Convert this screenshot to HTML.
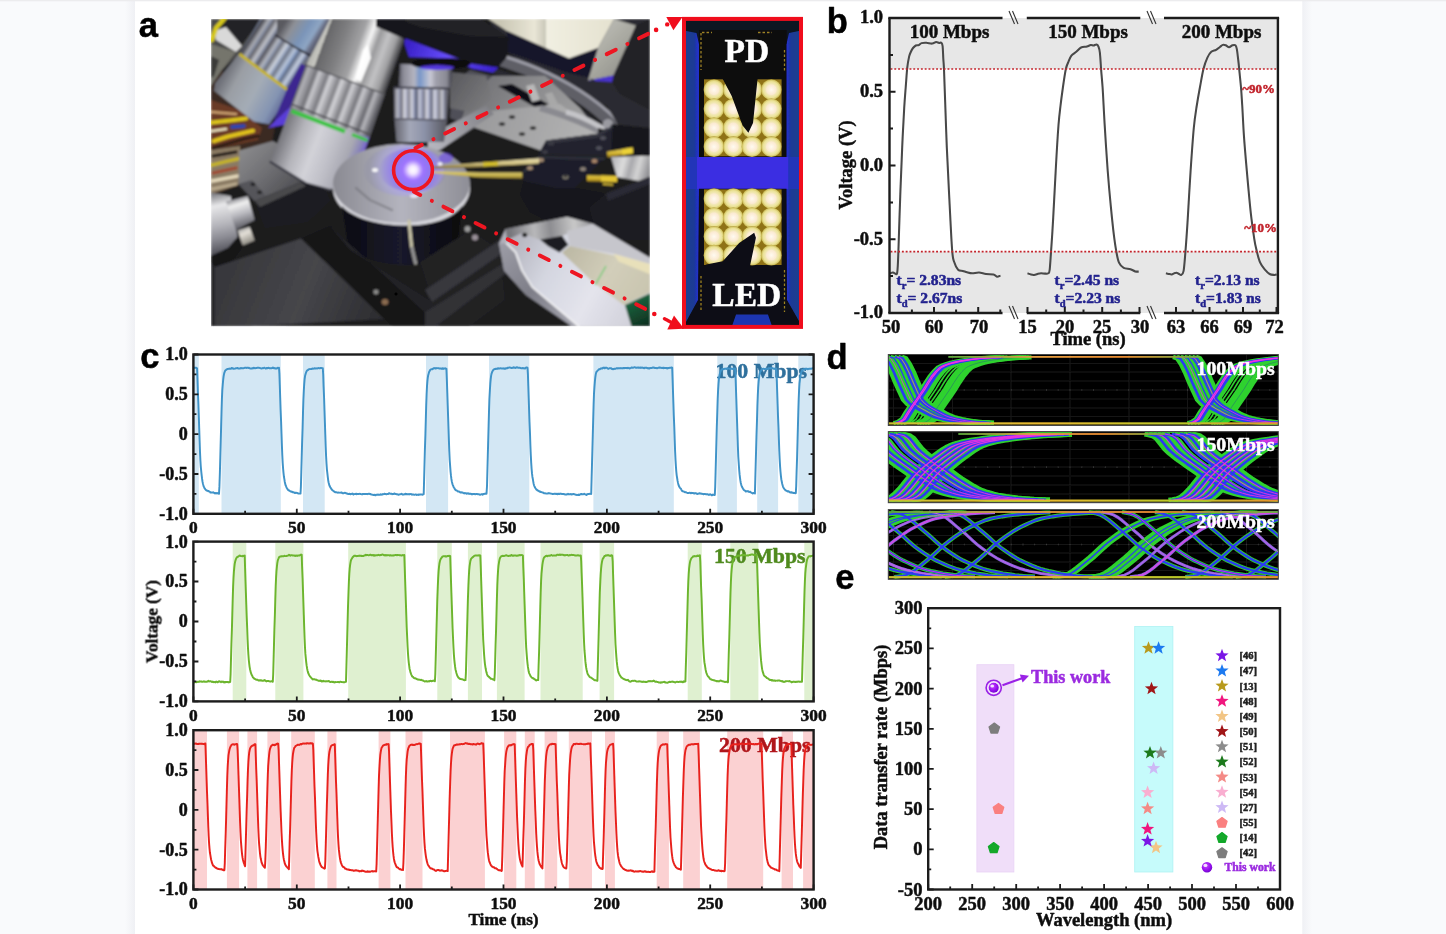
<!DOCTYPE html>
<html><head><meta charset="utf-8"><title>Figure</title>
<style>html,body{margin:0;padding:0;background:#f9fafc;overflow:hidden}svg{display:block}text{stroke-width:0.5px;paint-order:stroke fill;stroke-linejoin:round}</style>
</head><body>
<svg width="1446" height="934" viewBox="0 0 1446 934">
<defs><linearGradient id="shl" x1="0" x2="1"><stop offset="0" stop-color="#f9fafc"/><stop offset="1" stop-color="#eff0f4"/></linearGradient><linearGradient id="shr" x1="0" x2="1"><stop offset="0" stop-color="#eff0f4"/><stop offset="1" stop-color="#f9fafc"/></linearGradient></defs>
<rect x="0" y="0" width="1446" height="934" fill="#f9fafc"/>
<rect x="125" y="0" width="10" height="934" fill="url(#shl)"/>
<rect x="1302" y="0" width="10" height="934" fill="url(#shr)"/>
<rect x="135" y="0" width="1167.3" height="934" fill="#ffffff"/>
<rect x="0" y="0" width="1446" height="1.3" fill="#ececee"/>

<defs><filter id="soft" x="0" y="0" width="1446" height="934" filterUnits="userSpaceOnUse"><feGaussianBlur stdDeviation="0.4"/></filter></defs><g filter="url(#soft)">
<g id="pa">
<defs><linearGradient id="ag1" gradientUnits="userSpaceOnUse" x1="240" y1="150" x2="290" y2="200"><stop offset="0" stop-color="#8a8a8c"/><stop offset="0.5" stop-color="#6e6e72"/><stop offset="1" stop-color="#4c4c50"/></linearGradient><linearGradient id="ag2" gradientUnits="userSpaceOnUse" x1="500" y1="30" x2="615" y2="30"><stop offset="0" stop-color="#c9c6b4"/><stop offset="0.3" stop-color="#e9e6d6"/><stop offset="0.4" stop-color="#c8c6b8"/><stop offset="0.4" stop-color="#f1efe2"/><stop offset="1" stop-color="#e4e1cf"/></linearGradient><linearGradient id="ag3" gradientUnits="userSpaceOnUse" x1="600" y1="30" x2="640" y2="70"><stop offset="0" stop-color="#b9b9b2"/><stop offset="0.5" stop-color="#a4a49c"/><stop offset="1" stop-color="#8a8a86"/></linearGradient><linearGradient id="ag4" gradientUnits="userSpaceOnUse" x1="470" y1="80" x2="580" y2="150"><stop offset="0" stop-color="#6e6e72"/><stop offset="0.5" stop-color="#8e8e90"/><stop offset="1" stop-color="#a4a4a4"/></linearGradient><linearGradient id="ag5" gradientUnits="userSpaceOnUse" x1="480" y1="110" x2="590" y2="150"><stop offset="0" stop-color="#9a9a9c"/><stop offset="1" stop-color="#b4b4b4"/></linearGradient><linearGradient id="ag6" gradientUnits="userSpaceOnUse" x1="430" y1="140" x2="500" y2="100"><stop offset="0" stop-color="#b4b4bc"/><stop offset="1" stop-color="#77777c"/></linearGradient><linearGradient id="ag7" gradientUnits="userSpaceOnUse" x1="452" y1="80" x2="490" y2="105"><stop offset="0" stop-color="#5c5c60"/><stop offset="1" stop-color="#7c7c7e"/></linearGradient><linearGradient id="ag8" gradientUnits="userSpaceOnUse" x1="410" y1="40" x2="490" y2="72"><stop offset="0" stop-color="#3a22c8"/><stop offset="0.5" stop-color="#6a50ff"/><stop offset="1" stop-color="#3c24d0"/></linearGradient><linearGradient id="ag9" gradientUnits="userSpaceOnUse" x1="398" y1="0" x2="452" y2="0"><stop offset="0" stop-color="#4a4a54"/><stop offset="0.1" stop-color="#8c8c98"/><stop offset="0.3" stop-color="#b4b4c0"/><stop offset="0.4" stop-color="#7896c8"/><stop offset="0.6" stop-color="#c8c8d4"/><stop offset="0.7" stop-color="#a0a0ac"/><stop offset="0.9" stop-color="#8a8a94"/><stop offset="1" stop-color="#3e3e48"/></linearGradient><linearGradient id="ag10" gradientUnits="userSpaceOnUse" x1="394" y1="0" x2="448" y2="0"><stop offset="0" stop-color="#5c5c68"/><stop offset="0.1" stop-color="#a6a6b4"/><stop offset="0.3" stop-color="#d4d4de"/><stop offset="0.4" stop-color="#8088a8"/><stop offset="0.6" stop-color="#c8c8d8"/><stop offset="0.7" stop-color="#9aa0bc"/><stop offset="0.8" stop-color="#d0d0d8"/><stop offset="1" stop-color="#6a6a72"/></linearGradient><linearGradient id="ag11" gradientUnits="userSpaceOnUse" x1="394" y1="0" x2="401.5" y2="0" spreadMethod="repeat"><stop offset="0" stop-color="#3a3a46"/><stop offset="0.4" stop-color="#eeeef4"/><stop offset="0.7" stop-color="#8890b0"/><stop offset="1" stop-color="#3a3a46"/></linearGradient><linearGradient id="ag12" gradientUnits="userSpaceOnUse" x1="395" y1="0" x2="444" y2="0"><stop offset="0" stop-color="#666670"/><stop offset="0.3" stop-color="#a4a8b8"/><stop offset="0.6" stop-color="#8c92a8"/><stop offset="1" stop-color="#5e5e68"/></linearGradient><linearGradient id="ag13" gradientUnits="userSpaceOnUse" x1="285" y1="22" x2="322" y2="45"><stop offset="0" stop-color="#5a5a60"/><stop offset="0.2" stop-color="#8e9096"/><stop offset="0.5" stop-color="#7a94b8"/><stop offset="0.7" stop-color="#8fa6c4"/><stop offset="0.8" stop-color="#6a7086"/><stop offset="1" stop-color="#3a3a48"/></linearGradient><linearGradient id="ag14" gradientUnits="userSpaceOnUse" x1="243" y1="50" x2="300" y2="86"><stop offset="0" stop-color="#4c4c52"/><stop offset="0.2" stop-color="#a2a2a8"/><stop offset="0.3" stop-color="#6c6c74"/><stop offset="0.5" stop-color="#b4bcc8"/><stop offset="0.7" stop-color="#7f9ac4"/><stop offset="0.8" stop-color="#a8b4cc"/><stop offset="0.9" stop-color="#6a7088"/><stop offset="1" stop-color="#3c3c50"/></linearGradient><linearGradient id="ag15" gradientUnits="userSpaceOnUse" x1="250" y1="40" x2="258" y2="45.2" spreadMethod="repeat"><stop offset="0" stop-color="#3c3c44"/><stop offset="0.5" stop-color="#e4e8f0"/><stop offset="0.8" stop-color="#7c8cb0"/><stop offset="1" stop-color="#3c3c44"/></linearGradient><linearGradient id="ag16" gradientUnits="userSpaceOnUse" x1="222" y1="78" x2="284" y2="112"><stop offset="0" stop-color="#6e7078"/><stop offset="0.2" stop-color="#9a9ea4"/><stop offset="0.5" stop-color="#a4acb6"/><stop offset="0.8" stop-color="#8494b2"/><stop offset="0.9" stop-color="#6c78a0"/><stop offset="1" stop-color="#5a48b0"/></linearGradient><linearGradient id="ag17" gradientUnits="userSpaceOnUse" x1="306" y1="65" x2="385" y2="94"><stop offset="0" stop-color="#b4b4ae"/><stop offset="0.1" stop-color="#c8c8c2"/><stop offset="0.1" stop-color="#666668"/><stop offset="0.3" stop-color="#7e7e80"/><stop offset="0.5" stop-color="#a2a2a4"/><stop offset="0.6" stop-color="#f2f2f2"/><stop offset="0.6" stop-color="#fafafa"/><stop offset="0.7" stop-color="#9a9a9c"/><stop offset="0.8" stop-color="#c2c2c4"/><stop offset="0.9" stop-color="#a0a0a2"/><stop offset="1" stop-color="#38383c"/></linearGradient><linearGradient id="ag18" gradientUnits="userSpaceOnUse" x1="298" y1="85" x2="377" y2="115"><stop offset="0" stop-color="#56565c"/><stop offset="0.1" stop-color="#9a9aa0"/><stop offset="0.4" stop-color="#c4c4c8"/><stop offset="0.6" stop-color="#b8b8bc"/><stop offset="0.8" stop-color="#a0a0a6"/><stop offset="1" stop-color="#58585e"/></linearGradient><linearGradient id="ag19" gradientUnits="userSpaceOnUse" x1="300" y1="80" x2="311.2" y2="84.2" spreadMethod="repeat"><stop offset="0" stop-color="#4c4c52"/><stop offset="0.3" stop-color="#e4e4e8"/><stop offset="0.7" stop-color="#8c8c92"/><stop offset="1" stop-color="#4c4c52"/></linearGradient><linearGradient id="ag20" gradientUnits="userSpaceOnUse" x1="282" y1="135" x2="362" y2="166"><stop offset="0" stop-color="#7a7a80"/><stop offset="0.2" stop-color="#b4b4ba"/><stop offset="0.4" stop-color="#d2d2d8"/><stop offset="0.6" stop-color="#c0c0c8"/><stop offset="0.8" stop-color="#a8a8b2"/><stop offset="0.9" stop-color="#8a86b8"/><stop offset="1" stop-color="#6a4ae0"/></linearGradient><linearGradient id="ag21" gradientUnits="userSpaceOnUse" x1="333" y1="0" x2="470" y2="0"><stop offset="0" stop-color="#8a8a92"/><stop offset="0.5" stop-color="#b4b4be"/><stop offset="1" stop-color="#8e8e96"/></linearGradient><radialGradient id="ag22" gradientUnits="userSpaceOnUse" cx="411" cy="170" r="42"><stop offset="0" stop-color="#e6dcff" stop-opacity="1"/><stop offset="0.35" stop-color="#b8aef0" stop-opacity="1"/><stop offset="0.75" stop-color="#a8a6c8" stop-opacity="1"/><stop offset="1" stop-color="#9a9aa8" stop-opacity="1"/></radialGradient><radialGradient id="ag23" gradientUnits="userSpaceOnUse" cx="413" cy="170" r="34"><stop offset="0" stop-color="#ffffff" stop-opacity="1"/><stop offset="0.12" stop-color="#f4e8ff" stop-opacity="1"/><stop offset="0.3" stop-color="#9a6cff" stop-opacity="0.9"/><stop offset="0.6" stop-color="#6a4af0" stop-opacity="0.45"/><stop offset="1" stop-color="#5a3ae0" stop-opacity="0"/></radialGradient><linearGradient id="ag24" gradientUnits="userSpaceOnUse" x1="345" y1="0" x2="455" y2="0"><stop offset="0" stop-color="#0c0c12"/><stop offset="0.5" stop-color="#1a1a2c"/><stop offset="1" stop-color="#0a0a10"/></linearGradient><linearGradient id="ag25" gradientUnits="userSpaceOnUse" x1="218" y1="192" x2="232" y2="256"><stop offset="0" stop-color="#77777c"/><stop offset="0.2" stop-color="#e8e8ea"/><stop offset="0.5" stop-color="#b4b4ba"/><stop offset="0.7" stop-color="#8a8a92"/><stop offset="1" stop-color="#3c3c44"/></linearGradient><linearGradient id="ag26" gradientUnits="userSpaceOnUse" x1="236" y1="198" x2="246" y2="230"><stop offset="0" stop-color="#8c8c92"/><stop offset="0.2" stop-color="#f0f0f0"/><stop offset="0.5" stop-color="#b8b8be"/><stop offset="1" stop-color="#4a4a52"/></linearGradient><linearGradient id="ag27" gradientUnits="userSpaceOnUse" x1="242" y1="228" x2="250" y2="246"><stop offset="0" stop-color="#a8a8a8"/><stop offset="0.3" stop-color="#e4e0d8"/><stop offset="1" stop-color="#77746c"/></linearGradient><linearGradient id="ag28" gradientUnits="userSpaceOnUse" x1="230" y1="260" x2="380" y2="320"><stop offset="0" stop-color="#38383c"/><stop offset="0.5" stop-color="#46464a"/><stop offset="1" stop-color="#2c2c30"/></linearGradient><linearGradient id="ag29" gradientUnits="userSpaceOnUse" x1="612" y1="160" x2="650" y2="170"><stop offset="0" stop-color="#b4b4b8"/><stop offset="0.3" stop-color="#dcdcdc"/><stop offset="0.5" stop-color="#a8a8ac"/><stop offset="0.7" stop-color="#d4d4d4"/><stop offset="1" stop-color="#8c8c90"/></linearGradient><linearGradient id="ag30" gradientUnits="userSpaceOnUse" x1="0" y1="160" x2="0" y2="167"><stop offset="0" stop-color="#e2d6a4"/><stop offset="0.6" stop-color="#cdbd7c"/><stop offset="1" stop-color="#8c7a3c"/></linearGradient><linearGradient id="ag31" gradientUnits="userSpaceOnUse" x1="0" y1="171" x2="0" y2="179"><stop offset="0" stop-color="#e0d080"/><stop offset="0.5" stop-color="#c9b650"/><stop offset="1" stop-color="#8a7428"/></linearGradient><linearGradient id="ag32" gradientUnits="userSpaceOnUse" x1="0" y1="149" x2="0" y2="157"><stop offset="0" stop-color="#e8d060"/><stop offset="0.5" stop-color="#d8b832"/><stop offset="1" stop-color="#94781c"/></linearGradient><linearGradient id="ag33" gradientUnits="userSpaceOnUse" x1="0" y1="175" x2="0" y2="182"><stop offset="0" stop-color="#e2c848"/><stop offset="0.5" stop-color="#cfae2c"/><stop offset="1" stop-color="#8e7218"/></linearGradient><linearGradient id="ag34" gradientUnits="userSpaceOnUse" x1="505" y1="245" x2="650" y2="326"><stop offset="0" stop-color="#b0b0ba"/><stop offset="0.3" stop-color="#d4d6e0"/><stop offset="0.6" stop-color="#e4e4ec"/><stop offset="1" stop-color="#cacad4"/></linearGradient><linearGradient id="ag35" gradientUnits="userSpaceOnUse" x1="500" y1="250" x2="570" y2="326"><stop offset="0" stop-color="#9a9aa4"/><stop offset="0.5" stop-color="#7e7e88"/><stop offset="1" stop-color="#a4a4ae"/></linearGradient><linearGradient id="ag36" gradientUnits="userSpaceOnUse" x1="510" y1="230" x2="590" y2="222"><stop offset="0" stop-color="#77777c"/><stop offset="0.3" stop-color="#b8b8ba"/><stop offset="0.5" stop-color="#8c8c90"/><stop offset="0.8" stop-color="#c8c8c8"/><stop offset="1" stop-color="#9a9a9e"/></linearGradient><linearGradient id="ag37" gradientUnits="userSpaceOnUse" x1="565" y1="250" x2="650" y2="300"><stop offset="0" stop-color="#bcb8a4"/><stop offset="0.5" stop-color="#d2ceba"/><stop offset="1" stop-color="#c8c4ae"/></linearGradient><linearGradient id="ag38" gradientUnits="userSpaceOnUse" x1="630" y1="296" x2="645" y2="326"><stop offset="0" stop-color="#1e6e44"/><stop offset="1" stop-color="#0e3020"/></linearGradient><clipPath id="phclip"><rect x="211" y="19" width="439" height="307.3"/></clipPath><filter id="phblur" x="-5%" y="-5%" width="110%" height="110%"><feGaussianBlur stdDeviation="0.9"/></filter></defs>
<g clip-path="url(#phclip)"><g filter="url(#phblur)">
<polygon points="211,19 650,19 650,326.3 211,326.3" fill="#1b1b1f" />
<polygon points="211,19 265,19 240,54 222,70 211,90" fill="#4a4a48" />
<polygon points="224,19 262,19 242,45 218,30" fill="#232325" />
<polygon points="214,31 226,27 242,46 236,52 216,40" fill="#d9d9d9" />
<polygon points="211,44 236,52 222,70 213,86 211,86" fill="#74746c" />
<polygon points="211,56 219,60 214,76 211,78" fill="#3a3a38" />
<polyline points="212,40 216,28 224,19" fill="none" stroke="#d6c81e" stroke-width="4.5" stroke-linecap="round" stroke-linejoin="round"/>
<polygon points="211,86 222,70 262,124 276,122 272,142 239,151 238,186 211,196" fill="#3a2a22" />
<polygon points="211,100 240,110 262,128 258,140 211,150" fill="#6a3a26" />
<polygon points="211,150 240,146 240,184 211,194" fill="#8a7a64" />
<polyline points="212,122.5 230,120.5 246,118.5" fill="none" stroke="#dcc41e" stroke-width="4.2" stroke-linecap="round" stroke-linejoin="round"/>
<polyline points="214,141 228,136.5 253,130.8" fill="none" stroke="#e0c21c" stroke-width="4.2" stroke-linecap="round" stroke-linejoin="round"/>
<polyline points="232,127 244,126" fill="none" stroke="#2846b8" stroke-width="3.4" stroke-linecap="round" stroke-linejoin="round"/>
<polyline points="212,112 236,114" fill="none" stroke="#caa070" stroke-width="2.6" stroke-linecap="round" stroke-linejoin="round"/>
<polyline points="212,131 226,129" fill="none" stroke="#e8e0c0" stroke-width="2.6" stroke-linecap="round" stroke-linejoin="round"/>
<polyline points="213,148 244,139 258,136" fill="none" stroke="#2a1a16" stroke-width="3.2" stroke-linecap="round" stroke-linejoin="round"/>
<polyline points="212,165 226,161.5 239.5,158.5" fill="none" stroke="#c4b228" stroke-width="3.6" stroke-linecap="round" stroke-linejoin="round"/>
<polyline points="213,156 236,152" fill="none" stroke="#1c1412" stroke-width="3" stroke-linecap="round" stroke-linejoin="round"/>
<polyline points="213,173 236,168" fill="none" stroke="#a04830" stroke-width="3.2" stroke-linecap="round" stroke-linejoin="round"/>
<polyline points="212,181 238,176" fill="none" stroke="#e2d6b8" stroke-width="3.4" stroke-linecap="round" stroke-linejoin="round"/>
<polyline points="212,189 236,184" fill="none" stroke="#b8a88c" stroke-width="3" stroke-linecap="round" stroke-linejoin="round"/>
<polygon points="239.3,150.5 272.7,141.1 290,150 301,182.2 254.7,201.1 238.4,184" fill="url(#ag1)" />
<polygon points="238.4,184 252,180 266,196 254.7,201.1" fill="#55555a" />
<polygon points="488,19 650,19 650,120 560,90 507,52" fill="#2a2a30" />
<polygon points="488.4,19 614,19 598,48 569,58.5 507,31" fill="url(#ag2)" />
<polygon points="507,31 569,58.5 598,48 590,78 565,72 507,52" fill="#16142a" />
<polygon points="614,19 636,25.5 613.5,75.5 588,80.5 598,48" fill="url(#ag3)" />
<polygon points="588,80.5 613.5,75.5 617,68 612,82" fill="#4a30d0" />
<polygon points="636,25.5 650,19 650,140 612,82 613.5,75.5" fill="#222226" />
<path d="M480,55 C540,70 600,100 632,148" fill="none" stroke="#5e5e66" stroke-width="11"/>
<path d="M480,50 C542,64 604,96 637,144" fill="none" stroke="#9c9ca6" stroke-width="3"/>
<path d="M470,64 C530,80 590,108 622,152" fill="none" stroke="#2a2a30" stroke-width="6"/>
<polygon points="590,78 650,110 650,150 632,148" fill="#2c2c30" />
<polygon points="492,76 545,76 580,108 598,132 540,150 460,122 470,96" fill="url(#ag4)" />
<polygon points="492,76 470,96 460,122 450,118 452,84 470,70" fill="#505058" />
<polygon points="498,86 512,84 548,104 540,110" fill="#111114" />
<polygon points="526,86 534,84 540,100 532,102" fill="#b8b8b8" />
<polygon points="545,94 552,92 560,108 552,110" fill="#a8a8a8" />
<polygon points="482,112 560,104 600,134 546,152 470,126" fill="url(#ag5)" />
<ellipse cx="502" cy="124" rx="3.2" ry="1.8" fill="#2a2a2c" />
<ellipse cx="512" cy="117" rx="3.2" ry="1.8" fill="#2a2a2c" />
<ellipse cx="522" cy="134" rx="3.2" ry="1.8" fill="#2a2a2c" />
<ellipse cx="533" cy="128" rx="3.2" ry="1.8" fill="#2a2a2c" />
<path d="M540,108 C575,118 605,132 630,150" fill="none" stroke="#8a8a90" stroke-width="6"/>
<path d="M566,112 C590,118 612,134 628,146" fill="none" stroke="#c4c4c8" stroke-width="5"/>
<polygon points="598,128 650,140 650,200 600,190" fill="#1a1a1c" />
<ellipse cx="608" cy="124" rx="5" ry="5" fill="#9a9aa0" />
<polygon points="428,136 486,106 494,114 470,130 440,150 428,150" fill="url(#ag6)" />
<polygon points="450,72 486,76 492,100 470,112 450,108" fill="url(#ag7)" />
<polygon points="380,19 481,19 508.6,38 507,57 498.5,67 472.5,64 403,38 380,30" fill="#19191b" />
<polygon points="398,19 481,19 506,37 470,36 420,27" fill="#232325" />
<polygon points="404.5,38 472.5,64 498.5,67.5 493,72.5 472,68.5 452,58.5 409,57 404.5,44" fill="url(#ag8)" />
<polygon points="400,64 452.5,66 451,88 398.5,87" fill="url(#ag9)" />
<polygon points="393.7,87 448.5,88 447,120 394.5,119" fill="url(#ag10)" />
<polygon points="393.7,89 448.5,90 447,119 394.5,118" fill="url(#ag11)" opacity="0.5" />
<polygon points="394.5,119 447,120 444,142 396.5,142" fill="url(#ag12)" />
<polyline points="393.7,87.5 448.5,88.5" fill="none" stroke="#3c3c48" stroke-width="1.8" stroke-linecap="butt" stroke-linejoin="round"/>
<polyline points="394.5,119 447,120" fill="none" stroke="#4a4a56" stroke-width="1.4" stroke-linecap="butt" stroke-linejoin="round"/>
<ellipse cx="441" cy="63.5" rx="30" ry="5.6" fill="#0c0c10" />
<ellipse cx="437" cy="67.5" rx="17" ry="2.6" fill="#5a3cf0" opacity="0.9" />
<polygon points="277,19 331,19 311.6,55 274.5,35.5 270,26" fill="url(#ag13)" />
<polygon points="260.2,19 277,19 276.9,35.5 311.6,56 301,70 287.2,88.5 239.7,53.5" fill="url(#ag14)" />
<polygon points="260.2,19 277,19 276.9,35.5 311.6,56 301,70 287.2,88.5 239.7,53.5" fill="url(#ag15)" opacity="0.5" />
<polyline points="275,35 293,46 311,56.5" fill="none" stroke="#2a2a34" stroke-width="1.6" stroke-linecap="butt" stroke-linejoin="round"/>
<polygon points="239,53.5 287.2,89.5 288.5,97.2 269.2,124.2 253.8,121.6 214,90.8 215.3,83" fill="url(#ag16)" />
<polyline points="239.5,54 254,65 270,77 287,89.5" fill="none" stroke="#c6b428" stroke-width="3" stroke-linecap="butt" stroke-linejoin="round"/>
<polygon points="287.5,88 301,63.5 306,66 291,106 276,120 273.5,121.6" fill="#3c2890" />
<polygon points="276,120 291,106 288,124 268,128" fill="#5a3cd8" />
<polygon points="330,19 397,19 404,41 385,94.2 306,65.1" fill="url(#ag17)" />
<polygon points="363,50 368,44 371,58 361,82 355,79" fill="#ffffff" opacity="0.95" />
<polygon points="306,65.1 384.8,94.2 369.4,137.5 290.6,107" fill="url(#ag18)" />
<polygon points="306,65.1 384.8,94.2 369.4,137.5 290.6,107" fill="url(#ag19)" opacity="0.55" />
<polyline points="306,65.1 384.8,94.2" fill="none" stroke="#55555a" stroke-width="1.4" stroke-linecap="butt" stroke-linejoin="round"/>
<polyline points="292,104.5 370,134.5" fill="none" stroke="#4a4a50" stroke-width="1.6" stroke-linecap="butt" stroke-linejoin="round"/>
<polygon points="290.6,107 369.4,137.5 352.5,186.5 330,190 306,183.5 270.5,162" fill="url(#ag20)" />
<polyline points="291.5,111 345,131.5" fill="none" stroke="#3cc244" stroke-width="4.2" stroke-linecap="butt" stroke-linejoin="round"/>
<polyline points="352,134.5 367.5,140.5" fill="none" stroke="#3cc244" stroke-width="3.4" stroke-linecap="butt" stroke-linejoin="round"/>
<polyline points="270.5,162 306,183.5 330,190 352.5,186.5" fill="none" stroke="#3a3a44" stroke-width="2.2" stroke-linecap="round" stroke-linejoin="round"/>
<polygon points="376,19 406,19 406,39.5 376,26.5" fill="#19191b" />
<ellipse cx="401.5" cy="188" rx="68.5" ry="40.5" fill="#d6d6dc" />
<ellipse cx="401.5" cy="183.5" rx="68.5" ry="39.5" fill="url(#ag21)" />
<ellipse cx="404" cy="170.5" rx="40" ry="25.5" fill="url(#ag22)" />
<ellipse cx="413" cy="170" rx="34" ry="22" fill="url(#ag23)" />
<ellipse cx="446" cy="158" rx="7" ry="5" fill="#6a48f0" opacity="0.6" />
<ellipse cx="375" cy="170" rx="3" ry="2" fill="#ffffff" opacity="0.9" />
<ellipse cx="440" cy="164" rx="2.5" ry="1.8" fill="#ffffff" opacity="0.9" />
<ellipse cx="414" cy="196" rx="4" ry="1.8" fill="#f4f0ff" opacity="0.9" />
<polyline points="356,188 370,200 392,210" fill="none" stroke="#77777f" stroke-width="2.4" stroke-linecap="round" stroke-linejoin="round" opacity="0.7"/>
<path d="M342,206 C360,228 440,236 462,206 L458,246 C440,272 370,270 348,246 Z" fill="url(#ag24)"/>
<polyline points="409,221 411.5,246 415.5,263" fill="none" stroke="#c8c4a8" stroke-width="3.2" stroke-linecap="round" stroke-linejoin="round"/>
<polyline points="412,248 415.5,263" fill="none" stroke="#8c8c90" stroke-width="2.6" stroke-linecap="round" stroke-linejoin="round"/>
<polygon points="254.7,201.1 301,182.2 325,189 330,200 307.8,222 265,228" fill="#1e1e22" />
<polygon points="254.7,201.1 301,182.2 306,186 260,207" fill="#48484c" />
<ellipse cx="253" cy="184.3" rx="2.4" ry="1.8" fill="#1a1a1c" />
<ellipse cx="259.6" cy="192.3" rx="2.4" ry="1.8" fill="#1a1a1c" />
<polygon points="211,192.5 230.7,196 237.6,237 228,248 211,256" fill="url(#ag25)" />
<polygon points="226,201.5 247.8,196 254.7,220 236,230" fill="url(#ag26)" />
<polygon points="237.6,230.2 249.6,226.8 254.7,240.5 242.7,245.6" fill="url(#ag27)" />
<polygon points="211,256 228,248 237.6,237 243,246 232,262 211,268" fill="#141416" />
<polygon points="215,267 301,238.5 385,319 250,326.3 215,326.3" fill="url(#ag28)" />
<polygon points="211,262 215,267 215,326.3 211,326.3" fill="#26262a" />
<polygon points="301,238.5 330,226 440,326.3 392,326.3" fill="#141418" />
<polygon points="330,226 350,250 470,326.3 440,326.3" fill="#222228" />
<ellipse cx="376" cy="292" rx="2.6" ry="2.4" fill="#8a8a88" />
<ellipse cx="385" cy="302" rx="3.4" ry="3" fill="#8a6a50" />
<ellipse cx="396" cy="294" rx="1.6" ry="1.6" fill="#050505" />
<polygon points="420,262 470,230 500,250 505,300 470,326.3 440,326.3" fill="#202024" />
<polygon points="425,290 500,240 504,252 432,302" fill="#38383e" />
<polygon points="425,312 505,262 508,272 436,326.3 425,326.3" fill="#303036" />
<ellipse cx="467.5" cy="229" rx="3" ry="3" fill="#9a9a9a" />
<ellipse cx="475" cy="237.5" rx="3" ry="3" fill="#9a9098" />
<polygon points="611,157 650,155.5 650,183 617,177" fill="url(#ag29)" />
<polygon points="612,124 650,128 650,156 611.3,152" fill="#17171b" />
<polygon points="605.7,193.5 650,176.8 650,240 597.4,240 589,207.4" fill="#1b1b21" />
<polygon points="605.7,193.5 650,176.8 650,184 608,201" fill="#2c2c34" />
<polygon points="523.7,181 555.7,187.9 575.1,187.9 605.7,193.5 589,207.4 597.4,240 560,228 530,212 520,195" fill="#15151a" />
<polygon points="545.9,140.6 597.4,133.7 612.7,123.9 611.3,151.7 605.7,155.9 539,154.5 540.4,150.4" fill="#21232d" />
<polygon points="545.9,140.6 597.4,133.7 612.7,123.9 612.5,128 598,137.5 546.5,144" fill="#34363f" />
<polygon points="522.3,171.2 539,155.9 605.7,157.3 575.1,187.9 555.7,187.9 523.7,181" fill="#1d1f29" />
<polygon points="522.3,171.2 539,155.9 605.7,157.3 604,160 540,158.5 525,172.5" fill="#2e303a" />
<ellipse cx="551" cy="143.5" rx="3" ry="2.1" fill="#3a3a44" />
<ellipse cx="545" cy="152" rx="3" ry="2.1" fill="#3a3a44" />
<ellipse cx="603" cy="138" rx="3" ry="2.1" fill="#50505a" />
<ellipse cx="599" cy="148" rx="3" ry="2.1" fill="#50505a" />
<ellipse cx="541" cy="160" rx="3" ry="2.1" fill="#a08870" />
<ellipse cx="530" cy="168" rx="3" ry="2.1" fill="#a08870" />
<ellipse cx="594.5" cy="161" rx="3" ry="2.1" fill="#a88468" />
<ellipse cx="583" cy="169" rx="3" ry="2.1" fill="#8a8078" />
<ellipse cx="565.5" cy="177" rx="3" ry="2.1" fill="#8a8678" />
<ellipse cx="565.5" cy="176.5" rx="1.6" ry="1.2" fill="#1a1a1e" />
<ellipse cx="607" cy="124" rx="4.2" ry="4.2" fill="#9a9aa0" />
<polygon points="432,166.6 470,163.6 539,158.2 539,163.6 470,167.6 432,168.6" fill="url(#ag30)" />
<polygon points="432,171.2 480,172.6 522.3,172.4 522.3,178.6 480,177.4 432,173" fill="url(#ag31)" />
<polyline points="483,164.6 498,163.4" fill="none" stroke="#d2bc2a" stroke-width="4" stroke-linecap="butt" stroke-linejoin="round"/>
<polygon points="607,151.8 632.5,147.6 633,153.2 607.5,157.4" fill="url(#ag32)" />
<polygon points="622,149.2 632.5,147.4 633,153.3 622.5,155" fill="#ecd238" />
<polygon points="587,175.2 617,176 617,182 587,181.2" fill="url(#ag33)" />
<polygon points="601,175.6 617,176 617,182 601,181.6" fill="#e4c634" />
<polyline points="603,184 613,184.6" fill="none" stroke="#c8ae30" stroke-width="2.2" stroke-linecap="butt" stroke-linejoin="round"/>
<polygon points="499,243.4 505.4,229.3 567.1,217.1 592.8,224.1 650,258 650,326.3 572.2,326.3 526,294.8 504.1,270.4" fill="url(#ag34)" />
<polygon points="499,243.4 506.7,243.4 515.7,252.4 522.1,270.4 532.4,287.1 578.7,326.3 572.2,326.3 526,294.8 504.1,270.4" fill="url(#ag35)" />
<polyline points="506.7,243.4 515.7,252.4 522.1,270.4 532.4,287.1 578.7,326.3" fill="none" stroke="#f2f2f4" stroke-width="1.8" stroke-linecap="round" stroke-linejoin="round"/>
<polygon points="505.4,229.3 567.1,217.1 592.8,224.1 562,235.7 538.8,239.6 522.1,233.1 507,240" fill="url(#ag36)" />
<ellipse cx="524.7" cy="235" rx="2.6" ry="2.2" fill="#151515" />
<polygon points="567,231 592.8,224.1 650,258 650,264 613.4,253.7 569.7,246" fill="#c6c6cc" />
<polygon points="540.1,239.6 562,235.7 568.4,244.7 559.4,252.4 547.8,246" fill="#1c1c20" />
<polygon points="562,252.4 569.7,246 613.4,255 650,269.1 650,292.2 623.6,305.1 592.8,282" fill="url(#ag37)" />
<polygon points="613.4,253.7 650,264 650,274.3 618.5,261.4" fill="#e8e0ba" />
<polyline points="605.7,266.5 595.4,284.5" fill="none" stroke="#5ccc66" stroke-width="1.4" stroke-linecap="round" stroke-linejoin="round" opacity="0.85"/>
<polygon points="624.9,305.1 650,293.2 650,326.3 631.4,326.3" fill="url(#ag38)" />
</g></g>
<circle cx="413" cy="170.2" r="19.4" fill="none" stroke="#ee1520" stroke-width="3.6"/>
<path d="M415.5,148L650,32.9" stroke="#ee1520" stroke-width="4" stroke-linecap="round" stroke-dasharray="10,13,0.01,13" stroke-dashoffset="3" fill="none"/>
<path d="M414,191.8L649,310.8" stroke="#ee1520" stroke-width="4" stroke-linecap="round" stroke-dasharray="10,13,0.01,13" stroke-dashoffset="3" fill="none"/>
</g>
<g id="inset">
<defs><radialGradient id="ledc" cx="0.5" cy="0.5" r="0.5"><stop offset="0" stop-color="#fffaf0"/><stop offset="0.46" stop-color="#fbead2"/><stop offset="0.56" stop-color="#f2e8b8"/><stop offset="0.78" stop-color="#ebe296"/><stop offset="0.93" stop-color="#d2c464"/><stop offset="1" stop-color="#ad9836"/></radialGradient><linearGradient id="insbg" x1="0" x2="1"><stop offset="0" stop-color="#1b3f8c"/><stop offset="0.1" stop-color="#1c3a96"/><stop offset="0.13" stop-color="#2230c8"/><stop offset="0.87" stop-color="#2230c8"/><stop offset="0.9" stop-color="#1c3a96"/><stop offset="1" stop-color="#1b3f8c"/></linearGradient><filter id="insblur" x="-5%" y="-5%" width="110%" height="110%"><feGaussianBlur stdDeviation="0.7"/></filter><clipPath id="insclip"><rect x="684" y="19" width="117" height="308"/></clipPath></defs>
<g clip-path="url(#insclip)"><g filter="url(#insblur)">
<rect x="682" y="17" width="121" height="312" fill="url(#insbg)"/>
<polygon points="684,19 801,19 801,30.5 789,33 786.5,44 699,44 696.5,33 684,30.5" fill="#0b1422"/>
<rect x="699" y="30" width="87.5" height="127.5" fill="#0a0a10"/>
<rect x="697" y="157" width="91.5" height="32" fill="#3b2fe2"/>
<rect x="686" y="157" width="11" height="32" fill="#2236b8"/>
<rect x="788.5" y="157" width="12" height="32" fill="#2236b8"/>
<polygon points="699,188.7 786.5,188.7 787,300 799.5,322 799.5,326 686,326 686,322 698,300" fill="#0a0a12"/>
<polygon points="732,326 736,314.5 768,314.5 772,326" fill="#1c36b0"/>
<path d="M701,33V70M784.5,50V72M701,276V312M784.5,270V312" stroke="#b89a28" stroke-width="1.3" stroke-dasharray="2.5,2" fill="none" opacity="0.85"/>
<path d="M702,32.5H712M758,32.5H772" stroke="#b89a28" stroke-width="1.3" stroke-dasharray="2.5,2" fill="none" opacity="0.85"/>
<rect x="704" y="79.3" width="77.6" height="77" fill="#8f7216"/>
<rect x="704" y="189.4" width="77.6" height="75.6" fill="#8f7216"/>
<circle cx="714" cy="89.7" r="10.4" fill="url(#ledc)"/>
<circle cx="733.3" cy="89.7" r="10.4" fill="url(#ledc)"/>
<circle cx="752" cy="89.7" r="10.4" fill="url(#ledc)"/>
<circle cx="771.3" cy="89.7" r="10.4" fill="url(#ledc)"/>
<circle cx="714" cy="108.8" r="10.4" fill="url(#ledc)"/>
<circle cx="733.3" cy="108.8" r="10.4" fill="url(#ledc)"/>
<circle cx="752" cy="108.8" r="10.4" fill="url(#ledc)"/>
<circle cx="771.3" cy="108.8" r="10.4" fill="url(#ledc)"/>
<circle cx="714" cy="127.9" r="10.4" fill="url(#ledc)"/>
<circle cx="733.3" cy="127.9" r="10.4" fill="url(#ledc)"/>
<circle cx="752" cy="127.9" r="10.4" fill="url(#ledc)"/>
<circle cx="771.3" cy="127.9" r="10.4" fill="url(#ledc)"/>
<circle cx="714" cy="146.7" r="10.4" fill="url(#ledc)"/>
<circle cx="733.3" cy="146.7" r="10.4" fill="url(#ledc)"/>
<circle cx="752" cy="146.7" r="10.4" fill="url(#ledc)"/>
<circle cx="771.3" cy="146.7" r="10.4" fill="url(#ledc)"/>
<circle cx="714" cy="198.7" r="10.4" fill="url(#ledc)"/>
<circle cx="733.3" cy="198.7" r="10.4" fill="url(#ledc)"/>
<circle cx="752" cy="198.7" r="10.4" fill="url(#ledc)"/>
<circle cx="771.3" cy="198.7" r="10.4" fill="url(#ledc)"/>
<circle cx="714" cy="217.8" r="10.4" fill="url(#ledc)"/>
<circle cx="733.3" cy="217.8" r="10.4" fill="url(#ledc)"/>
<circle cx="752" cy="217.8" r="10.4" fill="url(#ledc)"/>
<circle cx="771.3" cy="217.8" r="10.4" fill="url(#ledc)"/>
<circle cx="714" cy="236.5" r="10.4" fill="url(#ledc)"/>
<circle cx="733.3" cy="236.5" r="10.4" fill="url(#ledc)"/>
<circle cx="752" cy="236.5" r="10.4" fill="url(#ledc)"/>
<circle cx="771.3" cy="236.5" r="10.4" fill="url(#ledc)"/>
<circle cx="714" cy="255.2" r="10.4" fill="url(#ledc)"/>
<circle cx="733.3" cy="255.2" r="10.4" fill="url(#ledc)"/>
<circle cx="752" cy="255.2" r="10.4" fill="url(#ledc)"/>
<circle cx="771.3" cy="255.2" r="10.4" fill="url(#ledc)"/>
<polygon points="722.5,78.5 757.6,78.5 755.8,96 753,123 748.4,132.8 742.6,125.5 731.7,96" fill="#0a0a10"/>
<polygon points="703.5,266 706.4,264.5 722.8,261.2 739.2,243 754.2,232.8 755.9,237.8 750.2,265 750.2,268 703.5,268" fill="#0a0a12"/>
</g></g>
<rect x="684" y="18.9" width="117" height="308" fill="none" stroke="#f0101c" stroke-width="4"/>
<text x="746.9" y="61.8" font-family="'Liberation Serif',serif" font-size="33.5" font-weight="bold" text-anchor="middle" fill="#ffffff" stroke="#ffffff" >PD</text>
<text x="746.8" y="306.2" font-family="'Liberation Serif',serif" font-size="33.5" font-weight="bold" text-anchor="middle" fill="#ffffff" stroke="#ffffff" >LED</text>
<circle cx="656.1" cy="29.9" r="2.3" fill="#f0101c"/>
<circle cx="667.2" cy="24.4" r="2.2" fill="#f0101c"/>
<polygon points="666.3,16.9 682.5,16.9 673.4,30.2" fill="#f0101c"/>
<circle cx="654.3" cy="314" r="2.3" fill="#f0101c"/>
<path d="M664.5,318.7L671,322.2" stroke="#f0101c" stroke-width="3.4" stroke-linecap="round"/>
<polygon points="674,315.5 684,328.8 667.3,329.6" fill="#f0101c"/>
</g>
<g id="pb">
<rect x="889.5" y="18" width="388.4" height="51" fill="#e7e7e7"/>
<rect x="889.5" y="251.6" width="388.4" height="61.4" fill="#e7e7e7"/>
<path d="M889.9,273.3C890.4,273.2 892.1,272.5 893,272.6C893.9,272.7 894.9,273.6 895.5,273.8C896.1,274 896.5,274.6 896.8,274C897.1,273.4 897.2,273.7 897.5,270C897.8,266.3 898,263.1 898.4,251C898.8,238.9 899.7,210.9 900.3,194.3C900.9,177.7 901.6,160.9 902.2,147.1C902.8,133.3 903.6,117.5 904.2,108C904.8,98.5 905.2,93.9 905.7,87.5C906.2,81.1 906.7,73.1 907.2,68.2C907.7,63.3 908.5,59.3 909.1,56.6C909.7,53.9 910.4,52.9 911,51.5C911.6,50.1 912.2,49 913,48C913.8,47 914.9,46 915.8,45.5C916.7,45 917.8,45.5 918.7,45.1C919.6,44.7 920.4,43.5 921.6,43.1C922.8,42.7 924.7,42.6 926.4,42.7C928.1,42.8 930.6,43.7 932.2,43.6C933.8,43.5 935,42.1 936.1,42C937.2,41.9 938.2,42.8 939,42.9C939.8,43 940.8,42.2 941.4,42.7C942,43.2 942.3,43.5 942.6,46C942.9,48.5 943.1,54.9 943.3,58.6C943.5,62.3 943.7,62.6 944,69.2C944.3,75.8 944.7,87.5 945.1,100C945.5,112.5 946.2,132 946.8,147.1C947.4,162.2 948.2,177.7 949.1,194.3C950,210.9 951.3,240 952.2,250.9C953.1,261.8 953.6,259.7 954.5,262.7C955.4,265.7 956.8,268.4 958.1,269.7C959.4,271 961.4,270.5 962.8,270.9C964.2,271.3 965.5,271.9 967,272.3C968.5,272.7 970.3,273.3 972.2,273.3C974.1,273.3 976.8,272.4 979,272.5C981.2,272.6 983.7,273.7 986,274C988.3,274.3 991.6,274 993.4,274.4C995.2,274.8 995.9,276.6 997,276.8C998.1,277 999.9,275.8 1000.5,275.6" fill="none" stroke="#484848" stroke-width="2.05" stroke-linejoin="round"/>
<path d="M1027.5,273.3C1028.1,273.5 1029.9,274.2 1031,274.5C1032.1,274.8 1033,275 1034.1,274.9C1035.2,274.8 1036.9,274.1 1038,273.8C1039.1,273.5 1040.1,273.3 1041.2,273.3C1042.3,273.3 1043.9,273.6 1045,273.6C1046.1,273.6 1047.5,273.9 1048.3,273.3C1049.1,272.7 1049.3,273.3 1049.7,269.7C1050.1,266.1 1050.5,259.2 1051.1,250.9C1051.7,242.6 1052.5,230.7 1053.2,217.9C1053.9,205.1 1054.9,185.6 1055.7,170.7C1056.5,155.8 1057.7,135.5 1058.5,125C1059.3,114.5 1059.9,111 1060.6,105C1061.3,99 1062.1,93.2 1062.9,87.5C1063.7,81.8 1064.9,73.4 1065.8,69.2C1066.7,65 1067.7,63.6 1068.6,61.4C1069.5,59.2 1070.2,57.2 1071.4,55.7C1072.6,54.2 1074.7,53.1 1076.3,51.8C1077.9,50.5 1079.4,48.3 1081.1,47.5C1082.8,46.7 1085.4,46.9 1086.9,46.5C1088.4,46.1 1089.6,45.3 1090.7,45.1C1091.8,44.9 1092.7,45.6 1093.6,45.5C1094.5,45.4 1095.7,44.4 1096.5,44.6C1097.3,44.8 1097.9,45.2 1098.4,46.5C1098.9,47.8 1099.5,49.2 1099.9,52.8C1100.3,56.4 1100.7,63.6 1101.1,69.2C1101.5,74.8 1102,78.8 1102.6,87.5C1103.2,96.2 1103.8,110.3 1104.6,123.6C1105.4,136.9 1106.7,157.5 1107.7,170.7C1108.7,183.9 1109.8,195.9 1110.8,206.1C1111.8,216.3 1112.9,227.2 1113.8,234.4C1114.7,241.6 1115.4,246.4 1116.2,250.9C1117,255.4 1117.8,260 1119,262.7C1120.2,265.4 1121.9,266.9 1123.7,267.9C1125.5,268.9 1128.6,268.6 1130.5,269.2C1132.4,269.8 1134,271 1135.3,271.4C1136.6,271.8 1138.2,271.6 1138.7,271.6" fill="none" stroke="#484848" stroke-width="2.05" stroke-linejoin="round"/>
<path d="M1165.9,273.3C1166.4,273.4 1168.1,273.8 1169,274C1169.9,274.2 1171,274.5 1171.8,274.4C1172.6,274.3 1173.2,273.7 1174,273.4C1174.8,273.1 1175.7,272.7 1176.5,272.8C1177.3,272.9 1178.2,273.7 1179,274C1179.8,274.3 1180.5,275.4 1181.2,274.9C1181.9,274.4 1182.9,274.7 1183.6,270.9C1184.3,267.1 1184.8,259.4 1185.5,250.9C1186.2,242.4 1187,230.7 1187.8,217.9C1188.6,205.1 1189.6,185.1 1190.6,170.7C1191.6,156.3 1192.8,138.4 1193.8,128C1194.8,117.6 1195.7,112.5 1196.7,106C1197.7,99.5 1198.8,93.4 1199.9,87.5C1201,81.6 1202.2,74 1203.4,69.2C1204.6,64.4 1206.1,60.4 1207.4,57.6C1208.7,54.8 1209.9,53 1211.3,51.8C1212.7,50.6 1214.7,50.7 1216.1,49.9C1217.5,49.1 1218.8,47.8 1219.9,47C1221,46.2 1221.9,45.2 1222.8,44.9C1223.7,44.6 1224.7,44.9 1225.7,45.3C1226.7,45.7 1228,47.2 1229.1,47.2C1230.2,47.2 1231.5,45.6 1232.5,45.3C1233.5,45 1234.7,44.7 1235.4,45.3C1236.1,45.9 1236.3,46.5 1236.8,48.9C1237.3,51.3 1237.9,57.3 1238.3,60.5C1238.7,63.7 1238.8,64.9 1239.2,69.2C1239.6,73.5 1240.5,81.8 1241,87.5C1241.5,93.2 1241.7,97.3 1242.2,105C1242.7,112.7 1243.2,124.9 1243.9,135.4C1244.6,145.9 1245.7,158.3 1246.8,170.7C1247.9,183.1 1249.6,202.3 1250.8,213.2C1252,224.1 1253.4,233.1 1254.3,239.1C1255.2,245.1 1255.8,247.1 1256.7,250.9C1257.6,254.7 1258.9,259.7 1260.2,262.7C1261.5,265.7 1263.4,267.9 1264.9,269.7C1266.4,271.5 1268.1,273.2 1269.6,274C1271.1,274.8 1273.2,274.8 1274.3,274.9C1275.4,275 1276.3,274.5 1276.7,274.4" fill="none" stroke="#484848" stroke-width="2.05" stroke-linejoin="round"/>
<line x1="890.5" y1="69" x2="1276.9" y2="69" stroke="#c4232b" stroke-width="1.7" stroke-dasharray="1.9,1.9"/>
<line x1="890.5" y1="251.6" x2="1276.9" y2="251.6" stroke="#c4232b" stroke-width="1.7" stroke-dasharray="1.9,1.9"/>
<line x1="888.3" y1="18" x2="1002.5" y2="18" stroke="#1c1c1c" stroke-width="2.4"/>
<line x1="888.3" y1="313" x2="1002.5" y2="313" stroke="#1c1c1c" stroke-width="2.4"/>
<line x1="1026.8" y1="18" x2="1140.3" y2="18" stroke="#1c1c1c" stroke-width="2.4"/>
<line x1="1026.8" y1="313" x2="1140.3" y2="313" stroke="#1c1c1c" stroke-width="2.4"/>
<line x1="1164" y1="18" x2="1279.1" y2="18" stroke="#1c1c1c" stroke-width="2.4"/>
<line x1="1164" y1="313" x2="1279.1" y2="313" stroke="#1c1c1c" stroke-width="2.4"/>
<line x1="889.5" y1="18" x2="889.5" y2="313" stroke="#1c1c1c" stroke-width="2.4"/>
<line x1="1277.9" y1="18" x2="1277.9" y2="313" stroke="#1c1c1c" stroke-width="2.4"/>
<path d="M889.5,18h6M889.5,54.9h3.5M889.5,91.8h6M889.5,128.6h3.5M889.5,165.5h6M889.5,202.4h3.5M889.5,239.2h6M889.5,276.1h3.5M889.5,313h6M911.9,313v-3.5M934,313v-6M956.1,313v-3.5M978.2,313v-6M1000.3,313v-3.5M1027.5,313v-6M1046.2,313v-3.5M1064.8,313v-6M1083.5,313v-3.5M1102.2,313v-6M1120.9,313v-3.5M1139.5,313v-6M1176,313v-6M1192.8,313v-3.5M1209.5,313v-6M1226.3,313v-3.5M1243,313v-6M1259.8,313v-3.5M1276.5,313v-6" stroke="#1c1c1c" stroke-width="2" fill="none"/>
<path d="M1009,11l5.5,13M1012.5,11l5.5,13" stroke="#333" stroke-width="1.1" fill="none"/>
<path d="M1009,306l5.5,13M1012.5,306l5.5,13" stroke="#333" stroke-width="1.1" fill="none"/>
<path d="M1147,11l5.5,13M1150.5,11l5.5,13" stroke="#333" stroke-width="1.1" fill="none"/>
<path d="M1147,306l5.5,13M1150.5,306l5.5,13" stroke="#333" stroke-width="1.1" fill="none"/>
<text x="883" y="23.3" font-family="'Liberation Serif',serif" font-size="18.5" font-weight="bold" text-anchor="end" fill="#111" stroke="#111" >1.0</text>
<text x="883" y="97" font-family="'Liberation Serif',serif" font-size="18.5" font-weight="bold" text-anchor="end" fill="#111" stroke="#111" >0.5</text>
<text x="883" y="170.8" font-family="'Liberation Serif',serif" font-size="18.5" font-weight="bold" text-anchor="end" fill="#111" stroke="#111" >0.0</text>
<text x="883" y="244.6" font-family="'Liberation Serif',serif" font-size="18.5" font-weight="bold" text-anchor="end" fill="#111" stroke="#111" >-0.5</text>
<text x="883" y="318.3" font-family="'Liberation Serif',serif" font-size="18.5" font-weight="bold" text-anchor="end" fill="#111" stroke="#111" >-1.0</text>
<text x="891" y="333" font-family="'Liberation Serif',serif" font-size="18.5" font-weight="bold" text-anchor="middle" fill="#111" stroke="#111" >50</text>
<text x="934" y="333" font-family="'Liberation Serif',serif" font-size="18.5" font-weight="bold" text-anchor="middle" fill="#111" stroke="#111" >60</text>
<text x="979" y="333" font-family="'Liberation Serif',serif" font-size="18.5" font-weight="bold" text-anchor="middle" fill="#111" stroke="#111" >70</text>
<text x="1027.5" y="333" font-family="'Liberation Serif',serif" font-size="18.5" font-weight="bold" text-anchor="middle" fill="#111" stroke="#111" >15</text>
<text x="1065" y="333" font-family="'Liberation Serif',serif" font-size="18.5" font-weight="bold" text-anchor="middle" fill="#111" stroke="#111" >20</text>
<text x="1102" y="333" font-family="'Liberation Serif',serif" font-size="18.5" font-weight="bold" text-anchor="middle" fill="#111" stroke="#111" >25</text>
<text x="1140" y="333" font-family="'Liberation Serif',serif" font-size="18.5" font-weight="bold" text-anchor="middle" fill="#111" stroke="#111" >30</text>
<text x="1176" y="333" font-family="'Liberation Serif',serif" font-size="18.5" font-weight="bold" text-anchor="middle" fill="#111" stroke="#111" >63</text>
<text x="1209.5" y="333" font-family="'Liberation Serif',serif" font-size="18.5" font-weight="bold" text-anchor="middle" fill="#111" stroke="#111" >66</text>
<text x="1243" y="333" font-family="'Liberation Serif',serif" font-size="18.5" font-weight="bold" text-anchor="middle" fill="#111" stroke="#111" >69</text>
<text x="1274.5" y="333" font-family="'Liberation Serif',serif" font-size="18.5" font-weight="bold" text-anchor="middle" fill="#111" stroke="#111" >72</text>
<text x="1088" y="345" font-family="'Liberation Serif',serif" font-size="18.5" font-weight="bold" text-anchor="middle" fill="#111" stroke="#111" >Time (ns)</text>
<text transform="translate(851.5,165) rotate(-90)" font-family="'Liberation Serif',serif" font-size="18.5" font-weight="bold" text-anchor="middle" fill="#111" stroke="#111">Voltage (V)</text>
<text x="949.5" y="37.5" font-family="'Liberation Serif',serif" font-size="19" font-weight="bold" text-anchor="middle" fill="#111" stroke="#111" >100 Mbps</text>
<text x="1088" y="37.5" font-family="'Liberation Serif',serif" font-size="19" font-weight="bold" text-anchor="middle" fill="#111" stroke="#111" >150 Mbps</text>
<text x="1221.5" y="37.5" font-family="'Liberation Serif',serif" font-size="19" font-weight="bold" text-anchor="middle" fill="#111" stroke="#111" >200 Mbps</text>
<text x="896.5" y="284.5" font-family="'Liberation Serif',serif" font-size="15.6" font-weight="bold" fill="#23238e" stroke="#23238e">t<tspan font-size="10.5" dy="4">r</tspan><tspan dy="-4">= 2.83ns</tspan></text>
<text x="896.5" y="303" font-family="'Liberation Serif',serif" font-size="15.6" font-weight="bold" fill="#23238e" stroke="#23238e">t<tspan font-size="10.5" dy="4">d</tspan><tspan dy="-4">= 2.67ns</tspan></text>
<text x="1054.5" y="284.5" font-family="'Liberation Serif',serif" font-size="15.6" font-weight="bold" fill="#23238e" stroke="#23238e">t<tspan font-size="10.5" dy="4">r</tspan><tspan dy="-4">=2.45 ns</tspan></text>
<text x="1054.5" y="303" font-family="'Liberation Serif',serif" font-size="15.6" font-weight="bold" fill="#23238e" stroke="#23238e">t<tspan font-size="10.5" dy="4">d</tspan><tspan dy="-4">=2.23 ns</tspan></text>
<text x="1195" y="284.5" font-family="'Liberation Serif',serif" font-size="15.6" font-weight="bold" fill="#23238e" stroke="#23238e">t<tspan font-size="10.5" dy="4">r</tspan><tspan dy="-4">=2.13 ns</tspan></text>
<text x="1195" y="303" font-family="'Liberation Serif',serif" font-size="15.6" font-weight="bold" fill="#23238e" stroke="#23238e">t<tspan font-size="10.5" dy="4">d</tspan><tspan dy="-4">=1.83 ns</tspan></text>
<text x="1275" y="92.5" font-family="'Liberation Serif',serif" font-size="13" font-weight="bold" text-anchor="end" fill="#c2252d" stroke="#c2252d" >~90%</text>
<text x="1277" y="232.2" font-family="'Liberation Serif',serif" font-size="13" font-weight="bold" text-anchor="end" fill="#c2252d" stroke="#c2252d" >~10%</text>
</g>
<g id="pc">
<rect x="193.4" y="354.5" width="5.4" height="159.3" fill="#d3e7f4"/>
<rect x="221.5" y="354.5" width="59.3" height="159.3" fill="#d3e7f4"/>
<rect x="303" y="354.5" width="21.7" height="159.3" fill="#d3e7f4"/>
<rect x="426" y="354.5" width="22.1" height="159.3" fill="#d3e7f4"/>
<rect x="489" y="354.5" width="40.3" height="159.3" fill="#d3e7f4"/>
<rect x="593.4" y="354.5" width="80.4" height="159.3" fill="#d3e7f4"/>
<rect x="717.3" y="354.5" width="19.6" height="159.3" fill="#d3e7f4"/>
<rect x="757.2" y="354.5" width="20.9" height="159.3" fill="#d3e7f4"/>
<rect x="798.3" y="354.5" width="15.3" height="159.3" fill="#d3e7f4"/>
<text x="807" y="377.7" font-family="'Liberation Serif',serif" font-size="21.8" font-weight="bold" text-anchor="end" fill="#2e6f9c" stroke="#2e6f9c" >100 Mbps</text>
<polyline points="193.4,368 193.8,368 194.2,367.9 194.6,367.7 195.1,367.8 195.5,367.6 195.9,367.6 196.3,367.8 196.7,368.1 197.1,368.5 197.5,380.4 197.9,392.3 198.4,404.3 198.8,416.1 199.2,428.3 199.6,440.6 200,452.1 200.4,460.6 200.8,466.9 201.3,472 201.7,475.7 202.1,478.9 202.5,481.5 202.9,483.5 203.3,485.1 203.7,486.5 204.2,487.4 204.6,488.4 205,488.8 205.4,489.4 205.8,489.9 206.2,490.1 206.6,490.6 207,490.5 207.5,490.8 207.9,490.9 208.3,491.2 208.7,491.1 209.1,491.4 209.5,491.6 209.9,491.6 210.4,492.5 210.8,492.5 211.2,492.5 211.6,492.5 212,492.5 212.4,492.4 212.8,492.5 213.2,492.2 213.7,492.6 214.1,492.8 214.5,493.2 214.9,493.1 215.3,493.4 215.7,493.3 216.1,493 216.6,493.1 217,493.4 217.4,493.1 217.8,493.2 218.2,493.4 218.6,493.6 219,493.8 219.4,486.9 219.9,472.3 220.3,457.5 220.7,442.4 221.1,427.5 221.5,412.5 221.9,399.3 222.3,390.1 222.8,384 223.2,379.7 223.6,376.4 224,374.2 224.4,372.6 224.8,371.6 225.2,370.6 225.7,370.2 226.1,370 226.5,369.4 226.9,369.3 227.3,369.1 227.7,368.9 228.1,369 228.5,368.8 229,368.9 229.4,368.8 229.8,368.6 230.2,368.8 230.6,368.8 231,368.6 231.4,368.2 231.9,367.9 232.3,368.6 232.7,368.3 233.1,368.4 233.5,368.7 233.9,368.8 234.3,368.6 234.7,368.6 235.2,368.6 235.6,368.4 236,368.2 236.4,368.2 236.8,368.1 237.2,368 237.6,368 238.1,368.5 238.5,368.4 238.9,368.4 239.3,368.4 239.7,368.4 240.1,368.5 240.5,368.4 240.9,367.9 241.4,368.1 241.8,368.3 242.2,368.3 242.6,368.3 243,368.2 243.4,368.2 243.8,368.1 244.3,368 244.7,367.7 245.1,367.7 245.5,367.8 245.9,367.8 246.3,367.9 246.7,367.9 247.2,367.7 247.6,367.7 248,367.8 248.4,368 248.8,367.8 249.2,367.9 249.6,368.3 250,368.4 250.5,368.5 250.9,368.5 251.3,368.6 251.7,368.4 252.1,368.5 252.5,368.2 252.9,368 253.4,368.2 253.8,367.8 254.2,367.9 254.6,368.1 255,368.3 255.4,368.2 255.8,368 256.2,368 256.7,368 257.1,367.9 257.5,367.7 257.9,367.6 258.3,367.6 258.7,367.7 259.1,367.8 259.6,367.9 260,368.1 260.4,368.1 260.8,368.3 261.2,368.5 261.6,368.5 262,368.3 262.4,368.1 262.9,368.3 263.3,368.2 263.7,368 264.1,367.7 264.5,367.8 264.9,368 265.3,368.3 265.8,368.6 266.2,368.4 266.6,368.2 267,367.9 267.4,368.2 267.8,368.1 268.2,367.9 268.7,367.8 269.1,367.9 269.5,368.3 269.9,368.3 270.3,368.2 270.7,368.2 271.1,368.3 271.5,368.2 272,368.1 272.4,367.7 272.8,367.6 273.2,367.9 273.6,367.8 274,368.2 274.4,368.1 274.9,368.2 275.3,368.6 275.7,368.5 276.1,368.3 276.5,368.5 276.9,368.5 277.3,368.2 277.7,367.8 278.2,368.1 278.6,367.9 279,367.8 279.4,373.6 279.8,385.5 280.2,397.6 280.6,409.6 281.1,421.8 281.5,433.8 281.9,445.4 282.3,455.4 282.7,463 283.1,468.5 283.5,472.9 283.9,476.5 284.4,479.4 284.8,482 285.2,483.7 285.6,485.3 286,486 286.4,487.1 286.8,488 287.3,488.7 287.7,489.4 288.1,490 288.5,490.3 288.9,490.3 289.3,490.6 289.7,490.9 290.2,491.1 290.6,491.5 291,491.7 291.4,491.5 291.8,491.6 292.2,491.9 292.6,492.2 293,492.1 293.5,492.3 293.9,492.4 294.3,492.7 294.7,492.8 295.1,493.1 295.5,492.8 295.9,492.7 296.4,492.7 296.8,493 297.2,493.2 297.6,493 298,493.3 298.4,493.5 298.8,493.6 299.2,493.6 299.7,493.5 300.1,493.4 300.5,493.6 300.9,486.8 301.3,472.3 301.7,457.6 302.1,442.5 302.6,427.8 303,412.5 303.4,399.5 303.8,390.7 304.2,384.2 304.6,379.4 305,376.3 305.4,374.6 305.9,373 306.3,371.9 306.7,371.1 307.1,370.4 307.5,370.3 307.9,370.1 308.3,369.6 308.8,369.3 309.2,369.1 309.6,369.1 310,369 310.4,369.1 310.8,369.1 311.2,369.1 311.7,368.8 312.1,368.6 312.5,368.5 312.9,368.8 313.3,368.7 313.7,368.5 314.1,368.5 314.5,368.2 315,368.5 315.4,368.4 315.8,368.4 316.2,368.3 316.6,368.5 317,368.4 317.4,368.4 317.9,368.2 318.3,368.1 318.7,368 319.1,368.2 319.5,368.2 319.9,368.3 320.3,367.9 320.7,367.9 321.2,367.9 321.6,368.1 322,368.1 322.4,368.1 322.8,368.2 323.2,374.5 323.6,386.6 324.1,398.3 324.5,410.5 324.9,422.6 325.3,434.9 325.7,446.7 326.1,456.3 326.5,463.6 326.9,469.3 327.4,473.7 327.8,477.2 328.2,480.3 328.6,482.5 329,484 329.4,485.5 329.8,486.3 330.3,487.3 330.7,487.8 331.1,488.5 331.5,489.2 331.9,489.7 332.3,490.2 332.7,490.4 333.2,490.8 333.6,491 334,491.4 334.4,491.8 334.8,491.9 335.2,492.2 335.6,492.2 336,492.3 336.5,492.3 336.9,492.5 337.3,492.5 337.7,492.7 338.1,492.5 338.5,492.5 338.9,492.7 339.4,492.6 339.8,492.6 340.2,492.6 340.6,492.6 341,492.7 341.4,492.4 341.8,492.7 342.2,492.9 342.7,493.3 343.1,493.3 343.5,493.3 343.9,493 344.3,493 344.7,492.7 345.1,492.8 345.6,492.9 346,493.2 346.4,493.6 346.8,493.6 347.2,493.5 347.6,493.7 348,494 348.5,494 348.9,494.1 349.3,493.8 349.7,493.8 350.1,494.1 350.5,494.2 350.9,493.9 351.3,494 351.8,493.9 352.2,493.7 352.6,493.5 353,494.2 353.4,494.5 353.8,494.1 354.2,494.1 354.7,494.1 355.1,493.9 355.5,494 355.9,493.7 356.3,493.8 356.7,494.2 357.1,494 357.5,494 358,494 358.4,493.9 358.8,493.9 359.2,494 359.6,493.8 360,493.8 360.4,494 360.9,494.1 361.3,494.1 361.7,494.2 362.1,494.4 362.5,494.2 362.9,493.9 363.3,494.1 363.7,494 364.2,494 364.6,494 365,494 365.4,494 365.8,493.9 366.2,494 366.6,494 367.1,494.2 367.5,494 367.9,493.9 368.3,493.9 368.7,493.8 369.1,493.7 369.5,493.9 370,493.9 370.4,494.1 370.8,494 371.2,494.6 371.6,494.6 372,494.6 372.4,494.7 372.8,494.7 373.3,494.9 373.7,494.9 374.1,495.1 374.5,494.8 374.9,494.8 375.3,495.2 375.7,495.2 376.2,494.8 376.6,494.8 377,494.8 377.4,494.8 377.8,494.4 378.2,494.7 378.6,494.8 379,494.9 379.5,494.8 379.9,494.8 380.3,494.7 380.7,494.2 381.1,494.5 381.5,494.4 381.9,494.7 382.4,494.5 382.8,494 383.2,494.2 383.6,494.1 384,494.1 384.4,493.7 384.8,493.7 385.2,494 385.7,494 386.1,494.2 386.5,494.3 386.9,493.9 387.3,494 387.7,494.1 388.1,494.1 388.6,493.6 389,493.3 389.4,493.2 389.8,493.6 390.2,493.7 390.6,493.8 391,493.6 391.5,493.6 391.9,493.8 392.3,494.2 392.7,494 393.1,493.9 393.5,494.1 393.9,493.8 394.3,493.4 394.8,493.7 395.2,494 395.6,494 396,494.1 396.4,494.2 396.8,494 397.2,494.4 397.7,494.5 398.1,494.4 398.5,494.7 398.9,494.7 399.3,494.5 399.7,494.4 400.1,494.3 400.5,494.1 401,494.1 401.4,493.9 401.8,493.8 402.2,494.4 402.6,494.5 403,494.7 403.4,494.5 403.9,494.4 404.3,494.3 404.7,494.4 405.1,493.9 405.5,493.8 405.9,494.2 406.3,493.9 406.7,494.1 407.2,494.3 407.6,494.2 408,494 408.4,494.3 408.8,494.2 409.2,494.4 409.6,494.2 410.1,494 410.5,494 410.9,494.2 411.3,494.1 411.7,494.3 412.1,494.7 412.5,494.5 413,494.6 413.4,494.5 413.8,494.6 414.2,494.8 414.6,494.7 415,494.6 415.4,494.5 415.8,494.4 416.3,494.6 416.7,494.9 417.1,494.7 417.5,494.7 417.9,494.7 418.3,494.6 418.7,494.9 419.2,494.8 419.6,494.5 420,494.6 420.4,494.5 420.8,494.4 421.2,494.5 421.6,494.5 422,494.6 422.5,494.7 422.9,494.4 423.3,494.3 423.7,494.2 424.1,479.7 424.5,464.8 424.9,449.6 425.4,434.9 425.8,420 426.2,405.4 426.6,394.2 427,386.2 427.4,381.2 427.8,377.5 428.2,375.2 428.7,373.4 429.1,371.9 429.5,371.2 429.9,370.6 430.3,369.8 430.7,369.5 431.1,369.3 431.6,369.3 432,369.3 432.4,369.2 432.8,368.9 433.2,368.6 433.6,368.3 434,368.2 434.5,368.3 434.9,368.1 435.3,368.4 435.7,368.2 436.1,368.4 436.5,368.3 436.9,368.2 437.3,368.1 437.8,368.1 438.2,368.1 438.6,368.2 439,368.4 439.4,368.4 439.8,368.4 440.2,368.4 440.7,368.5 441.1,368.4 441.5,368.8 441.9,368.7 442.3,368.4 442.7,368.3 443.1,368.9 443.5,368.5 444,368.5 444.4,368.5 444.8,368.5 445.2,368.2 445.6,368.6 446,368.8 446.4,368.8 446.9,381.2 447.3,392.9 447.7,405 448.1,416.5 448.5,428.3 448.9,440.4 449.3,451.4 449.7,460 450.2,466.9 450.6,472 451,475.9 451.4,478.9 451.8,481.4 452.2,483.1 452.6,484.5 453.1,485.7 453.5,486.7 453.9,487.5 454.3,488 454.7,488.9 455.1,489.4 455.5,490 456,490.3 456.4,490.4 456.8,490.5 457.2,491 457.6,491.1 458,491.5 458.4,491.6 458.8,491.5 459.3,491.7 459.7,492 460.1,492 460.5,492.6 460.9,492.6 461.3,492.4 461.7,492.3 462.2,492.5 462.6,492.4 463,492.8 463.4,493 463.8,493.3 464.2,493.4 464.6,493.2 465,493 465.5,493.3 465.9,493.2 466.3,493.4 466.7,493.7 467.1,493.6 467.5,493.5 467.9,493.2 468.4,493.4 468.8,493.8 469.2,493.9 469.6,493.8 470,493.6 470.4,493.6 470.8,493.6 471.2,494.2 471.7,494.1 472.1,494.2 472.5,494.2 472.9,493.9 473.3,494 473.7,494 474.1,493.9 474.6,494 475,494.2 475.4,494.3 475.8,494 476.2,494.1 476.6,493.9 477,494 477.5,494.2 477.9,494.2 478.3,494.2 478.7,494.2 479.1,494.2 479.5,494.5 479.9,494.8 480.3,494.7 480.8,494.5 481.2,494.3 481.6,494.3 482,494.4 482.4,494.3 482.8,494.6 483.2,494 483.7,494.1 484.1,494 484.5,493.9 484.9,493.7 485.3,493.6 485.7,493.7 486.1,493.8 486.5,493.8 487,486.2 487.4,471 487.8,455.7 488.2,440.9 488.6,426.1 489,411.5 489.4,398.8 489.9,389.9 490.3,383.7 490.7,379.2 491.1,375.9 491.5,373.9 491.9,372.7 492.3,371.6 492.7,370.9 493.2,370.1 493.6,369.6 494,369.4 494.4,369.2 494.8,369.1 495.2,368.8 495.6,368.9 496.1,368.9 496.5,368.7 496.9,368.7 497.3,368.5 497.7,368.7 498.1,368.3 498.5,368.3 499,368.5 499.4,368.6 499.8,368.4 500.2,368.4 500.6,368.3 501,368.3 501.4,368.5 501.8,368.4 502.3,368.4 502.7,368.5 503.1,368.3 503.5,368.5 503.9,368.7 504.3,368.4 504.7,368.7 505.2,368.8 505.6,368.3 506,368.3 506.4,368.2 506.8,368.4 507.2,368.1 507.6,367.8 508,367.9 508.5,367.7 508.9,367.6 509.3,367.5 509.7,367.5 510.1,367.5 510.5,367.7 510.9,367.9 511.4,368.1 511.8,368.1 512.2,367.7 512.6,367.8 513,367.9 513.4,367.7 513.8,367.2 514.3,367.6 514.7,367.8 515.1,367.7 515.5,367.9 515.9,367.6 516.3,367.5 516.7,367.2 517.1,367.3 517.6,367.5 518,367.7 518.4,367.8 518.8,367.7 519.2,367.8 519.6,367.7 520,367.8 520.5,368 520.9,368.1 521.3,368.3 521.7,368.3 522.1,368.1 522.5,368 522.9,368.3 523.3,368.4 523.8,368.2 524.2,368.3 524.6,368.5 525,368.6 525.4,368.3 525.8,367.7 526.2,367.5 526.7,367.4 527.1,367.7 527.5,367.7 527.9,373.9 528.3,385.9 528.7,397.8 529.1,410 529.5,422 530,433.9 530.4,445.7 530.8,455.3 531.2,462.9 531.6,468.9 532,473.4 532.4,476.7 532.9,479.4 533.3,481.8 533.7,484 534.1,485.5 534.5,486.5 534.9,487.2 535.3,488 535.8,488.6 536.2,489.4 536.6,489.7 537,489.8 537.4,490.4 537.8,490.4 538.2,490.6 538.6,491 539.1,491.3 539.5,491.3 539.9,491.7 540.3,491.6 540.7,492 541.1,492 541.5,492.1 542,492.3 542.4,492.5 542.8,492.4 543.2,492.7 543.6,493 544,493.3 544.4,493.2 544.8,493.3 545.3,493.3 545.7,493.5 546.1,493.5 546.5,493.6 546.9,493.6 547.3,493.6 547.7,493.4 548.2,493.3 548.6,493.4 549,493.2 549.4,493.3 549.8,493.4 550.2,493.4 550.6,493.6 551,493.6 551.5,493.6 551.9,493.8 552.3,493.9 552.7,494.1 553.1,494 553.5,494 553.9,493.8 554.4,493.9 554.8,493.8 555.2,493.8 555.6,493.9 556,493.9 556.4,493.7 556.8,494 557.3,494.2 557.7,493.8 558.1,493.6 558.5,494 558.9,494.1 559.3,494.1 559.7,493.9 560.1,493.6 560.6,493.8 561,493.7 561.4,493.9 561.8,494 562.2,494.1 562.6,493.9 563,493.9 563.5,494.1 563.9,494 564.3,494.4 564.7,494.3 565.1,494.4 565.5,494.4 565.9,494.4 566.3,494.6 566.8,494.3 567.2,494.2 567.6,494.3 568,493.8 568.4,494.2 568.8,494.3 569.2,494.1 569.7,494.1 570.1,494.3 570.5,494 570.9,494.3 571.3,494.4 571.7,494.4 572.1,494.1 572.5,494.1 573,494.2 573.4,493.9 573.8,494.1 574.2,494.1 574.6,494.2 575,494.5 575.4,494.5 575.9,494.8 576.3,494.9 576.7,494.9 577.1,494.8 577.5,495 577.9,494.9 578.3,495 578.8,494.6 579.2,494.9 579.6,494.9 580,494.5 580.4,494.2 580.8,494.2 581.2,493.9 581.6,494 582.1,494.3 582.5,494.3 582.9,494.3 583.3,494.3 583.7,494 584.1,493.8 584.5,493.9 585,494.3 585.4,494.5 585.8,494.5 586.2,494.9 586.6,494.9 587,494.3 587.4,494.2 587.8,494.2 588.3,493.9 588.7,493.9 589.1,493.9 589.5,493.8 589.9,494 590.3,493.9 590.7,493.7 591.2,493.9 591.6,479 592,464.3 592.4,449.5 592.8,434.5 593.2,419.5 593.6,404.8 594,393.5 594.5,386.2 594.9,381.2 595.3,377.4 595.7,374.6 596.1,372.9 596.5,371.8 596.9,371.4 597.4,370.8 597.8,370.5 598.2,370 598.6,369.7 599,369.3 599.4,369.2 599.8,369.3 600.3,368.8 600.7,368.6 601.1,368.2 601.5,368.6 601.9,368.4 602.3,368.6 602.7,368.2 603.1,367.7 603.6,367.7 604,367.5 604.4,368.2 604.8,368.3 605.2,367.8 605.6,367.8 606,367.8 606.5,367.8 606.9,367.8 607.3,368 607.7,368.6 608.1,368.6 608.5,368.8 608.9,368.5 609.3,368.3 609.8,368.2 610.2,368.2 610.6,368.2 611,368.2 611.4,368.4 611.8,369 612.2,368.9 612.7,369.2 613.1,369 613.5,369.1 613.9,369.2 614.3,368.7 614.7,368.7 615.1,368.7 615.5,368.8 616,368.5 616.4,368.3 616.8,368.2 617.2,368.4 617.6,368.1 618,368.1 618.4,368.3 618.9,368.4 619.3,368.3 619.7,368.2 620.1,368.3 620.5,368.2 620.9,368 621.3,368.2 621.8,368.3 622.2,368.2 622.6,368.3 623,368.5 623.4,368 623.8,367.9 624.2,368.1 624.6,368.2 625.1,368 625.5,368.1 625.9,367.9 626.3,367.9 626.7,367.9 627.1,368.2 627.5,368.1 628,367.7 628.4,368 628.8,368.2 629.2,368.1 629.6,368.5 630,368.3 630.4,368.1 630.8,368.1 631.3,367.5 631.7,367.5 632.1,367.6 632.5,367.7 632.9,367.5 633.3,367.7 633.7,367.5 634.2,367.4 634.6,367.3 635,367.2 635.4,367.5 635.8,367.8 636.2,367.8 636.6,367.6 637,367.7 637.5,367.6 637.9,367.4 638.3,367.7 638.7,367.6 639.1,367.8 639.5,367.8 639.9,367.4 640.4,367.5 640.8,367.9 641.2,367.8 641.6,367.5 642,367.7 642.4,367.5 642.8,367.7 643.3,368 643.7,367.9 644.1,368.2 644.5,367.8 644.9,367.8 645.3,367.7 645.7,367.7 646.1,367.9 646.6,367.8 647,368 647.4,368.3 647.8,367.9 648.2,368.1 648.6,368.3 649,368.6 649.5,368.5 649.9,368.2 650.3,367.9 650.7,367.9 651.1,368 651.5,368.1 651.9,367.9 652.3,367.8 652.8,367.5 653.2,367.4 653.6,367.6 654,367.8 654.4,367.9 654.8,367.8 655.2,368.1 655.7,368.1 656.1,368 656.5,368 656.9,368.3 657.3,368.2 657.7,368 658.1,367.9 658.6,367.7 659,367.6 659.4,367.4 659.8,367.7 660.2,367.6 660.6,367.7 661,367.8 661.4,367.9 661.9,367.9 662.3,368 662.7,367.9 663.1,367.7 663.5,368.2 663.9,367.8 664.3,367.9 664.8,367.9 665.2,368 665.6,367.9 666,367.9 666.4,368.2 666.8,368.1 667.2,368 667.6,368.4 668.1,368 668.5,368 668.9,368.1 669.3,367.9 669.7,367.8 670.1,367.8 670.5,367.8 671,367.8 671.4,367.7 671.8,367.4 672.2,367.8 672.6,379.7 673,391.8 673.4,403.5 673.8,415.7 674.3,427.6 674.7,439.9 675.1,451.3 675.5,459.6 675.9,466.3 676.3,471.5 676.7,475.3 677.2,478.5 677.6,480.9 678,482.9 678.4,484.6 678.8,485.6 679.2,486.7 679.6,487.2 680.1,488 680.5,488.5 680.9,488.7 681.3,489.6 681.7,490.4 682.1,490.9 682.5,491.2 682.9,491.3 683.4,491.4 683.8,491.4 684.2,491.8 684.6,492.1 685,492.2 685.4,492.1 685.8,492.3 686.3,492.4 686.7,492.6 687.1,492.6 687.5,493 687.9,493 688.3,493.1 688.7,492.9 689.1,492.9 689.6,492.7 690,492.8 690.4,493 690.8,493.3 691.2,492.8 691.6,493 692,493 692.5,493 692.9,493.1 693.3,493 693.7,493.2 694.1,493.6 694.5,493.2 694.9,493.2 695.3,493.1 695.8,493.2 696.2,493.4 696.6,493.7 697,493.8 697.4,494 697.8,493.9 698.2,493.6 698.7,493.5 699.1,493.6 699.5,493.3 699.9,493.2 700.3,493.5 700.7,493.6 701.1,493.7 701.6,493.6 702,493.8 702.4,493.9 702.8,494 703.2,494.2 703.6,494.2 704,493.9 704.4,493.9 704.9,494.1 705.3,494 705.7,494.2 706.1,494.3 706.5,494.4 706.9,494.3 707.3,494.3 707.8,494.3 708.2,494.6 708.6,494.8 709,495 709.4,494.4 709.8,494.4 710.2,494.3 710.6,494.6 711.1,494.7 711.5,495.2 711.9,495.3 712.3,494.8 712.7,494.9 713.1,494.7 713.5,494.8 714,494.8 714.4,495.1 714.8,494.9 715.2,487 715.6,472.1 716,457 716.4,442 716.8,426.8 717.3,411.8 717.7,398.8 718.1,390.1 718.5,383.9 718.9,379.2 719.3,376.4 719.7,374.3 720.2,372.7 720.6,371.5 721,370.6 721.4,369.9 721.8,369.6 722.2,368.9 722.6,369 723.1,369.3 723.5,369.1 723.9,369.3 724.3,368.7 724.7,368.7 725.1,368.7 725.5,368.6 725.9,368.7 726.4,369 726.8,368.6 727.2,368.8 727.6,368.5 728,368.4 728.4,368.4 728.8,368.6 729.3,368.7 729.7,368.8 730.1,369 730.5,369 730.9,368.9 731.3,368.8 731.7,368.6 732.1,368.8 732.6,368.8 733,369.1 733.4,368.8 733.8,368.5 734.2,368.4 734.6,368.4 735,368.4 735.5,374.7 735.9,386.8 736.3,398.7 736.7,410.9 737.1,422.6 737.5,434.8 737.9,447 738.3,457 738.8,464.2 739.2,470 739.6,474.4 740,477.8 740.4,480.7 740.8,483 741.2,484.6 741.7,486.1 742.1,487.1 742.5,487.8 742.9,488.5 743.3,489.1 743.7,489.8 744.1,490.1 744.6,490.4 745,490.6 745.4,491.1 745.8,491.5 746.2,491.4 746.6,491.2 747,491.4 747.4,491.3 747.9,491.2 748.3,491.3 748.7,491.7 749.1,491.8 749.5,492 749.9,491.8 750.3,491.8 750.8,492.3 751.2,492.6 751.6,492.8 752,493 752.4,493.1 752.8,493.4 753.2,493.1 753.6,492.9 754.1,493 754.5,493.3 754.9,493.5 755.3,479.1 755.7,464.3 756.1,449.7 756.5,435 757,420.1 757.4,405.6 757.8,395.1 758.2,387.4 758.6,382 759,378.1 759.4,375.1 759.8,373.4 760.3,371.8 760.7,371.2 761.1,370.4 761.5,369.6 761.9,369.3 762.3,369 762.7,368.9 763.2,368.8 763.6,368.8 764,368.9 764.4,369 764.8,369.1 765.2,369 765.6,368.8 766.1,368.9 766.5,368.8 766.9,368.9 767.3,368.9 767.7,368.9 768.1,368.6 768.5,368.4 768.9,368.2 769.4,368.3 769.8,368.5 770.2,368.1 770.6,368.3 771,368.3 771.4,368.3 771.8,368.2 772.3,368.2 772.7,368.1 773.1,368.5 773.5,368.7 773.9,368.7 774.3,368.9 774.7,368.8 775.1,368.6 775.6,368.7 776,368.7 776.4,368.6 776.8,380.9 777.2,392.4 777.6,404 778,416.1 778.5,427.9 778.9,439.9 779.3,451.3 779.7,459.8 780.1,466.6 780.5,471.8 780.9,475.9 781.3,479.2 781.8,481.8 782.2,483.7 782.6,485.2 783,486.6 783.4,487.5 783.8,488.1 784.2,488.9 784.7,489.4 785.1,489.8 785.5,490.4 785.9,490.5 786.3,490.7 786.7,490.8 787.1,491 787.6,491.5 788,491.3 788.4,491.3 788.8,491.3 789.2,491.9 789.6,492.2 790,492.4 790.4,492.3 790.9,492.5 791.3,492.2 791.7,492.3 792.1,492.7 792.5,492.7 792.9,492.7 793.3,492.9 793.8,492.9 794.2,493 794.6,493 795,493.2 795.4,493.2 795.8,493.1 796.2,486.1 796.6,471.9 797.1,457.1 797.5,442.3 797.9,427.1 798.3,412.1 798.7,399 799.1,389.8 799.5,383.3 800,379.1 800.4,376 800.8,374.2 801.2,372.5 801.6,371.5 802,370.9 802.4,370.7 802.8,369.9 803.3,369.5 803.7,369.3 804.1,369.4 804.5,369.4 804.9,369.1 805.3,368.9 805.7,368.7 806.2,368.8 806.6,368.9 807,368.8 807.4,369.1 807.8,369.3 808.2,368.9 808.6,368.9 809.1,368.7 809.5,368.8 809.9,368.9 810.3,368.8 810.7,368.8 811.1,368.6 811.5,368.7 811.9,368.5 812.4,368.4 812.8,368.3 813.2,368.3 813.6,368.3" fill="none" stroke="#3f93c8" stroke-width="1.95" stroke-linejoin="round"/>
<rect x="193.4" y="354.5" width="620.2" height="159.3" fill="none" stroke="#1c1c1c" stroke-width="2.4"/>
<path d="M193.4,354.5h5M813.6,354.5h-5M193.4,374.4h3M813.6,374.4h-3M193.4,394.3h5M813.6,394.3h-5M193.4,414.2h3M813.6,414.2h-3M193.4,434.1h5M813.6,434.1h-5M193.4,454.1h3M813.6,454.1h-3M193.4,474h5M813.6,474h-5M193.4,493.9h3M813.6,493.9h-3M193.4,513.8h5M813.6,513.8h-5M193.4,513.8v-5M245.1,513.8v-3M296.8,513.8v-5M348.5,513.8v-3M400.1,513.8v-5M451.8,513.8v-3M503.5,513.8v-5M555.2,513.8v-3M606.9,513.8v-5M658.6,513.8v-3M710.2,513.8v-5M761.9,513.8v-3M813.6,513.8v-5" stroke="#1c1c1c" stroke-width="1.8" fill="none"/>
<text x="187.8" y="360.4" font-family="'Liberation Serif',serif" font-size="18" font-weight="bold" text-anchor="end" fill="#111" stroke="#111" >1.0</text>
<text x="187.8" y="400.2" font-family="'Liberation Serif',serif" font-size="18" font-weight="bold" text-anchor="end" fill="#111" stroke="#111" >0.5</text>
<text x="187.8" y="440" font-family="'Liberation Serif',serif" font-size="18" font-weight="bold" text-anchor="end" fill="#111" stroke="#111" >0</text>
<text x="187.8" y="479.9" font-family="'Liberation Serif',serif" font-size="18" font-weight="bold" text-anchor="end" fill="#111" stroke="#111" >-0.5</text>
<text x="187.8" y="519.7" font-family="'Liberation Serif',serif" font-size="18" font-weight="bold" text-anchor="end" fill="#111" stroke="#111" >-1.0</text>
<text x="193.4" y="533.4" font-family="'Liberation Serif',serif" font-size="17.4" font-weight="bold" text-anchor="middle" fill="#111" stroke="#111" >0</text>
<text x="296.8" y="533.4" font-family="'Liberation Serif',serif" font-size="17.4" font-weight="bold" text-anchor="middle" fill="#111" stroke="#111" >50</text>
<text x="400.1" y="533.4" font-family="'Liberation Serif',serif" font-size="17.4" font-weight="bold" text-anchor="middle" fill="#111" stroke="#111" >100</text>
<text x="503.5" y="533.4" font-family="'Liberation Serif',serif" font-size="17.4" font-weight="bold" text-anchor="middle" fill="#111" stroke="#111" >150</text>
<text x="606.9" y="533.4" font-family="'Liberation Serif',serif" font-size="17.4" font-weight="bold" text-anchor="middle" fill="#111" stroke="#111" >200</text>
<text x="710.2" y="533.4" font-family="'Liberation Serif',serif" font-size="17.4" font-weight="bold" text-anchor="middle" fill="#111" stroke="#111" >250</text>
<text x="813.6" y="533.4" font-family="'Liberation Serif',serif" font-size="17.4" font-weight="bold" text-anchor="middle" fill="#111" stroke="#111" >300</text>
<rect x="232.7" y="541.6" width="13.6" height="159.8" fill="#dff0d0"/>
<rect x="275.3" y="541.6" width="28.1" height="159.8" fill="#dff0d0"/>
<rect x="348.2" y="541.6" width="57.7" height="159.8" fill="#dff0d0"/>
<rect x="437.3" y="541.6" width="14.5" height="159.8" fill="#dff0d0"/>
<rect x="467.9" y="541.6" width="14.1" height="159.8" fill="#dff0d0"/>
<rect x="496.9" y="541.6" width="27.7" height="159.8" fill="#dff0d0"/>
<rect x="540.5" y="541.6" width="42.2" height="159.8" fill="#dff0d0"/>
<rect x="599.6" y="541.6" width="14.5" height="159.8" fill="#dff0d0"/>
<rect x="687.7" y="541.6" width="14.1" height="159.8" fill="#dff0d0"/>
<rect x="730.3" y="541.6" width="28.1" height="159.8" fill="#dff0d0"/>
<rect x="804.3" y="541.6" width="9.3" height="159.8" fill="#dff0d0"/>
<text x="805.5" y="562.9" font-family="'Liberation Serif',serif" font-size="21.8" font-weight="bold" text-anchor="end" fill="#4f8a1f" stroke="#4f8a1f" >150 Mbps</text>
<polyline points="193.4,682 193.8,682 194.2,682.3 194.6,682.3 195.1,682 195.5,682 195.9,682.1 196.3,682.2 196.7,682.1 197.1,682.1 197.5,681.7 197.9,681.8 198.4,681.9 198.8,681.7 199.2,681.7 199.6,681.3 200,681.5 200.4,681.5 200.8,681.5 201.3,681.4 201.7,681.7 202.1,681.8 202.5,681.8 202.9,681.8 203.3,681.4 203.7,681.6 204.2,681.4 204.6,681.7 205,681.6 205.4,681.7 205.8,681.7 206.2,681.7 206.6,681.8 207,681.7 207.5,681.5 207.9,681.2 208.3,680.8 208.7,681.2 209.1,681.5 209.5,681.4 209.9,681.3 210.4,681.3 210.8,681.2 211.2,681.5 211.6,681.9 212,681.8 212.4,681.9 212.8,681.7 213.2,681.9 213.7,682.2 214.1,682 214.5,682 214.9,682.2 215.3,682.4 215.7,681.9 216.1,681.7 216.6,681.6 217,681.8 217.4,682.3 217.8,682.2 218.2,681.9 218.6,681.7 219,681.3 219.4,681.3 219.9,681.6 220.3,681.8 220.7,681.8 221.1,682.1 221.5,681.6 221.9,681.8 222.3,681.7 222.8,681.6 223.2,682.1 223.6,681.8 224,682.1 224.4,682.4 224.8,682.2 225.2,681.9 225.7,682.2 226.1,681.9 226.5,681.9 226.9,681.9 227.3,681.9 227.7,682 228.1,682.3 228.5,682.1 229,682.4 229.4,682 229.8,681.7 230.2,682 230.6,674.3 231,659 231.4,644.2 231.9,629.5 232.3,614.5 232.7,599.7 233.1,586.9 233.5,578 233.9,571.6 234.3,567.3 234.7,563.9 235.2,561.5 235.6,560.1 236,558.9 236.4,558.1 236.8,557.4 237.2,557.1 237.6,556.9 238.1,556.8 238.5,556.1 238.9,556.1 239.3,555.7 239.7,555.5 240.1,555.6 240.5,555.8 240.9,556.1 241.4,556.1 241.8,556.1 242.2,556.2 242.6,556.2 243,555.8 243.4,556 243.8,555.9 244.3,555.7 244.7,555.6 245.1,568.5 245.5,581.3 245.9,593.1 246.3,604.7 246.7,616.4 247.2,628.7 247.6,639.7 248,648.4 248.4,654.8 248.8,660 249.2,663.7 249.6,666.8 250,669.2 250.5,671.3 250.9,672.9 251.3,673.8 251.7,674.9 252.1,675.5 252.5,676.4 252.9,677.2 253.4,677.7 253.8,678.1 254.2,678.6 254.6,678.9 255,679 255.4,679.2 255.8,679.4 256.2,679.8 256.7,679.6 257.1,679.6 257.5,679.8 257.9,679.9 258.3,680.5 258.7,680.5 259.1,680.4 259.6,680.6 260,680.1 260.4,680.2 260.8,680.5 261.2,680.2 261.6,680.6 262,680.7 262.4,680.7 262.9,680.6 263.3,680.7 263.7,680.4 264.1,680.5 264.5,680.1 264.9,680.4 265.3,680.5 265.8,681 266.2,681.3 266.6,681.4 267,681 267.4,681 267.8,681.1 268.2,681 268.7,681 269.1,681.3 269.5,681.3 269.9,681.5 270.3,681.6 270.7,681.5 271.1,681.4 271.5,681.2 272,681.5 272.4,681.7 272.8,681.7 273.2,674.3 273.6,659.2 274,644.2 274.4,629.2 274.9,614.3 275.3,599.3 275.7,586.1 276.1,577.1 276.5,570.8 276.9,566.6 277.3,563.1 277.7,560.8 278.2,559.2 278.6,558.3 279,557.3 279.4,556.9 279.8,556.7 280.2,556.6 280.6,556.4 281.1,556.4 281.5,556.1 281.9,556.1 282.3,556.1 282.7,556.3 283.1,556.3 283.5,556.2 283.9,556.1 284.4,555.8 284.8,555.9 285.2,556.1 285.6,556.1 286,556.1 286.4,556 286.8,555.9 287.3,555.7 287.7,555.7 288.1,555.5 288.5,555.4 288.9,554.9 289.3,555.2 289.7,555.1 290.2,555.7 290.6,555.4 291,555.3 291.4,555.2 291.8,555.3 292.2,555.2 292.6,555.5 293,555.4 293.5,555.4 293.9,555.4 294.3,555.5 294.7,555.6 295.1,555.9 295.5,555.9 295.9,555.5 296.4,555.4 296.8,555.8 297.2,555.9 297.6,555.8 298,555.5 298.4,555.5 298.8,555.5 299.2,555.4 299.7,555.4 300.1,555.2 300.5,554.8 300.9,554.8 301.3,554.9 301.7,554.7 302.1,566.8 302.6,578.6 303,590.7 303.4,602.8 303.8,615.1 304.2,627.4 304.6,638.5 305,647.5 305.4,653.9 305.9,659.1 306.3,662.8 306.7,665.9 307.1,668.5 307.5,670.4 307.9,672.1 308.3,673.3 308.8,674.3 309.2,675.2 309.6,675.8 310,676.4 310.4,676.9 310.8,677.3 311.2,677.7 311.7,678.4 312.1,678.7 312.5,679.2 312.9,679.5 313.3,679.3 313.7,679.3 314.1,679.4 314.5,679.3 315,679.4 315.4,679.6 315.8,679.7 316.2,679.5 316.6,680 317,680.2 317.4,680.2 317.9,680.5 318.3,680.7 318.7,680.8 319.1,680.9 319.5,680.7 319.9,680.8 320.3,680.6 320.7,680.9 321.2,680.8 321.6,681.5 322,681.5 322.4,681.4 322.8,681.1 323.2,680.8 323.6,681.2 324.1,681.2 324.5,681.2 324.9,681.3 325.3,681.3 325.7,681.5 326.1,681.1 326.5,681.1 326.9,681.3 327.4,681.2 327.8,681.3 328.2,681.1 328.6,681 329,681.1 329.4,681.4 329.8,681.9 330.3,682 330.7,682.1 331.1,681.9 331.5,681.8 331.9,681.8 332.3,681.8 332.7,682.1 333.2,681.7 333.6,682 334,682.4 334.4,682.4 334.8,682.2 335.2,682.3 335.6,682 336,682.1 336.5,682.1 336.9,682.1 337.3,682.1 337.7,682 338.1,681.9 338.5,682 338.9,682.2 339.4,682.3 339.8,681.9 340.2,681.8 340.6,681.8 341,681.9 341.4,682 341.8,682 342.2,682.1 342.7,682.1 343.1,682.2 343.5,682.1 343.9,682.2 344.3,682.2 344.7,682.2 345.1,682 345.6,681.9 346,681.6 346.4,667 346.8,652.3 347.2,637.1 347.6,622.1 348,606.8 348.5,592.2 348.9,581.5 349.3,573.9 349.7,568.7 350.1,565.2 350.5,562.6 350.9,560.5 351.3,559.6 351.8,558.6 352.2,558.1 352.6,557.2 353,556.9 353.4,556.6 353.8,556.2 354.2,555.8 354.7,555.7 355.1,555.8 355.5,555.7 355.9,556.1 356.3,556.2 356.7,556 357.1,556 357.5,555.9 358,555.9 358.4,555.9 358.8,555.8 359.2,555.7 359.6,555.9 360,555.8 360.4,555.7 360.9,555.9 361.3,555.9 361.7,555.8 362.1,556.1 362.5,556.1 362.9,556 363.3,556.1 363.7,555.7 364.2,555.6 364.6,555.5 365,555.2 365.4,555.1 365.8,554.8 366.2,555.2 366.6,554.9 367.1,554.9 367.5,555 367.9,555.1 368.3,555.2 368.7,555.3 369.1,555.2 369.5,555 370,554.9 370.4,554.7 370.8,554.9 371.2,555.2 371.6,555.2 372,555 372.4,555.2 372.8,555 373.3,555.3 373.7,555 374.1,555.7 374.5,555.2 374.9,555.4 375.3,555.5 375.7,555.2 376.2,555.3 376.6,555.3 377,555.3 377.4,555.3 377.8,555 378.2,554.8 378.6,555 379,554.9 379.5,555.3 379.9,555.3 380.3,554.9 380.7,554.9 381.1,554.9 381.5,554.9 381.9,554.7 382.4,554.5 382.8,554.6 383.2,554.7 383.6,555 384,555.3 384.4,555.4 384.8,555.2 385.2,555.1 385.7,555.4 386.1,555.1 386.5,555.2 386.9,555.4 387.3,555.3 387.7,555.1 388.1,555.1 388.6,555.1 389,555.2 389.4,555.6 389.8,555.5 390.2,555.3 390.6,555.4 391,555.3 391.5,555.5 391.9,555.5 392.3,555.4 392.7,555.6 393.1,555.5 393.5,555.6 393.9,555.4 394.3,555.2 394.8,555.2 395.2,555 395.6,555.1 396,554.9 396.4,555 396.8,555.3 397.2,555.2 397.7,555 398.1,555 398.5,555.1 398.9,555.1 399.3,555.2 399.7,555.1 400.1,555.3 400.5,555.3 401,555.4 401.4,555.6 401.8,555.5 402.2,555.3 402.6,555.1 403,555.3 403.4,555.1 403.9,555 404.3,554.9 404.7,567 405.1,579.1 405.5,591.1 405.9,603.1 406.3,615.2 406.7,627.3 407.2,638.1 407.6,646.8 408,653.6 408.4,658.8 408.8,662.8 409.2,665.9 409.6,668.9 410.1,670.8 410.5,672.4 410.9,673.5 411.3,674.6 411.7,675.4 412.1,676.3 412.5,676.7 413,676.9 413.4,677.5 413.8,677.9 414.2,678.1 414.6,678.3 415,678.3 415.4,678.3 415.8,678.6 416.3,678.7 416.7,679.1 417.1,679.2 417.5,679.3 417.9,679.6 418.3,679.7 418.7,679.5 419.2,679.6 419.6,679.7 420,679.8 420.4,680 420.8,680 421.2,679.7 421.6,680.1 422,680.2 422.5,680.5 422.9,680.4 423.3,680.6 423.7,681 424.1,681.2 424.5,681.4 424.9,681.6 425.4,681.2 425.8,681.2 426.2,681.3 426.6,681.1 427,681.5 427.4,681.5 427.8,681.6 428.2,681.3 428.7,681.2 429.1,681.3 429.5,681.4 429.9,681.2 430.3,680.9 430.7,680.8 431.1,681.1 431.6,681.2 432,680.9 432.4,681 432.8,680.7 433.2,680.6 433.6,680.8 434,680.9 434.5,680.9 434.9,681.3 435.3,673.9 435.7,659.2 436.1,644.1 436.5,629.3 436.9,614.5 437.3,599.4 437.8,586.2 438.2,577.6 438.6,571.1 439,566.8 439.4,563.8 439.8,561.7 440.2,560.2 440.7,559 441.1,558.4 441.5,557.9 441.9,557.4 442.3,556.7 442.7,556.5 443.1,556.2 443.5,556.2 444,556.2 444.4,556.2 444.8,556.3 445.2,556.4 445.6,556.2 446,556.4 446.4,556.6 446.9,556.3 447.3,556 447.7,556 448.1,555.9 448.5,556 448.9,555.8 449.3,556 449.7,555.8 450.2,556.1 450.6,569 451,581.3 451.4,593 451.8,604.7 452.2,616.6 452.6,628.5 453.1,639.4 453.5,647.8 453.9,654.6 454.3,659.6 454.7,663.3 455.1,666.7 455.5,669.4 456,671.3 456.4,673 456.8,674.2 457.2,675.5 457.6,676.2 458,676.9 458.4,677.6 458.8,677.9 459.3,678.4 459.7,678.7 460.1,678.8 460.5,679.1 460.9,679 461.3,679.1 461.7,679.2 462.2,679.3 462.6,679.4 463,679.4 463.4,679.9 463.8,680 464.2,680.1 464.6,680.2 465,680.1 465.5,680.1 465.9,673.2 466.3,659 466.7,644.2 467.1,629.4 467.5,614.3 467.9,599.4 468.4,585.9 468.8,576.8 469.2,570.4 469.6,566.1 470,563.3 470.4,560.9 470.8,559.6 471.2,558.6 471.7,558.1 472.1,557.7 472.5,557.4 472.9,557.1 473.3,556.8 473.7,556.3 474.1,556 474.6,555.7 475,555.6 475.4,555.5 475.8,555.4 476.2,555.5 476.6,555.5 477,555.4 477.5,555.4 477.9,555.5 478.3,555.4 478.7,555.4 479.1,555.2 479.5,555.5 479.9,555.3 480.3,555.6 480.8,568.3 481.2,580.8 481.6,592.9 482,604.8 482.4,616.7 482.8,628.8 483.2,639.7 483.7,648.1 484.1,654.5 484.5,659.5 484.9,663.6 485.3,666.4 485.7,668.8 486.1,670.8 486.5,672.4 487,674.1 487.4,675.2 487.8,675.9 488.2,676.1 488.6,676.7 489,676.7 489.4,677.5 489.9,677.7 490.3,678 490.7,678.7 491.1,678.8 491.5,678.7 491.9,679 492.3,679.2 492.7,679.4 493.2,679.3 493.6,679.5 494,679.9 494.4,680.3 494.8,673.2 495.2,659.3 495.6,644.1 496.1,628.7 496.5,613.7 496.9,598.6 497.3,585.4 497.7,576.4 498.1,570 498.5,565.6 499,562.3 499.4,560.2 499.8,558.6 500.2,557.5 500.6,557 501,556.7 501.4,556.2 501.8,556 502.3,556 502.7,555.7 503.1,555.9 503.5,555.9 503.9,556.1 504.3,555.9 504.7,555.8 505.2,555.6 505.6,555.5 506,555.3 506.4,555.2 506.8,555.6 507.2,555.7 507.6,555.8 508,555.9 508.5,555.9 508.9,555.9 509.3,555.7 509.7,555.7 510.1,555.6 510.5,555.8 510.9,555.4 511.4,555 511.8,555 512.2,555.6 512.6,555.7 513,555.7 513.4,555.7 513.8,555.4 514.3,555.4 514.7,555.5 515.1,555.6 515.5,555.5 515.9,555.6 516.3,555.7 516.7,555.6 517.1,555.8 517.6,555.6 518,555.5 518.4,555.6 518.8,555.4 519.2,555.3 519.6,555.1 520,555.3 520.5,555.1 520.9,555.2 521.3,555 521.7,555.1 522.1,555.1 522.5,555.2 522.9,555.6 523.3,567.6 523.8,579.8 524.2,592 524.6,604 525,615.9 525.4,627.9 525.8,638.9 526.2,647.6 526.7,654.4 527.1,659.3 527.5,663.3 527.9,666.7 528.3,669.1 528.7,671.6 529.1,673.1 529.5,673.9 530,674.9 530.4,675.8 530.8,676.3 531.2,676.9 531.6,677.4 532,677.8 532.4,677.9 532.9,678.2 533.3,678.7 533.7,678.5 534.1,678.9 534.5,679.1 534.9,679.4 535.3,679.8 535.8,680.3 536.2,680.4 536.6,680.1 537,680.1 537.4,679.9 537.8,679.9 538.2,680.1 538.6,665.8 539.1,651.5 539.5,636.8 539.9,621.7 540.3,606.5 540.7,591.9 541.1,580.9 541.5,573.7 542,568.4 542.4,564.6 542.8,562.1 543.2,560.2 543.6,558.6 544,557.7 544.4,557.2 544.8,556.9 545.3,556.4 545.7,556.2 546.1,555.9 546.5,555.8 546.9,555.9 547.3,556.2 547.7,555.9 548.2,555.7 548.6,555.7 549,555.8 549.4,555.8 549.8,555.6 550.2,555.7 550.6,555.5 551,555.2 551.5,555 551.9,555.3 552.3,555.5 552.7,555.7 553.1,555.5 553.5,555.5 553.9,555.5 554.4,555.6 554.8,555.5 555.2,555.4 555.6,555.5 556,555.3 556.4,555.5 556.8,554.9 557.3,554.7 557.7,554.8 558.1,554.7 558.5,555 558.9,554.8 559.3,554.8 559.7,554.5 560.1,555.1 560.6,554.9 561,554.6 561.4,554.7 561.8,554.8 562.2,554.7 562.6,554.7 563,554.8 563.5,555 563.9,555.3 564.3,555.4 564.7,555.2 565.1,555.3 565.5,555.3 565.9,555 566.3,555.1 566.8,555.1 567.2,555 567.6,555 568,555.4 568.4,555.5 568.8,555.5 569.2,555.4 569.7,555 570.1,555.2 570.5,555.1 570.9,555 571.3,554.8 571.7,554.9 572.1,554.9 572.5,554.9 573,554.9 573.4,555 573.8,555.1 574.2,555.1 574.6,555.1 575,555.5 575.4,555.5 575.9,555.6 576.3,555.4 576.7,555.4 577.1,555.5 577.5,555.2 577.9,555.2 578.3,555.3 578.8,555.5 579.2,555.5 579.6,555.6 580,555.7 580.4,555.5 580.8,555.4 581.2,561.2 581.6,573 582.1,585.1 582.5,596.8 582.9,609.1 583.3,621.3 583.7,633.3 584.1,643.2 584.5,650.7 585,656.3 585.4,661.4 585.8,665 586.2,667.7 586.6,669.8 587,671.5 587.4,673.1 587.8,674.3 588.3,675 588.7,675.6 589.1,676 589.5,676.7 589.9,677.1 590.3,677.3 590.7,677.5 591.2,677.7 591.6,678 592,678.3 592.4,678.6 592.8,679 593.2,679.2 593.6,679.4 594,679.8 594.5,680.1 594.9,680.3 595.3,680.3 595.7,680.3 596.1,680.5 596.5,680.4 596.9,680.5 597.4,680.8 597.8,666.5 598.2,651.9 598.6,637.2 599,622.1 599.4,607 599.8,592.4 600.3,581.6 600.7,574 601.1,568.7 601.5,564.9 601.9,562.3 602.3,560.4 602.7,559 603.1,558.2 603.6,557.7 604,556.9 604.4,556.1 604.8,556.2 605.2,555.7 605.6,555.7 606,555.3 606.5,555.4 606.9,555.4 607.3,555.3 607.7,555.4 608.1,555.1 608.5,555.2 608.9,555.5 609.3,555.5 609.8,555.8 610.2,555.9 610.6,555.6 611,555.4 611.4,555.3 611.8,555.3 612.2,555.5 612.7,561.7 613.1,574.7 613.5,586.8 613.9,598.6 614.3,610.1 614.7,622.2 615.1,634.1 615.5,644.2 616,651.7 616.4,657.3 616.8,661.9 617.2,665.4 617.6,668.1 618,670.4 618.4,672.2 618.9,673.4 619.3,674.1 619.7,675 620.1,675.6 620.5,676.2 620.9,676.8 621.3,677.5 621.8,677.7 622.2,678 622.6,678.4 623,678.6 623.4,678.7 623.8,679.1 624.2,679.2 624.6,679.3 625.1,679.6 625.5,679.8 625.9,679.8 626.3,680.1 626.7,680.1 627.1,680.2 627.5,680 628,679.8 628.4,680.3 628.8,681 629.2,681.2 629.6,681.6 630,681.6 630.4,681.6 630.8,681.7 631.3,681 631.7,681 632.1,680.9 632.5,680.8 632.9,681 633.3,681 633.7,680.8 634.2,680.7 634.6,680.8 635,680.8 635.4,680.9 635.8,681.2 636.2,681.4 636.6,681.6 637,681.6 637.5,681.6 637.9,681.5 638.3,681.3 638.7,681.5 639.1,681.5 639.5,681.3 639.9,681.4 640.4,681.4 640.8,681.5 641.2,681.6 641.6,681.7 642,681.9 642.4,681.8 642.8,682 643.3,681.9 643.7,681.6 644.1,681.8 644.5,681.8 644.9,682 645.3,682 645.7,681.7 646.1,682 646.6,682 647,682 647.4,681.5 647.8,681.4 648.2,681.4 648.6,681.3 649,681 649.5,681.1 649.9,681.3 650.3,681.1 650.7,681.3 651.1,681.3 651.5,681.2 651.9,681.3 652.3,681.3 652.8,681.1 653.2,680.8 653.6,680.9 654,680.7 654.4,681 654.8,681.5 655.2,681.8 655.7,681.6 656.1,681.5 656.5,681.8 656.9,681.8 657.3,682 657.7,681.9 658.1,682.2 658.6,682.4 659,682.4 659.4,682.6 659.8,682.4 660.2,682.4 660.6,682.7 661,682.3 661.4,682.3 661.9,682.5 662.3,682.2 662.7,682.2 663.1,682.1 663.5,682.1 663.9,681.9 664.3,681.8 664.8,682.1 665.2,682.5 665.6,682.3 666,682.6 666.4,682.6 666.8,682.6 667.2,682.8 667.6,682.6 668.1,682.5 668.5,682.2 668.9,682.1 669.3,681.7 669.7,682.1 670.1,681.8 670.5,682 671,681.9 671.4,681.8 671.8,681.7 672.2,681.7 672.6,681.5 673,681.8 673.4,681.9 673.8,681.9 674.3,682.1 674.7,682.3 675.1,682.4 675.5,682.5 675.9,682 676.3,682 676.7,681.8 677.2,681.8 677.6,681.9 678,681.9 678.4,682 678.8,682 679.2,681.7 679.6,681.7 680.1,681.7 680.5,681.8 680.9,681.9 681.3,681.7 681.7,681.6 682.1,682 682.5,681.8 682.9,682.3 683.4,681.9 683.8,681.3 684.2,681.7 684.6,681.7 685,681.5 685.4,681.6 685.8,667.1 686.3,652 686.7,636.8 687.1,621.9 687.5,607.3 687.9,592.8 688.3,581.9 688.7,574 689.1,568.5 689.6,564.6 690,562.2 690.4,560.6 690.8,559.7 691.2,558.5 691.6,558 692,557.6 692.5,557.1 692.9,556.6 693.3,556.3 693.7,556.5 694.1,556.2 694.5,556 694.9,556.1 695.3,556.2 695.8,556.3 696.2,556.3 696.6,556.2 697,555.9 697.4,555.6 697.8,555.9 698.2,555.8 698.7,556 699.1,555.5 699.5,555.4 699.9,555.3 700.3,561.8 700.7,574.5 701.1,586.9 701.6,598.6 702,610.7 702.4,622.9 702.8,634.9 703.2,644.8 703.6,652 704,657.7 704.4,662.2 704.9,665.2 705.3,667.7 705.7,670 706.1,671.9 706.5,673.1 706.9,674.1 707.3,675.1 707.8,676.1 708.2,676.5 708.6,677 709,677.3 709.4,677.9 709.8,678.6 710.2,679 710.6,679.3 711.1,679.2 711.5,679.6 711.9,679.8 712.3,679.9 712.7,680 713.1,680 713.5,680.3 714,680.2 714.4,680.4 714.8,680.6 715.2,680.7 715.6,680.8 716,680.9 716.4,681.1 716.8,681.3 717.3,681.1 717.7,681.3 718.1,681.1 718.5,681.2 718.9,681.4 719.3,681.1 719.7,680.9 720.2,680.6 720.6,680.5 721,680.7 721.4,680.8 721.8,681 722.2,681.3 722.6,681.2 723.1,681.5 723.5,681.5 723.9,681.6 724.3,681.7 724.7,681.9 725.1,682.1 725.5,681.9 725.9,681.8 726.4,681.9 726.8,681.8 727.2,681.9 727.6,682.3 728,682.2 728.4,667.3 728.8,652.5 729.3,637.4 729.7,622.4 730.1,607.3 730.5,592.6 730.9,581.8 731.3,574.2 731.7,569.1 732.1,565.4 732.6,562.4 733,560.4 733.4,559.5 733.8,558.3 734.2,557.9 734.6,557.4 735,557.1 735.5,556.8 735.9,556.6 736.3,556.8 736.7,556.4 737.1,556 737.5,555.9 737.9,555.6 738.3,555.8 738.8,555.6 739.2,555.7 739.6,555.6 740,555.6 740.4,555.6 740.8,555.5 741.2,555.3 741.7,555.2 742.1,555.2 742.5,554.8 742.9,554.9 743.3,555 743.7,555.3 744.1,555 744.6,555 745,555.3 745.4,555.3 745.8,555.6 746.2,555.5 746.6,555.5 747,555.5 747.4,555.3 747.9,555.5 748.3,555.5 748.7,555.1 749.1,555.1 749.5,555 749.9,555.1 750.3,554.8 750.8,554.7 751.2,554.5 751.6,554.4 752,554.5 752.4,554.4 752.8,554.5 753.2,554.8 753.6,554.8 754.1,555 754.5,555 754.9,554.7 755.3,554.8 755.7,554.7 756.1,554.7 756.5,554.9 757,561.1 757.4,573.2 757.8,585.3 758.2,597.1 758.6,609.1 759,620.9 759.4,632.8 759.8,642.8 760.3,650.2 760.7,656.1 761.1,660.9 761.5,664.4 761.9,667.6 762.3,669.9 762.7,671.7 763.2,673.1 763.6,674.4 764,675.5 764.4,675.8 764.8,676.2 765.2,676.5 765.6,676.9 766.1,677.2 766.5,677.6 766.9,678.1 767.3,678.1 767.7,678.3 768.1,678.5 768.5,678.9 768.9,679.1 769.4,679.8 769.8,680 770.2,679.8 770.6,680.1 771,680 771.4,679.9 771.8,680.6 772.3,680.1 772.7,680.2 773.1,680.7 773.5,680.6 773.9,680.6 774.3,680.4 774.7,680.7 775.1,680.9 775.6,680.7 776,680.6 776.4,680.6 776.8,680.6 777.2,680.7 777.6,680.6 778,680.4 778.5,680.4 778.9,680.4 779.3,680.4 779.7,680.6 780.1,680.8 780.5,680.9 780.9,680.9 781.3,681.2 781.8,681.3 782.2,681.1 782.6,681.4 783,681.7 783.4,681.7 783.8,681.9 784.2,681.8 784.7,681.9 785.1,681.7 785.5,681.5 785.9,681 786.3,681.2 786.7,681.1 787.1,681.1 787.6,681.1 788,681.1 788.4,681.3 788.8,681.2 789.2,681.1 789.6,681 790,681.4 790.4,681.6 790.9,681.7 791.3,682 791.7,682.4 792.1,681.8 792.5,682.1 792.9,681.9 793.3,681.8 793.8,681.6 794.2,681.7 794.6,681.9 795,682 795.4,681.8 795.8,682 796.2,681.6 796.6,681.6 797.1,681.9 797.5,681.7 797.9,681.5 798.3,681.5 798.7,681.6 799.1,681.7 799.5,681.6 800,681.8 800.4,681.8 800.8,681.8 801.2,681.4 801.6,681.7 802,681.7 802.4,666.9 802.8,652.2 803.3,637.1 803.7,622 804.1,606.6 804.5,591.9 804.9,581 805.3,573.4 805.7,568.6 806.2,564.9 806.6,562.2 807,560 807.4,558.8 807.8,557.9 808.2,557.4 808.6,556.5 809.1,556.3 809.5,556.3 809.9,556.2 810.3,556.4 810.7,556.1 811.1,555.9 811.5,556 811.9,555.9 812.4,555.8 812.8,555.8 813.2,555.7 813.6,555.5" fill="none" stroke="#6cb52d" stroke-width="1.95" stroke-linejoin="round"/>
<rect x="193.4" y="541.6" width="620.2" height="159.8" fill="none" stroke="#1c1c1c" stroke-width="2.4"/>
<path d="M193.4,541.6h5M193.4,561.6h3M193.4,581.5h5M193.4,601.5h3M193.4,621.5h5M193.4,641.5h3M193.4,661.5h5M193.4,681.4h3M193.4,701.4h5M193.4,701.4v-5M245.1,701.4v-3M296.8,701.4v-5M348.5,701.4v-3M400.1,701.4v-5M451.8,701.4v-3M503.5,701.4v-5M555.2,701.4v-3M606.9,701.4v-5M658.6,701.4v-3M710.2,701.4v-5M761.9,701.4v-3M813.6,701.4v-5" stroke="#1c1c1c" stroke-width="1.8" fill="none"/>
<text x="187.8" y="547.5" font-family="'Liberation Serif',serif" font-size="18" font-weight="bold" text-anchor="end" fill="#111" stroke="#111" >1.0</text>
<text x="187.8" y="587.4" font-family="'Liberation Serif',serif" font-size="18" font-weight="bold" text-anchor="end" fill="#111" stroke="#111" >0.5</text>
<text x="187.8" y="627.4" font-family="'Liberation Serif',serif" font-size="18" font-weight="bold" text-anchor="end" fill="#111" stroke="#111" >0</text>
<text x="187.8" y="667.4" font-family="'Liberation Serif',serif" font-size="18" font-weight="bold" text-anchor="end" fill="#111" stroke="#111" >-0.5</text>
<text x="187.8" y="707.3" font-family="'Liberation Serif',serif" font-size="18" font-weight="bold" text-anchor="end" fill="#111" stroke="#111" >-1.0</text>
<text x="193.4" y="721" font-family="'Liberation Serif',serif" font-size="17.4" font-weight="bold" text-anchor="middle" fill="#111" stroke="#111" >0</text>
<text x="296.8" y="721" font-family="'Liberation Serif',serif" font-size="17.4" font-weight="bold" text-anchor="middle" fill="#111" stroke="#111" >50</text>
<text x="400.1" y="721" font-family="'Liberation Serif',serif" font-size="17.4" font-weight="bold" text-anchor="middle" fill="#111" stroke="#111" >100</text>
<text x="503.5" y="721" font-family="'Liberation Serif',serif" font-size="17.4" font-weight="bold" text-anchor="middle" fill="#111" stroke="#111" >150</text>
<text x="606.9" y="721" font-family="'Liberation Serif',serif" font-size="17.4" font-weight="bold" text-anchor="middle" fill="#111" stroke="#111" >200</text>
<text x="710.2" y="721" font-family="'Liberation Serif',serif" font-size="17.4" font-weight="bold" text-anchor="middle" fill="#111" stroke="#111" >250</text>
<text x="813.6" y="721" font-family="'Liberation Serif',serif" font-size="17.4" font-weight="bold" text-anchor="middle" fill="#111" stroke="#111" >300</text>
<rect x="193.4" y="730.2" width="13.6" height="159.3" fill="#fbd1d2"/>
<rect x="226.9" y="730.2" width="12.2" height="159.3" fill="#fbd1d2"/>
<rect x="247.4" y="730.2" width="9.7" height="159.3" fill="#fbd1d2"/>
<rect x="267.4" y="730.2" width="12.6" height="159.3" fill="#fbd1d2"/>
<rect x="291.2" y="730.2" width="23.6" height="159.3" fill="#fbd1d2"/>
<rect x="327.4" y="730.2" width="9.1" height="159.3" fill="#fbd1d2"/>
<rect x="378.6" y="730.2" width="11.8" height="159.3" fill="#fbd1d2"/>
<rect x="405.5" y="730.2" width="17" height="159.3" fill="#fbd1d2"/>
<rect x="450" y="730.2" width="34.9" height="159.3" fill="#fbd1d2"/>
<rect x="504.1" y="730.2" width="12.2" height="159.3" fill="#fbd1d2"/>
<rect x="524.8" y="730.2" width="9.9" height="159.3" fill="#fbd1d2"/>
<rect x="544.6" y="730.2" width="12.6" height="159.3" fill="#fbd1d2"/>
<rect x="568.8" y="730.2" width="23.2" height="159.3" fill="#fbd1d2"/>
<rect x="605" y="730.2" width="9.9" height="159.3" fill="#fbd1d2"/>
<rect x="656.7" y="730.2" width="12.2" height="159.3" fill="#fbd1d2"/>
<rect x="683.2" y="730.2" width="16.7" height="159.3" fill="#fbd1d2"/>
<rect x="727.2" y="730.2" width="36" height="159.3" fill="#fbd1d2"/>
<rect x="781.6" y="730.2" width="11.4" height="159.3" fill="#fbd1d2"/>
<rect x="803.1" y="730.2" width="10.5" height="159.3" fill="#fbd1d2"/>
<text x="810.5" y="751.6" font-family="'Liberation Serif',serif" font-size="21.8" font-weight="bold" text-anchor="end" fill="#b0151a" stroke="#b0151a" >200 Mbps</text>
<polyline points="193.4,743.8 193.8,743.7 194.2,743.9 194.6,743.7 195.1,743.5 195.5,743.5 195.9,743.8 196.3,743.6 196.7,743.8 197.1,744.1 197.5,744.1 197.9,743.9 198.4,743.9 198.8,743.9 199.2,743.6 199.6,743.6 200,743.7 200.4,743.7 200.8,743.7 201.3,743.9 201.7,743.8 202.1,743.7 202.5,743.9 202.9,744 203.3,744 203.7,744 204.2,744.2 204.6,743.9 205,743.5 205.4,743.5 205.8,755.5 206.2,767.6 206.6,779.9 207,791.7 207.5,804.2 207.9,815.9 208.3,827.5 208.7,836.5 209.1,843.5 209.5,848.4 209.9,852.5 210.4,855.4 210.8,857.8 211.2,860 211.6,861.3 212,862.9 212.4,863.9 212.8,865 213.2,865.7 213.7,865.9 214.1,866.4 214.5,866.7 214.9,867.1 215.3,867.3 215.7,867.8 216.1,867.7 216.6,868.2 217,868.5 217.4,868.5 217.8,868.7 218.2,869.1 218.6,869 219,869 219.4,869.1 219.9,869.2 220.3,869.3 220.7,869.3 221.1,869.1 221.5,869.4 221.9,869.6 222.3,869.7 222.8,869.5 223.2,870.2 223.6,870.2 224,870.3 224.4,870.2 224.8,863 225.2,848.7 225.7,833.9 226.1,819.4 226.5,804.3 226.9,789.5 227.3,775.7 227.7,766.4 228.1,760 228.5,755.1 229,752.2 229.4,750 229.8,748.6 230.2,747.3 230.6,746.4 231,745.8 231.4,745.1 231.9,744.5 232.3,744.5 232.7,744.4 233.1,744.2 233.5,744.4 233.9,744.4 234.3,744.7 234.7,744.6 235.2,744.2 235.6,744.3 236,744.3 236.4,744.2 236.8,743.9 237.2,744.2 237.6,750.3 238.1,762.9 238.5,775 238.9,787 239.3,798.6 239.7,810.8 240.1,822.8 240.5,832.6 240.9,840.8 241.4,847.1 241.8,851.6 242.2,855.3 242.6,857.9 243,860 243.4,861.4 243.8,862.8 244.3,864.1 244.7,865.5 245.1,866.2 245.5,852.3 245.9,838.3 246.3,823.9 246.7,809.2 247.2,794.2 247.6,780 248,769.3 248.4,761.7 248.8,756.4 249.2,752.7 249.6,750.5 250,748.7 250.5,747.6 250.9,747 251.3,746.4 251.7,746.2 252.1,745.8 252.5,745.5 252.9,745.6 253.4,745.4 253.8,745.1 254.2,744.7 254.6,744.3 255,744.1 255.4,744.3 255.8,756.7 256.2,769 256.7,781.3 257.1,793 257.5,804.7 257.9,816.7 258.3,828.2 258.7,837 259.1,843.7 259.6,849.2 260,853.3 260.4,856.6 260.8,858.8 261.2,860.6 261.6,862.5 262,863.4 262.4,864.5 262.9,865.5 263.3,866 263.7,866.5 264.1,867 264.5,867.4 264.9,867.8 265.3,860.8 265.8,846.9 266.2,832.8 266.6,817.7 267,802.9 267.4,788.4 267.8,775.2 268.2,765.9 268.7,759.4 269.1,754.8 269.5,751.7 269.9,749.4 270.3,748.1 270.7,747 271.1,746.2 271.5,745.7 272,745.4 272.4,744.9 272.8,744.7 273.2,745 273.6,744.9 274,744.8 274.4,745.2 274.9,744.8 275.3,745 275.7,744.7 276.1,744.3 276.5,744.2 276.9,743.8 277.3,743.6 277.7,743.9 278.2,743.8 278.6,749.9 279,762.5 279.4,774.1 279.8,786.2 280.2,798 280.6,809.9 281.1,822.3 281.5,832.3 281.9,839.9 282.3,845.9 282.7,850.6 283.1,854.4 283.5,857.4 283.9,859.7 284.4,861.8 284.8,863.5 285.2,864.4 285.6,865.3 286,865.9 286.4,866.2 286.8,866.9 287.3,867.4 287.7,867.9 288.1,868.1 288.5,868.8 288.9,869.1 289.3,855.2 289.7,840.9 290.2,826.1 290.6,811.2 291,796.4 291.4,781.8 291.8,770.5 292.2,763 292.6,757.6 293,753.7 293.5,751 293.9,749.1 294.3,747.8 294.7,747.4 295.1,746.8 295.5,746.1 295.9,745.9 296.4,745.5 296.8,745.1 297.2,745.1 297.6,744.8 298,744.7 298.4,744.8 298.8,744.9 299.2,744.9 299.7,744.6 300.1,744.3 300.5,744.1 300.9,743.9 301.3,744.4 301.7,744.2 302.1,743.8 302.6,743.6 303,743.4 303.4,743.5 303.8,743.6 304.2,743.7 304.6,743.5 305,743.4 305.4,743.6 305.9,743.6 306.3,743.7 306.7,743.2 307.1,743.3 307.5,743.3 307.9,743.4 308.3,743.6 308.8,743.4 309.2,743.6 309.6,743.5 310,743.3 310.4,743.4 310.8,743.2 311.2,743.3 311.7,743.6 312.1,743.2 312.5,743.7 312.9,743.8 313.3,750.1 313.7,762.1 314.1,774.1 314.5,786.2 315,798.1 315.4,810.2 315.8,822.3 316.2,832 316.6,839.9 317,846.1 317.4,850.8 317.9,854.2 318.3,856.9 318.7,858.8 319.1,861 319.5,862.4 319.9,863.5 320.3,864.4 320.7,865.4 321.2,866.1 321.6,866.9 322,867.2 322.4,867.4 322.8,867.5 323.2,868 323.6,868.2 324.1,868.5 324.5,868.7 324.9,868.5 325.3,861.7 325.7,847.5 326.1,833.2 326.5,818.5 326.9,803.9 327.4,788.6 327.8,775.3 328.2,766 328.6,759.7 329,754.9 329.4,752 329.8,750.1 330.3,748.2 330.7,747 331.1,746 331.5,745.5 331.9,745.3 332.3,745.1 332.7,745 333.2,745 333.6,744.8 334,744.7 334.4,744.3 334.8,744.2 335.2,756.8 335.6,769.1 336,781.6 336.5,793.7 336.9,805.8 337.3,817.8 337.7,829.4 338.1,838.1 338.5,844.7 338.9,849.9 339.4,854.2 339.8,857.2 340.2,859.6 340.6,861.6 341,862.9 341.4,863.9 341.8,864.9 342.2,865.8 342.7,866.6 343.1,866.9 343.5,867 343.9,867.3 344.3,867.4 344.7,868 345.1,868.6 345.6,868.8 346,868.7 346.4,869 346.8,869.4 347.2,869.4 347.6,869.5 348,869.5 348.5,869.5 348.9,869.9 349.3,869.7 349.7,869.8 350.1,870.1 350.5,869.9 350.9,869.9 351.3,870.3 351.8,870.2 352.2,870.3 352.6,870.3 353,870.4 353.4,870.8 353.8,870.6 354.2,870.7 354.7,870.6 355.1,870.3 355.5,870.3 355.9,870.5 356.3,870.6 356.7,870.2 357.1,870.5 357.5,870.7 358,870.7 358.4,870.7 358.8,870.9 359.2,871.3 359.6,871.4 360,871.2 360.4,871.2 360.9,871 361.3,870.8 361.7,871.1 362.1,870.5 362.5,870.9 362.9,870.8 363.3,870.9 363.7,871.1 364.2,871.2 364.6,871.3 365,871.6 365.4,871.6 365.8,871.8 366.2,871.8 366.6,871.8 367.1,871.4 367.5,871.3 367.9,871.8 368.3,871.6 368.7,871.5 369.1,871.6 369.5,871.8 370,871.6 370.4,871.7 370.8,871.5 371.2,871.3 371.6,871.2 372,871.2 372.4,871.4 372.8,871.1 373.3,871.4 373.7,871.5 374.1,871.3 374.5,871.3 374.9,871.2 375.3,871.2 375.7,871.3 376.2,871.5 376.6,863.9 377,849.1 377.4,834.3 377.8,819.3 378.2,804.3 378.6,789.3 379,775.9 379.5,766.3 379.9,759.7 380.3,754.8 380.7,752.1 381.1,749.9 381.5,748.1 381.9,747.3 382.4,746.6 382.8,746 383.2,745.4 383.6,745.3 384,745.1 384.4,745 384.8,744.7 385.2,744.8 385.7,744.6 386.1,744.3 386.5,744.6 386.9,744.1 387.3,744.3 387.7,744.2 388.1,744 388.6,744.1 389,750.5 389.4,763.3 389.8,775.6 390.2,787.7 390.6,799.6 391,811.5 391.5,823.5 391.9,833.5 392.3,841.2 392.7,847.2 393.1,852 393.5,855.7 393.9,858.7 394.3,860.9 394.8,862.6 395.2,863.6 395.6,864.8 396,865.6 396.4,866.6 396.8,867.1 397.2,867.4 397.7,867.5 398.1,867.8 398.5,868.2 398.9,868.5 399.3,869 399.7,869.3 400.1,869.3 400.5,869.1 401,869.6 401.4,869.8 401.8,869.9 402.2,869.8 402.6,869.9 403,870.1 403.4,863 403.9,848.9 404.3,834 404.7,819.5 405.1,804.4 405.5,789.5 405.9,775.8 406.3,766.2 406.7,759.6 407.2,755.2 407.6,751.7 408,749.5 408.4,748 408.8,747.3 409.2,746.3 409.6,745.6 410.1,745.3 410.5,745 410.9,744.9 411.3,744.7 411.7,744.6 412.1,744.5 412.5,744.8 413,745.1 413.4,745.1 413.8,744.8 414.2,744.8 414.6,745 415,744.8 415.4,744.6 415.8,744.4 416.3,744.2 416.7,744.1 417.1,744 417.5,744.2 417.9,744 418.3,743.8 418.7,743.6 419.2,743.4 419.6,743.7 420,743.5 420.4,743.7 420.8,743.9 421.2,756.4 421.6,768.5 422,780 422.5,792.1 422.9,803.9 423.3,815.8 423.7,827.2 424.1,836.1 424.5,843.1 424.9,848.4 425.4,852.7 425.8,855.6 426.2,858.1 426.6,860.1 427,861.7 427.4,863.2 427.8,864.4 428.2,865.2 428.7,865.9 429.1,866.4 429.5,867.1 429.9,867.7 430.3,868 430.7,868.4 431.1,868.3 431.6,868.5 432,868.7 432.4,868.8 432.8,869.2 433.2,869.4 433.6,869.5 434,869.4 434.5,869.9 434.9,870.5 435.3,870.5 435.7,870.9 436.1,870.8 436.5,870.7 436.9,870.2 437.3,870.1 437.8,869.9 438.2,869.9 438.6,869.9 439,870.1 439.4,870.5 439.8,870.6 440.2,870.7 440.7,870.4 441.1,870.5 441.5,870.2 441.9,870.4 442.3,870.4 442.7,870.4 443.1,870.9 443.5,871.1 444,871.2 444.4,871.1 444.8,871.3 445.2,871 445.6,871.1 446,871 446.4,870.8 446.9,870.8 447.3,870.9 447.7,871.1 448.1,856.6 448.5,841.6 448.9,826.7 449.3,811.7 449.7,796.8 450.2,781.9 450.6,770.9 451,763.3 451.4,757.7 451.8,753.8 452.2,751 452.6,748.8 453.1,747.5 453.5,746.6 453.9,745.7 454.3,745.3 454.7,745.3 455.1,745.3 455.5,745 456,744.8 456.4,744.7 456.8,744.4 457.2,744.7 457.6,744.4 458,744.4 458.4,744.4 458.8,744.6 459.3,744.3 459.7,744.2 460.1,744.3 460.5,744.1 460.9,744.2 461.3,744 461.7,744 462.2,744 462.6,744.2 463,744.1 463.4,744 463.8,744.1 464.2,743.8 464.6,743.5 465,743.3 465.5,743.1 465.9,743.3 466.3,743.5 466.7,743.3 467.1,743.4 467.5,743.7 467.9,743.6 468.4,743.9 468.8,743.9 469.2,744 469.6,743.7 470,744 470.4,744.2 470.8,744.1 471.2,744.3 471.7,744.3 472.1,744.4 472.5,744.5 472.9,744.1 473.3,743.9 473.7,744.2 474.1,744.3 474.6,744.3 475,744.4 475.4,744.5 475.8,744.2 476.2,744.6 476.6,744.2 477,744 477.5,743.6 477.9,743.5 478.3,743.7 478.7,744 479.1,743.9 479.5,744.3 479.9,744 480.3,743.9 480.8,743.5 481.2,743.3 481.6,743.4 482,743.2 482.4,743.5 482.8,743.5 483.2,743.4 483.7,755.1 484.1,767.2 484.5,779.1 484.9,791 485.3,802.9 485.7,815.5 486.1,826.8 486.5,835.5 487,842.2 487.4,848 487.8,852.2 488.2,855.5 488.6,858.1 489,860.2 489.4,861.8 489.9,862.8 490.3,863.9 490.7,864.7 491.1,865.5 491.5,866 491.9,866.4 492.3,866.7 492.7,866.8 493.2,867.2 493.6,867.3 494,867.3 494.4,867.7 494.8,868.1 495.2,868.3 495.6,868.3 496.1,868.3 496.5,868.6 496.9,868.8 497.3,869.3 497.7,869.6 498.1,869.8 498.5,870 499,870.3 499.4,870.3 499.8,870.4 500.2,870.3 500.6,870.4 501,870.6 501.4,870.9 501.8,870.6 502.3,856.7 502.7,841.9 503.1,827.2 503.5,812 503.9,797.2 504.3,782.2 504.7,771 505.2,763.6 505.6,757.8 506,753.9 506.4,751.2 506.8,749.6 507.2,748.1 507.6,747.2 508,746.5 508.5,746 508.9,745.4 509.3,745.2 509.7,745.2 510.1,745.4 510.5,745.3 510.9,745.4 511.4,745.1 511.8,744.9 512.2,744.7 512.6,744.4 513,744.4 513.4,744.2 513.8,744 514.3,744.3 514.7,744.2 515.1,757 515.5,769.7 515.9,781.9 516.3,793.9 516.7,805.8 517.1,817.7 517.6,828.9 518,838 518.4,844.6 518.8,850.1 519.2,854.1 519.6,857.1 520,859.6 520.5,861.5 520.9,862.9 521.3,864 521.7,865 522.1,865.7 522.5,866.6 522.9,852.6 523.3,838.6 523.8,824.6 524.2,809.9 524.6,794.7 525,779.8 525.4,768.6 525.8,761.1 526.2,756 526.7,752.5 527.1,749.9 527.5,748.2 527.9,747.3 528.3,746.6 528.7,746.4 529.1,745.8 529.5,745.1 530,744.7 530.4,744.5 530.8,744.5 531.2,744.1 531.6,743.9 532,744.1 532.4,744.1 532.9,743.9 533.3,750.2 533.7,762.7 534.1,775.4 534.5,786.9 534.9,799.1 535.3,810.8 535.8,822.8 536.2,833.2 536.6,840.5 537,846.7 537.4,851.7 537.8,855.3 538.2,858.2 538.6,860.5 539.1,862.2 539.5,863.7 539.9,864.5 540.3,865.3 540.7,865.9 541.1,866.8 541.5,867.1 542,867.8 542.4,868.4 542.8,854.5 543.2,840.4 543.6,825.7 544,811 544.4,796.2 544.8,781.4 545.3,770 545.7,762.2 546.1,756.7 546.5,753.4 546.9,750.7 547.3,749.2 547.7,747.7 548.2,746.6 548.6,745.9 549,745.5 549.4,745 549.8,744.6 550.2,744.4 550.6,744.2 551,744.3 551.5,744.4 551.9,743.9 552.3,743.7 552.7,744 553.1,744.1 553.5,744 553.9,743.9 554.4,744.2 554.8,744.1 555.2,744 555.6,744.2 556,757.2 556.4,769.3 556.8,781.3 557.3,793 557.7,804.7 558.1,816.8 558.5,828.5 558.9,837.4 559.3,843.7 559.7,849.1 560.1,853.1 560.6,856 561,858.7 561.4,860.7 561.8,862.7 562.2,864.1 562.6,865 563,866.1 563.5,866.9 563.9,867.3 564.3,867.6 564.7,867.9 565.1,868.1 565.5,868.3 565.9,868.5 566.3,868.5 566.8,861.5 567.2,847 567.6,833.1 568,817.9 568.4,802.8 568.8,788.3 569.2,774.9 569.7,765.9 570.1,759.4 570.5,754.9 570.9,751.8 571.3,749.4 571.7,747.7 572.1,746.5 572.5,745.9 573,745.4 573.4,744.5 573.8,743.9 574.2,743.9 574.6,744.1 575,744.1 575.4,744.3 575.9,743.6 576.3,743.6 576.7,743.6 577.1,743.8 577.5,743.9 577.9,743.9 578.3,744 578.8,743.9 579.2,744 579.6,743.8 580,744 580.4,743.9 580.8,743.7 581.2,743.8 581.6,744 582.1,744.1 582.5,744.1 582.9,744.1 583.3,744.2 583.7,744.2 584.1,744.2 584.5,744.2 585,744.1 585.4,744.3 585.8,744.1 586.2,744 586.6,744 587,743.8 587.4,743.9 587.8,743.6 588.3,743.8 588.7,743.6 589.1,743.4 589.5,743.8 589.9,743.8 590.3,743.4 590.7,755.4 591.2,767.7 591.6,779.7 592,791.7 592.4,803.7 592.8,815.8 593.2,826.9 593.6,835.9 594,842.7 594.5,848.2 594.9,852.5 595.3,855.6 595.7,858.2 596.1,860.4 596.5,862 596.9,863.2 597.4,864.4 597.8,865.2 598.2,865.7 598.6,866.2 599,867.1 599.4,867.2 599.8,867.9 600.3,867.9 600.7,868.3 601.1,868.7 601.5,868.6 601.9,868.9 602.3,869.1 602.7,868.8 603.1,854.9 603.6,840.8 604,826.3 604.4,811.6 604.8,796.4 605.2,781.4 605.6,770.1 606,762.3 606.5,757.1 606.9,753.4 607.3,750.9 607.7,749.4 608.1,748.2 608.5,747.4 608.9,746.5 609.3,746 609.8,745.3 610.2,744.7 610.6,744.7 611,744.5 611.4,744.4 611.8,744.3 612.2,744.2 612.7,743.9 613.1,743.8 613.5,750.5 613.9,763 614.3,775.6 614.7,787.6 615.1,799.7 615.5,811.5 616,823.5 616.4,833.2 616.8,840.9 617.2,847.1 617.6,851.9 618,855.2 618.4,857.8 618.9,859.9 619.3,861.7 619.7,863.3 620.1,864.2 620.5,864.9 620.9,865.7 621.3,866.4 621.8,867 622.2,867.5 622.6,868 623,868.5 623.4,868.8 623.8,869.1 624.2,869.2 624.6,869.3 625.1,869.9 625.5,870.1 625.9,870 626.3,870.4 626.7,870.6 627.1,870.5 627.5,870.7 628,870.6 628.4,870.4 628.8,870.8 629.2,870.7 629.6,870.5 630,870.4 630.4,870.4 630.8,870.3 631.3,870.5 631.7,870.9 632.1,870.7 632.5,870.9 632.9,870.7 633.3,871.4 633.7,871.6 634.2,871.5 634.6,871.7 635,871.6 635.4,871.4 635.8,871.3 636.2,871.4 636.6,871.5 637,871.4 637.5,871.6 637.9,871.3 638.3,871.6 638.7,871.5 639.1,871.1 639.5,871.2 639.9,871.1 640.4,871 640.8,871.3 641.2,871.4 641.6,871.4 642,871.4 642.4,871.4 642.8,871.8 643.3,871.5 643.7,871.7 644.1,871.6 644.5,871.2 644.9,871.2 645.3,871.4 645.7,871.7 646.1,871.6 646.6,871.9 647,872 647.4,871.9 647.8,871.8 648.2,871.7 648.6,871.9 649,872 649.5,872.1 649.9,871.9 650.3,872 650.7,872 651.1,871.5 651.5,871.5 651.9,871.7 652.3,871.3 652.8,871.6 653.2,871.9 653.6,871.8 654,871.4 654.4,871.7 654.8,856.5 655.2,842 655.7,827.5 656.1,812.4 656.5,797.3 656.9,782.6 657.3,771.2 657.7,763.3 658.1,757.7 658.6,753.7 659,751.1 659.4,749.4 659.8,748.1 660.2,746.9 660.6,746.1 661,745.6 661.4,745.2 661.9,745 662.3,744.8 662.7,744.4 663.1,744.3 663.5,744.6 663.9,744.4 664.3,744.6 664.8,744.6 665.2,744.2 665.6,744 666,744.1 666.4,744.1 666.8,744.1 667.2,744.3 667.6,756.8 668.1,769.4 668.5,781.8 668.9,793.7 669.3,805.5 669.7,817.5 670.1,828.9 670.5,837.5 671,844.1 671.4,849.1 671.8,853.3 672.2,856.4 672.6,859 673,860.7 673.4,862.2 673.8,863.2 674.3,864.3 674.7,865.3 675.1,865.7 675.5,866.4 675.9,867.2 676.3,867.5 676.7,867.9 677.2,868.4 677.6,868.4 678,868.5 678.4,868.9 678.8,869 679.2,869.1 679.6,869 680.1,869.3 680.5,869.4 680.9,869.7 681.3,856 681.7,841.5 682.1,826.4 682.5,811.7 682.9,796.6 683.4,781.8 683.8,770.3 684.2,762.3 684.6,756.7 685,753.1 685.4,750.6 685.8,749.1 686.3,747.5 686.7,746.5 687.1,746 687.5,745.9 687.9,745.4 688.3,745.2 688.7,744.9 689.1,744.7 689.6,744.7 690,744.9 690.4,744.4 690.8,744.5 691.2,744.3 691.6,744.3 692,744.3 692.5,744.2 692.9,744.4 693.3,744.4 693.7,744.2 694.1,744.3 694.5,743.9 694.9,743.9 695.3,744 695.8,743.9 696.2,743.9 696.6,744 697,744.1 697.4,744.1 697.8,743.9 698.2,743.8 698.7,756.2 699.1,768.4 699.5,780.3 699.9,792.2 700.3,804 700.7,815.9 701.1,827.1 701.6,836 702,842.9 702.4,848.3 702.8,852.3 703.2,856 703.6,858.8 704,860.8 704.4,862 704.9,863.2 705.3,864.3 705.7,864.8 706.1,865.6 706.5,865.9 706.9,866.7 707.3,867 707.8,867.6 708.2,868 708.6,868 709,868.4 709.4,868.6 709.8,868.7 710.2,869.2 710.6,869.2 711.1,869.3 711.5,869.5 711.9,870 712.3,869.9 712.7,870 713.1,870 713.5,869.9 714,870.2 714.4,870.4 714.8,870.4 715.2,870.5 715.6,870.5 716,870.7 716.4,870.8 716.8,870.7 717.3,870.8 717.7,870.8 718.1,870.4 718.5,870.2 718.9,870.4 719.3,870.6 719.7,870.8 720.2,871 720.6,870.7 721,870.9 721.4,871.2 721.8,870.8 722.2,871 722.6,870.9 723.1,871 723.5,871.1 723.9,871.2 724.3,871.2 724.7,871 725.1,863.8 725.5,848.7 725.9,833.9 726.4,819.3 726.8,804.3 727.2,789 727.6,775.6 728,766.3 728.4,760 728.8,755.6 729.3,752.4 729.7,750 730.1,748.2 730.5,747.1 730.9,746.1 731.3,745.6 731.7,745.4 732.1,745.1 732.6,744.6 733,744.5 733.4,744.4 733.8,744.3 734.2,744.3 734.6,744.2 735,744.2 735.5,744.1 735.9,744.1 736.3,744.2 736.7,744.1 737.1,744.5 737.5,744.5 737.9,744.7 738.3,744.4 738.8,744.2 739.2,744.2 739.6,743.9 740,744.1 740.4,743.9 740.8,743.7 741.2,743.6 741.7,743.6 742.1,743.5 742.5,743.8 742.9,744 743.3,744 743.7,744.2 744.1,744.2 744.6,744 745,743.9 745.4,744.1 745.8,743.9 746.2,743.9 746.6,743.9 747,743.8 747.4,743.6 747.9,743.6 748.3,743.7 748.7,743.8 749.1,743.5 749.5,743.6 749.9,744 750.3,743.8 750.8,743.9 751.2,744 751.6,743.8 752,744 752.4,744 752.8,744.2 753.2,744 753.6,744.3 754.1,744.4 754.5,744.1 754.9,744.1 755.3,744.2 755.7,743.9 756.1,744.1 756.5,744.3 757,744.1 757.4,744.2 757.8,743.9 758.2,743.9 758.6,743.8 759,743.4 759.4,743.6 759.8,743.7 760.3,743.8 760.7,743.8 761.1,743.7 761.5,743.7 761.9,755.6 762.3,767.5 762.7,779.9 763.2,792.2 763.6,804.2 764,815.9 764.4,827.1 764.8,836 765.2,842.8 765.6,848.1 766.1,852.4 766.5,855.8 766.9,858.5 767.3,860.6 767.7,862.4 768.1,863.5 768.5,864.7 768.9,865.3 769.4,865.6 769.8,866.2 770.2,866.8 770.6,867.1 771,867.6 771.4,867.8 771.8,867.8 772.3,868.1 772.7,868.3 773.1,868.6 773.5,868.6 773.9,868.8 774.3,869.1 774.7,869.4 775.1,869.4 775.6,869.4 776,869.5 776.4,869.9 776.8,870.2 777.2,870.4 777.6,870.4 778,870.6 778.5,870.7 778.9,870.7 779.3,871.2 779.7,857.2 780.1,842.4 780.5,827.5 780.9,812.3 781.3,797.3 781.8,782.3 782.2,771 782.6,762.9 783,757.5 783.4,753.5 783.8,750.9 784.2,749 784.7,747.9 785.1,746.9 785.5,746.2 785.9,745.8 786.3,745.5 786.7,745.5 787.1,744.8 787.6,744.3 788,744.5 788.4,744.1 788.8,744.3 789.2,744 789.6,744 790,744 790.4,743.9 790.9,743.8 791.3,744.2 791.7,756.3 792.1,768.6 792.5,780.6 792.9,792.8 793.3,805.1 793.8,817.3 794.2,828.5 794.6,837.3 795,844.5 795.4,849.7 795.8,853.7 796.2,856.6 796.6,858.9 797.1,861.2 797.5,862.4 797.9,863.2 798.3,864.1 798.7,864.8 799.1,865.6 799.5,866.5 800,866.8 800.4,867.5 800.8,867.9 801.2,853.7 801.6,839.9 802,825.7 802.4,810.3 802.8,795.5 803.3,780.5 803.7,769.3 804.1,761.5 804.5,756 804.9,752.3 805.3,750 805.7,748 806.2,746.9 806.6,745.6 807,745.3 807.4,744.9 807.8,744.4 808.2,744.5 808.6,744.3 809.1,744.3 809.5,744.6 809.9,744.7 810.3,744.8 810.7,744.9 811.1,745 811.5,744.8 811.9,744.6 812.4,744.5 812.8,744.6 813.2,744.7 813.6,744.5" fill="none" stroke="#e8231f" stroke-width="1.95" stroke-linejoin="round"/>
<rect x="193.4" y="730.2" width="620.2" height="159.3" fill="none" stroke="#1c1c1c" stroke-width="2.4"/>
<path d="M193.4,730.2h5M193.4,750.1h3M193.4,770h5M193.4,789.9h3M193.4,809.9h5M193.4,829.8h3M193.4,849.7h5M193.4,869.6h3M193.4,889.5h5M193.4,889.5v-5M245.1,889.5v-3M296.8,889.5v-5M348.5,889.5v-3M400.1,889.5v-5M451.8,889.5v-3M503.5,889.5v-5M555.2,889.5v-3M606.9,889.5v-5M658.6,889.5v-3M710.2,889.5v-5M761.9,889.5v-3M813.6,889.5v-5" stroke="#1c1c1c" stroke-width="1.8" fill="none"/>
<text x="187.8" y="736.1" font-family="'Liberation Serif',serif" font-size="18" font-weight="bold" text-anchor="end" fill="#111" stroke="#111" >1.0</text>
<text x="187.8" y="775.9" font-family="'Liberation Serif',serif" font-size="18" font-weight="bold" text-anchor="end" fill="#111" stroke="#111" >0.5</text>
<text x="187.8" y="815.8" font-family="'Liberation Serif',serif" font-size="18" font-weight="bold" text-anchor="end" fill="#111" stroke="#111" >0</text>
<text x="187.8" y="855.6" font-family="'Liberation Serif',serif" font-size="18" font-weight="bold" text-anchor="end" fill="#111" stroke="#111" >-0.5</text>
<text x="187.8" y="895.4" font-family="'Liberation Serif',serif" font-size="18" font-weight="bold" text-anchor="end" fill="#111" stroke="#111" >-1.0</text>
<text x="193.4" y="909.1" font-family="'Liberation Serif',serif" font-size="17.4" font-weight="bold" text-anchor="middle" fill="#111" stroke="#111" >0</text>
<text x="296.8" y="909.1" font-family="'Liberation Serif',serif" font-size="17.4" font-weight="bold" text-anchor="middle" fill="#111" stroke="#111" >50</text>
<text x="400.1" y="909.1" font-family="'Liberation Serif',serif" font-size="17.4" font-weight="bold" text-anchor="middle" fill="#111" stroke="#111" >100</text>
<text x="503.5" y="909.1" font-family="'Liberation Serif',serif" font-size="17.4" font-weight="bold" text-anchor="middle" fill="#111" stroke="#111" >150</text>
<text x="606.9" y="909.1" font-family="'Liberation Serif',serif" font-size="17.4" font-weight="bold" text-anchor="middle" fill="#111" stroke="#111" >200</text>
<text x="710.2" y="909.1" font-family="'Liberation Serif',serif" font-size="17.4" font-weight="bold" text-anchor="middle" fill="#111" stroke="#111" >250</text>
<text x="813.6" y="909.1" font-family="'Liberation Serif',serif" font-size="17.4" font-weight="bold" text-anchor="middle" fill="#111" stroke="#111" >300</text>
<text transform="translate(157.5,621.5) rotate(-90)" font-family="'Liberation Serif',serif" font-size="17.2" font-weight="bold" text-anchor="middle" fill="#111" stroke="#111">Voltage (V)</text>
<text x="503.5" y="925" font-family="'Liberation Serif',serif" font-size="17.3" font-weight="bold" text-anchor="middle" fill="#111" stroke="#111" >Time (ns)</text>
</g>
<g id="pd">
<defs><filter id="eyeblur" x="-2%" y="-10%" width="104%" height="120%"><feGaussianBlur stdDeviation="0.45"/></filter></defs>
<clipPath id="eyec1"><rect x="888.3" y="354.5" width="390" height="71"/></clipPath>
<rect x="888.3" y="354.5" width="390" height="71" fill="#020202"/>
<g clip-path="url(#eyec1)">
<path d="M893.6,354.5V425.5M952.4,354.5V425.5M1011.2,354.5V425.5M1070,354.5V425.5M1128.8,354.5V425.5M1187.6,354.5V425.5M1246.4,354.5V425.5M888.3,363.4H1278.3M888.3,372.2H1278.3M888.3,381.1H1278.3M888.3,390H1278.3M888.3,398.9H1278.3M888.3,407.8H1278.3M888.3,416.6H1278.3" stroke="#242424" stroke-width="0.6" fill="none"/>
<path d="M870.1,389.2v1.6M881.8,389.2v1.6M893.6,389.2v1.6M905.4,389.2v1.6M917.1,389.2v1.6M928.9,389.2v1.6M940.6,389.2v1.6M952.4,389.2v1.6M964.2,389.2v1.6M975.9,389.2v1.6M987.7,389.2v1.6M999.4,389.2v1.6M1011.2,389.2v1.6M1023,389.2v1.6M1034.7,389.2v1.6M1046.5,389.2v1.6M1058.2,389.2v1.6M1070,389.2v1.6M1081.8,389.2v1.6M1093.5,389.2v1.6M1105.3,389.2v1.6M1117,389.2v1.6M1128.8,389.2v1.6M1140.6,389.2v1.6M1152.3,389.2v1.6M1164.1,389.2v1.6M1175.8,389.2v1.6M1187.6,389.2v1.6M1199.4,389.2v1.6M1211.1,389.2v1.6M1222.9,389.2v1.6M1234.6,389.2v1.6M1246.4,389.2v1.6M1258.2,389.2v1.6M1269.9,389.2v1.6" stroke="#444" stroke-width="0.8" fill="none"/>
<g filter="url(#eyeblur)">
<polyline points="883,358.3 887,364.3 891,372.5 895,382 899,390.9 903,399.6 907,403.8 911,406.7 915,409 919,411.2 923,413.4 927,415.4 931,417 935,418.1 939,419.1 943,419.9 947,420.6 951,421.3 955,421.7 959,422.1 963,422.3 967,422.5 971,422.7" fill="none" stroke="#2fd22f" stroke-width="4.4"/>
<polyline points="882.8,356.9 886.8,358.3 890.8,364.3 894.8,372.5 898.8,382 902.8,390.9 906.8,399.6 910.8,403.8 914.8,406.7 918.8,409 922.8,411.2 926.8,413.4 930.8,415.4 934.8,417 938.8,418.1 942.8,419.1 946.8,419.9 950.8,420.6 954.8,421.3 958.8,421.7 962.8,422.1 966.8,422.3 970.8,422.5 974.8,422.7" fill="none" stroke="#2fd22f" stroke-width="4.4"/>
<polyline points="886.7,356.9 890.7,358.3 894.7,364.3 898.7,372.5 902.7,382 906.7,390.9 910.7,399.6 914.7,403.8 918.7,406.7 922.7,409 926.7,411.2 930.7,413.4 934.7,415.4 938.7,417 942.7,418.1 946.7,419.1 950.7,419.9 954.7,420.6 958.7,421.3 962.7,421.7 966.7,422.1 970.7,422.3 974.7,422.5 978.7,422.7" fill="none" stroke="#2fd22f" stroke-width="4.4"/>
<polyline points="890.5,356.9 894.5,358.3 898.5,364.3 902.5,372.5 906.5,382 910.5,390.9 914.5,399.6 918.5,403.8 922.5,406.7 926.5,409 930.5,411.2 934.5,413.4 938.5,415.4 942.5,417 946.5,418.1 950.5,419.1 954.5,419.9 958.5,420.6 962.5,421.3 966.5,421.7 970.5,422.1 974.5,422.3 978.5,422.5 982.5,422.7" fill="none" stroke="#2fd22f" stroke-width="4.4"/>
<polyline points="894.3,356.9 898.3,358.3 902.3,364.3 906.3,372.5 910.3,382 914.3,390.9 918.3,399.6 922.3,403.8 926.3,406.7 930.3,409 934.3,411.2 938.3,413.4 942.3,415.4 946.3,417 950.3,418.1 954.3,419.1 958.3,419.9 962.3,420.6 966.3,421.3 970.3,421.7 974.3,422.1 978.3,422.3 982.3,422.5 986.3,422.7" fill="none" stroke="#2fd22f" stroke-width="4.4"/>
<polyline points="898.2,356.9 902.2,358.3 906.2,364.3 910.2,372.5 914.2,382 918.2,390.9 922.2,399.6 926.2,403.8 930.2,406.7 934.2,409 938.2,411.2 942.2,413.4 946.2,415.4 950.2,417 954.2,418.1 958.2,419.1 962.2,419.9 966.2,420.6 970.2,421.3 974.2,421.7 978.2,422.1 982.2,422.3 986.2,422.5 990.2,422.7" fill="none" stroke="#2fd22f" stroke-width="4.4"/>
<polyline points="902,356.9 906,358.3 910,364.3 914,372.5 918,382 922,390.9 926,399.6 930,403.8 934,406.7 938,409 942,411.2 946,413.4 950,415.4 954,417 958,418.1 962,419.1 966,419.9 970,420.6 974,421.3 978,421.7 982,422.1 986,422.3 990,422.5 994,422.7" fill="none" stroke="#2fd22f" stroke-width="4.4"/>
<polyline points="893.5,423.1 897.5,421.9 901.5,419.2 905.5,412.6 909.5,406.5 913.5,400.8 917.5,395 921.5,389.1 925.5,382.5 929.5,376.5 933.5,371.6 937.5,367.7 941.5,365.7 945.5,364.2 949.5,363 953.5,362 957.5,361.2 961.5,360.5 965.5,359.9 969.5,359.4 973.5,358.9 977.5,358.4 981.5,358.1 985.5,357.8 989.5,357.6 993.5,357.5 997.5,357.3" fill="none" stroke="#2fd22f" stroke-width="4"/>
<polyline points="896.8,423.1 900.8,421.9 904.8,419.2 908.8,412.6 912.8,406.5 916.8,400.8 920.8,395 924.8,389.1 928.8,382.5 932.8,376.5 936.8,371.6 940.8,367.7 944.8,365.7 948.8,364.2 952.8,363 956.8,362 960.8,361.2 964.8,360.5 968.8,359.9 972.8,359.4 976.8,358.9 980.8,358.4 984.8,358.1 988.8,357.8 992.8,357.6 996.8,357.5 1000.8,357.3" fill="none" stroke="#2fd22f" stroke-width="4"/>
<polyline points="900.2,423.1 904.2,421.9 908.2,419.2 912.2,412.6 916.2,406.5 920.2,400.8 924.2,395 928.2,389.1 932.2,382.5 936.2,376.5 940.2,371.6 944.2,367.7 948.2,365.7 952.2,364.2 956.2,363 960.2,362 964.2,361.2 968.2,360.5 972.2,359.9 976.2,359.4 980.2,358.9 984.2,358.4 988.2,358.1 992.2,357.8 996.2,357.6 1000.2,357.5 1004.2,357.3" fill="none" stroke="#2fd22f" stroke-width="4"/>
<polyline points="903.5,423.1 907.5,421.9 911.5,419.2 915.5,412.6 919.5,406.5 923.5,400.8 927.5,395 931.5,389.1 935.5,382.5 939.5,376.5 943.5,371.6 947.5,367.7 951.5,365.7 955.5,364.2 959.5,363 963.5,362 967.5,361.2 971.5,360.5 975.5,359.9 979.5,359.4 983.5,358.9 987.5,358.4 991.5,358.1 995.5,357.8 999.5,357.6 1003.5,357.5 1007.5,357.3" fill="none" stroke="#2fd22f" stroke-width="4"/>
<polyline points="908,423.1 912,421.9 916,419.2 920,412.6 924,406.5 928,400.8 932,395 936,389.1 940,382.5 944,376.5 948,371.6 952,367.7 956,365.7 960,364.2 964,363 968,362 972,361.2 976,360.5 980,359.9 984,359.4 988,358.9 992,358.4 996,358.1 1000,357.8 1004,357.6 1008,357.5 1012,357.3" fill="none" stroke="#2fd22f" stroke-width="1.6"/>
<polyline points="912,423.1 916,421.9 920,419.2 924,412.6 928,406.5 932,400.8 936,395 940,389.1 944,382.5 948,376.5 952,371.6 956,367.7 960,365.7 964,364.2 968,363 972,362 976,361.2 980,360.5 984,359.9 988,359.4 992,358.9 996,358.4 1000,358.1 1004,357.8 1008,357.6 1012,357.5 1016,357.3" fill="none" stroke="#2fd22f" stroke-width="1.6"/>
<polyline points="917,423.1 921,421.9 925,419.2 929,412.6 933,406.5 937,400.8 941,395 945,389.1 949,382.5 953,376.5 957,371.6 961,367.7 965,365.7 969,364.2 973,363 977,362 981,361.2 985,360.5 989,359.9 993,359.4 997,358.9 1001,358.4 1005,358.1 1009,357.8 1013,357.6 1017,357.5 1021,357.3" fill="none" stroke="#2fd22f" stroke-width="4.2"/>
<polyline points="919.6,423.1 923.6,421.9 927.6,419.2 931.6,412.6 935.6,406.5 939.6,400.8 943.6,395 947.6,389.1 951.6,382.5 955.6,376.5 959.6,371.6 963.6,367.7 967.6,365.7 971.6,364.2 975.6,363 979.6,362 983.6,361.2 987.6,360.5 991.6,359.9 995.6,359.4 999.6,358.9 1003.6,358.4 1007.6,358.1 1011.6,357.8 1015.6,357.6 1019.6,357.5 1023.6,357.3" fill="none" stroke="#2fd22f" stroke-width="4.2"/>
<polyline points="922.2,423.1 926.2,421.9 930.2,419.2 934.2,412.6 938.2,406.5 942.2,400.8 946.2,395 950.2,389.1 954.2,382.5 958.2,376.5 962.2,371.6 966.2,367.7 970.2,365.7 974.2,364.2 978.2,363 982.2,362 986.2,361.2 990.2,360.5 994.2,359.9 998.2,359.4 1002.2,358.9 1006.2,358.4 1010.2,358.1 1014.2,357.8 1018.2,357.6 1022.2,357.5 1026.2,357.3" fill="none" stroke="#2fd22f" stroke-width="4.2"/>
<polyline points="924.9,423.1 928.9,421.9 932.9,419.2 936.9,412.6 940.9,406.5 944.9,400.8 948.9,395 952.9,389.1 956.9,382.5 960.9,376.5 964.9,371.6 968.9,367.7 972.9,365.7 976.9,364.2 980.9,363 984.9,362 988.9,361.2 992.9,360.5 996.9,359.9 1000.9,359.4 1004.9,358.9 1008.9,358.4 1012.9,358.1 1016.9,357.8 1020.9,357.6 1024.9,357.5 1028.9,357.3" fill="none" stroke="#2fd22f" stroke-width="4.2"/>
<polyline points="927.5,423.1 931.5,421.9 935.5,419.2 939.5,412.6 943.5,406.5 947.5,400.8 951.5,395 955.5,389.1 959.5,382.5 963.5,376.5 967.5,371.6 971.5,367.7 975.5,365.7 979.5,364.2 983.5,363 987.5,362 991.5,361.2 995.5,360.5 999.5,359.9 1003.5,359.4 1007.5,358.9 1011.5,358.4 1015.5,358.1 1019.5,357.8 1023.5,357.6 1027.5,357.5 1031.5,357.3" fill="none" stroke="#2fd22f" stroke-width="4.2"/>
<polyline points="1173,356.9 1177,358.3 1181,364.3 1185,372.5 1189,382 1193,390.9 1197,399.6 1201,403.8 1205,406.7 1209,409 1213,411.2 1217,413.4 1221,415.4 1225,417 1229,418.1 1233,419.1 1237,419.9 1241,420.6 1245,421.3 1249,421.7 1253,422.1 1257,422.3 1261,422.5 1265,422.7" fill="none" stroke="#2fd22f" stroke-width="4.4"/>
<polyline points="1176.8,356.9 1180.8,358.3 1184.8,364.3 1188.8,372.5 1192.8,382 1196.8,390.9 1200.8,399.6 1204.8,403.8 1208.8,406.7 1212.8,409 1216.8,411.2 1220.8,413.4 1224.8,415.4 1228.8,417 1232.8,418.1 1236.8,419.1 1240.8,419.9 1244.8,420.6 1248.8,421.3 1252.8,421.7 1256.8,422.1 1260.8,422.3 1264.8,422.5 1268.8,422.7" fill="none" stroke="#2fd22f" stroke-width="4.4"/>
<polyline points="1180.7,356.9 1184.7,358.3 1188.7,364.3 1192.7,372.5 1196.7,382 1200.7,390.9 1204.7,399.6 1208.7,403.8 1212.7,406.7 1216.7,409 1220.7,411.2 1224.7,413.4 1228.7,415.4 1232.7,417 1236.7,418.1 1240.7,419.1 1244.7,419.9 1248.7,420.6 1252.7,421.3 1256.7,421.7 1260.7,422.1 1264.7,422.3 1268.7,422.5 1272.7,422.7" fill="none" stroke="#2fd22f" stroke-width="4.4"/>
<polyline points="1184.5,356.9 1188.5,358.3 1192.5,364.3 1196.5,372.5 1200.5,382 1204.5,390.9 1208.5,399.6 1212.5,403.8 1216.5,406.7 1220.5,409 1224.5,411.2 1228.5,413.4 1232.5,415.4 1236.5,417 1240.5,418.1 1244.5,419.1 1248.5,419.9 1252.5,420.6 1256.5,421.3 1260.5,421.7 1264.5,422.1 1268.5,422.3 1272.5,422.5 1276.5,422.7" fill="none" stroke="#2fd22f" stroke-width="4.4"/>
<polyline points="1188.3,356.9 1192.3,358.3 1196.3,364.3 1200.3,372.5 1204.3,382 1208.3,390.9 1212.3,399.6 1216.3,403.8 1220.3,406.7 1224.3,409 1228.3,411.2 1232.3,413.4 1236.3,415.4 1240.3,417 1244.3,418.1 1248.3,419.1 1252.3,419.9 1256.3,420.6 1260.3,421.3 1264.3,421.7 1268.3,422.1 1272.3,422.3 1276.3,422.5 1280.3,422.7" fill="none" stroke="#2fd22f" stroke-width="4.4"/>
<polyline points="1192.2,356.9 1196.2,358.3 1200.2,364.3 1204.2,372.5 1208.2,382 1212.2,390.9 1216.2,399.6 1220.2,403.8 1224.2,406.7 1228.2,409 1232.2,411.2 1236.2,413.4 1240.2,415.4 1244.2,417 1248.2,418.1 1252.2,419.1 1256.2,419.9 1260.2,420.6 1264.2,421.3 1268.2,421.7 1272.2,422.1 1276.2,422.3 1280.2,422.5 1284.2,422.7" fill="none" stroke="#2fd22f" stroke-width="4.4"/>
<polyline points="1196,356.9 1200,358.3 1204,364.3 1208,372.5 1212,382 1216,390.9 1220,399.6 1224,403.8 1228,406.7 1232,409 1236,411.2 1240,413.4 1244,415.4 1248,417 1252,418.1 1256,419.1 1260,419.9 1264,420.6 1268,421.3 1272,421.7 1276,422.1 1280,422.3 1284,422.5" fill="none" stroke="#2fd22f" stroke-width="4.4"/>
<polyline points="1187.5,423.1 1191.5,421.9 1195.5,419.2 1199.5,412.6 1203.5,406.5 1207.5,400.8 1211.5,395 1215.5,389.1 1219.5,382.5 1223.5,376.5 1227.5,371.6 1231.5,367.7 1235.5,365.7 1239.5,364.2 1243.5,363 1247.5,362 1251.5,361.2 1255.5,360.5 1259.5,359.9 1263.5,359.4 1267.5,358.9 1271.5,358.4 1275.5,358.1 1279.5,357.8 1283.5,357.6" fill="none" stroke="#2fd22f" stroke-width="4"/>
<polyline points="1190.8,423.1 1194.8,421.9 1198.8,419.2 1202.8,412.6 1206.8,406.5 1210.8,400.8 1214.8,395 1218.8,389.1 1222.8,382.5 1226.8,376.5 1230.8,371.6 1234.8,367.7 1238.8,365.7 1242.8,364.2 1246.8,363 1250.8,362 1254.8,361.2 1258.8,360.5 1262.8,359.9 1266.8,359.4 1270.8,358.9 1274.8,358.4 1278.8,358.1 1282.8,357.8" fill="none" stroke="#2fd22f" stroke-width="4"/>
<polyline points="1194.2,423.1 1198.2,421.9 1202.2,419.2 1206.2,412.6 1210.2,406.5 1214.2,400.8 1218.2,395 1222.2,389.1 1226.2,382.5 1230.2,376.5 1234.2,371.6 1238.2,367.7 1242.2,365.7 1246.2,364.2 1250.2,363 1254.2,362 1258.2,361.2 1262.2,360.5 1266.2,359.9 1270.2,359.4 1274.2,358.9 1278.2,358.4 1282.2,358.1" fill="none" stroke="#2fd22f" stroke-width="4"/>
<polyline points="1197.5,423.1 1201.5,421.9 1205.5,419.2 1209.5,412.6 1213.5,406.5 1217.5,400.8 1221.5,395 1225.5,389.1 1229.5,382.5 1233.5,376.5 1237.5,371.6 1241.5,367.7 1245.5,365.7 1249.5,364.2 1253.5,363 1257.5,362 1261.5,361.2 1265.5,360.5 1269.5,359.9 1273.5,359.4 1277.5,358.9 1281.5,358.4" fill="none" stroke="#2fd22f" stroke-width="4"/>
<polyline points="1202,423.1 1206,421.9 1210,419.2 1214,412.6 1218,406.5 1222,400.8 1226,395 1230,389.1 1234,382.5 1238,376.5 1242,371.6 1246,367.7 1250,365.7 1254,364.2 1258,363 1262,362 1266,361.2 1270,360.5 1274,359.9 1278,359.4 1282,358.9" fill="none" stroke="#2fd22f" stroke-width="1.6"/>
<polyline points="1206,423.1 1210,421.9 1214,419.2 1218,412.6 1222,406.5 1226,400.8 1230,395 1234,389.1 1238,382.5 1242,376.5 1246,371.6 1250,367.7 1254,365.7 1258,364.2 1262,363 1266,362 1270,361.2 1274,360.5 1278,359.9 1282,359.4" fill="none" stroke="#2fd22f" stroke-width="1.6"/>
<polyline points="1211,423.1 1215,421.9 1219,419.2 1223,412.6 1227,406.5 1231,400.8 1235,395 1239,389.1 1243,382.5 1247,376.5 1251,371.6 1255,367.7 1259,365.7 1263,364.2 1267,363 1271,362 1275,361.2 1279,360.5 1283,359.9" fill="none" stroke="#2fd22f" stroke-width="4.2"/>
<polyline points="1213.6,423.1 1217.6,421.9 1221.6,419.2 1225.6,412.6 1229.6,406.5 1233.6,400.8 1237.6,395 1241.6,389.1 1245.6,382.5 1249.6,376.5 1253.6,371.6 1257.6,367.7 1261.6,365.7 1265.6,364.2 1269.6,363 1273.6,362 1277.6,361.2 1281.6,360.5" fill="none" stroke="#2fd22f" stroke-width="4.2"/>
<polyline points="1216.2,423.1 1220.2,421.9 1224.2,419.2 1228.2,412.6 1232.2,406.5 1236.2,400.8 1240.2,395 1244.2,389.1 1248.2,382.5 1252.2,376.5 1256.2,371.6 1260.2,367.7 1264.2,365.7 1268.2,364.2 1272.2,363 1276.2,362 1280.2,361.2 1284.2,360.5" fill="none" stroke="#2fd22f" stroke-width="4.2"/>
<polyline points="1218.9,423.1 1222.9,421.9 1226.9,419.2 1230.9,412.6 1234.9,406.5 1238.9,400.8 1242.9,395 1246.9,389.1 1250.9,382.5 1254.9,376.5 1258.9,371.6 1262.9,367.7 1266.9,365.7 1270.9,364.2 1274.9,363 1278.9,362 1282.9,361.2" fill="none" stroke="#2fd22f" stroke-width="4.2"/>
<polyline points="1221.5,423.1 1225.5,421.9 1229.5,419.2 1233.5,412.6 1237.5,406.5 1241.5,400.8 1245.5,395 1249.5,389.1 1253.5,382.5 1257.5,376.5 1261.5,371.6 1265.5,367.7 1269.5,365.7 1273.5,364.2 1277.5,363 1281.5,362" fill="none" stroke="#2fd22f" stroke-width="4.2"/>
<polyline points="886,358.3 890,364.3 894,372.5 898,382 902,390.9 906,399.6 910,403.8 914,406.7 918,409 922,411.2 926,413.4 930,415.4 934,417 938,418.1 942,419.1 946,419.9 950,420.6 954,421.3 958,421.7 962,422.1 966,422.3 970,422.5 974,422.7" fill="none" stroke="#2b3af2" stroke-width="2.6"/>
<polyline points="890,356.9 894,358.3 898,364.3 902,372.5 906,382 910,390.9 914,399.6 918,403.8 922,406.7 926,409 930,411.2 934,413.4 938,415.4 942,417 946,418.1 950,419.1 954,419.9 958,420.6 962,421.3 966,421.7 970,422.1 974,422.3 978,422.5 982,422.7" fill="none" stroke="#2b3af2" stroke-width="1.3"/>
<polyline points="895,356.9 899,358.3 903,364.3 907,372.5 911,382 915,390.9 919,399.6 923,403.8 927,406.7 931,409 935,411.2 939,413.4 943,415.4 947,417 951,418.1 955,419.1 959,419.9 963,420.6 967,421.3 971,421.7 975,422.1 979,422.3 983,422.5 987,422.7" fill="none" stroke="#2b3af2" stroke-width="2"/>
<polyline points="899,356.9 903,358.3 907,364.3 911,372.5 915,382 919,390.9 923,399.6 927,403.8 931,406.7 935,409 939,411.2 943,413.4 947,415.4 951,417 955,418.1 959,419.1 963,419.9 967,420.6 971,421.3 975,421.7 979,422.1 983,422.3 987,422.5 991,422.7" fill="none" stroke="#2b3af2" stroke-width="2"/>
<polyline points="895,423.1 899,421.9 903,419.2 907,412.6 911,406.5 915,400.8 919,395 923,389.1 927,382.5 931,376.5 935,371.6 939,367.7 943,365.7 947,364.2 951,363 955,362 959,361.2 963,360.5 967,359.9 971,359.4 975,358.9 979,358.4 983,358.1 987,357.8 991,357.6 995,357.5 999,357.3" fill="none" stroke="#2b3af2" stroke-width="2.4"/>
<polyline points="897.2,423.1 901.2,421.9 905.2,419.2 909.2,412.6 913.2,406.5 917.2,400.8 921.2,395 925.2,389.1 929.2,382.5 933.2,376.5 937.2,371.6 941.2,367.7 945.2,365.7 949.2,364.2 953.2,363 957.2,362 961.2,361.2 965.2,360.5 969.2,359.9 973.2,359.4 977.2,358.9 981.2,358.4 985.2,358.1 989.2,357.8 993.2,357.6 997.2,357.5 1001.2,357.3" fill="none" stroke="#2b3af2" stroke-width="2.4"/>
<polyline points="899.5,423.1 903.5,421.9 907.5,419.2 911.5,412.6 915.5,406.5 919.5,400.8 923.5,395 927.5,389.1 931.5,382.5 935.5,376.5 939.5,371.6 943.5,367.7 947.5,365.7 951.5,364.2 955.5,363 959.5,362 963.5,361.2 967.5,360.5 971.5,359.9 975.5,359.4 979.5,358.9 983.5,358.4 987.5,358.1 991.5,357.8 995.5,357.6 999.5,357.5 1003.5,357.3" fill="none" stroke="#2b3af2" stroke-width="2.4"/>
<polyline points="922,423.1 926,421.9 930,419.2 934,412.6 938,406.5 942,400.8 946,395 950,389.1 954,382.5 958,376.5 962,371.6 966,367.7 970,365.7 974,364.2 978,363 982,362 986,361.2 990,360.5 994,359.9 998,359.4 1002,358.9 1006,358.4 1010,358.1 1014,357.8 1018,357.6 1022,357.5 1026,357.3" fill="none" stroke="#2a8a60" stroke-width="0.8"/>
<polyline points="1176,356.9 1180,358.3 1184,364.3 1188,372.5 1192,382 1196,390.9 1200,399.6 1204,403.8 1208,406.7 1212,409 1216,411.2 1220,413.4 1224,415.4 1228,417 1232,418.1 1236,419.1 1240,419.9 1244,420.6 1248,421.3 1252,421.7 1256,422.1 1260,422.3 1264,422.5 1268,422.7" fill="none" stroke="#2b3af2" stroke-width="2.6"/>
<polyline points="1184,356.9 1188,358.3 1192,364.3 1196,372.5 1200,382 1204,390.9 1208,399.6 1212,403.8 1216,406.7 1220,409 1224,411.2 1228,413.4 1232,415.4 1236,417 1240,418.1 1244,419.1 1248,419.9 1252,420.6 1256,421.3 1260,421.7 1264,422.1 1268,422.3 1272,422.5 1276,422.7" fill="none" stroke="#2b3af2" stroke-width="1.3"/>
<polyline points="1189,356.9 1193,358.3 1197,364.3 1201,372.5 1205,382 1209,390.9 1213,399.6 1217,403.8 1221,406.7 1225,409 1229,411.2 1233,413.4 1237,415.4 1241,417 1245,418.1 1249,419.1 1253,419.9 1257,420.6 1261,421.3 1265,421.7 1269,422.1 1273,422.3 1277,422.5 1281,422.7" fill="none" stroke="#2b3af2" stroke-width="2"/>
<polyline points="1193,356.9 1197,358.3 1201,364.3 1205,372.5 1209,382 1213,390.9 1217,399.6 1221,403.8 1225,406.7 1229,409 1233,411.2 1237,413.4 1241,415.4 1245,417 1249,418.1 1253,419.1 1257,419.9 1261,420.6 1265,421.3 1269,421.7 1273,422.1 1277,422.3 1281,422.5" fill="none" stroke="#2b3af2" stroke-width="2"/>
<polyline points="1189,423.1 1193,421.9 1197,419.2 1201,412.6 1205,406.5 1209,400.8 1213,395 1217,389.1 1221,382.5 1225,376.5 1229,371.6 1233,367.7 1237,365.7 1241,364.2 1245,363 1249,362 1253,361.2 1257,360.5 1261,359.9 1265,359.4 1269,358.9 1273,358.4 1277,358.1 1281,357.8" fill="none" stroke="#2b3af2" stroke-width="2.4"/>
<polyline points="1191.2,423.1 1195.2,421.9 1199.2,419.2 1203.2,412.6 1207.2,406.5 1211.2,400.8 1215.2,395 1219.2,389.1 1223.2,382.5 1227.2,376.5 1231.2,371.6 1235.2,367.7 1239.2,365.7 1243.2,364.2 1247.2,363 1251.2,362 1255.2,361.2 1259.2,360.5 1263.2,359.9 1267.2,359.4 1271.2,358.9 1275.2,358.4 1279.2,358.1 1283.2,357.8" fill="none" stroke="#2b3af2" stroke-width="2.4"/>
<polyline points="1193.5,423.1 1197.5,421.9 1201.5,419.2 1205.5,412.6 1209.5,406.5 1213.5,400.8 1217.5,395 1221.5,389.1 1225.5,382.5 1229.5,376.5 1233.5,371.6 1237.5,367.7 1241.5,365.7 1245.5,364.2 1249.5,363 1253.5,362 1257.5,361.2 1261.5,360.5 1265.5,359.9 1269.5,359.4 1273.5,358.9 1277.5,358.4 1281.5,358.1" fill="none" stroke="#2b3af2" stroke-width="2.4"/>
<polyline points="1216,423.1 1220,421.9 1224,419.2 1228,412.6 1232,406.5 1236,400.8 1240,395 1244,389.1 1248,382.5 1252,376.5 1256,371.6 1260,367.7 1264,365.7 1268,364.2 1272,363 1276,362 1280,361.2 1284,360.5" fill="none" stroke="#2a8a60" stroke-width="0.8"/>
<polyline points="886.5,356.9 890.5,358.3 894.5,364.3 898.5,372.5 902.5,382 906.5,390.9 910.5,399.6 914.5,403.8 918.5,406.7 922.5,409 926.5,411.2 930.5,413.4 934.5,415.4 938.5,417 942.5,418.1 946.5,419.1 950.5,419.9 954.5,420.6 958.5,421.3 962.5,421.7 966.5,422.1 970.5,422.3 974.5,422.5 978.5,422.7" fill="none" stroke="#f032e0" stroke-width="0.9" stroke-opacity="0.8"/>
<polyline points="897,356.9 901,358.3 905,364.3 909,372.5 913,382 917,390.9 921,399.6 925,403.8 929,406.7 933,409 937,411.2 941,413.4 945,415.4 949,417 953,418.1 957,419.1 961,419.9 965,420.6 969,421.3 973,421.7 977,422.1 981,422.3 985,422.5 989,422.7" fill="none" stroke="#f032e0" stroke-width="0.9" stroke-opacity="0.8"/>
<polyline points="895.5,423.1 899.5,421.9 903.5,419.2 907.5,412.6 911.5,406.5 915.5,400.8 919.5,395 923.5,389.1 927.5,382.5 931.5,376.5 935.5,371.6 939.5,367.7 943.5,365.7 947.5,364.2 951.5,363 955.5,362 959.5,361.2 963.5,360.5 967.5,359.9 971.5,359.4 975.5,358.9 979.5,358.4 983.5,358.1 987.5,357.8 991.5,357.6 995.5,357.5 999.5,357.3" fill="none" stroke="#f032e0" stroke-width="1.3"/>
<polyline points="897,423.1 901,421.9 905,419.2 909,412.6 913,406.5 917,400.8 921,395 925,389.1 929,382.5 933,376.5 937,371.6 941,367.7 945,365.7 949,364.2 953,363 957,362 961,361.2 965,360.5 969,359.9 973,359.4 977,358.9 981,358.4 985,358.1 989,357.8 993,357.6 997,357.5 1001,357.3" fill="none" stroke="#f032e0" stroke-width="1.3"/>
<polyline points="1180.5,356.9 1184.5,358.3 1188.5,364.3 1192.5,372.5 1196.5,382 1200.5,390.9 1204.5,399.6 1208.5,403.8 1212.5,406.7 1216.5,409 1220.5,411.2 1224.5,413.4 1228.5,415.4 1232.5,417 1236.5,418.1 1240.5,419.1 1244.5,419.9 1248.5,420.6 1252.5,421.3 1256.5,421.7 1260.5,422.1 1264.5,422.3 1268.5,422.5 1272.5,422.7" fill="none" stroke="#f032e0" stroke-width="0.9" stroke-opacity="0.8"/>
<polyline points="1191,356.9 1195,358.3 1199,364.3 1203,372.5 1207,382 1211,390.9 1215,399.6 1219,403.8 1223,406.7 1227,409 1231,411.2 1235,413.4 1239,415.4 1243,417 1247,418.1 1251,419.1 1255,419.9 1259,420.6 1263,421.3 1267,421.7 1271,422.1 1275,422.3 1279,422.5 1283,422.7" fill="none" stroke="#f032e0" stroke-width="0.9" stroke-opacity="0.8"/>
<polyline points="1189.5,423.1 1193.5,421.9 1197.5,419.2 1201.5,412.6 1205.5,406.5 1209.5,400.8 1213.5,395 1217.5,389.1 1221.5,382.5 1225.5,376.5 1229.5,371.6 1233.5,367.7 1237.5,365.7 1241.5,364.2 1245.5,363 1249.5,362 1253.5,361.2 1257.5,360.5 1261.5,359.9 1265.5,359.4 1269.5,358.9 1273.5,358.4 1277.5,358.1 1281.5,357.8" fill="none" stroke="#f032e0" stroke-width="1.3"/>
<polyline points="1191,423.1 1195,421.9 1199,419.2 1203,412.6 1207,406.5 1211,400.8 1215,395 1219,389.1 1223,382.5 1227,376.5 1231,371.6 1235,367.7 1239,365.7 1243,364.2 1247,363 1251,362 1255,361.2 1259,360.5 1263,359.9 1267,359.4 1271,358.9 1275,358.4 1279,358.1 1283,357.8" fill="none" stroke="#f032e0" stroke-width="1.3"/>
</g>
<defs><linearGradient id="railt1" x1="0" x2="1"><stop offset="0" stop-color="#5aa83a"/><stop offset="0.35" stop-color="#e8a040"/><stop offset="0.7" stop-color="#e88a30"/><stop offset="1" stop-color="#6ab040"/></linearGradient><linearGradient id="railb1" x1="0" x2="1"><stop offset="0" stop-color="#c8c030"/><stop offset="0.4" stop-color="#e8b830"/><stop offset="0.75" stop-color="#b8c828"/><stop offset="1" stop-color="#e89030"/></linearGradient></defs>
<rect x="948.3" y="356" width="251.7" height="1.8" fill="url(#railt1)"/>
<rect x="888.3" y="422.3" width="390" height="2.2" fill="url(#railb1)"/>
</g>
<rect x="888.3" y="354.5" width="390" height="71" fill="none" stroke="#444" stroke-width="1"/>
<text x="1274.6" y="374.8" font-family="'Liberation Serif',serif" font-size="19.8" font-weight="bold" text-anchor="end" fill="#ffffff" stroke="#ffffff" >100Mbps</text>
<clipPath id="eyec2"><rect x="888.3" y="431.6" width="390" height="71.1"/></clipPath>
<rect x="888.3" y="431.6" width="390" height="71.1" fill="#020202"/>
<g clip-path="url(#eyec2)">
<path d="M893.6,431.6V502.7M952.4,431.6V502.7M1011.2,431.6V502.7M1070,431.6V502.7M1128.8,431.6V502.7M1187.6,431.6V502.7M1246.4,431.6V502.7M888.3,440.5H1278.3M888.3,449.4H1278.3M888.3,458.3H1278.3M888.3,467.1H1278.3M888.3,476H1278.3M888.3,484.9H1278.3M888.3,493.8H1278.3" stroke="#242424" stroke-width="0.6" fill="none"/>
<path d="M870.1,466.3v1.6M881.8,466.3v1.6M893.6,466.3v1.6M905.4,466.3v1.6M917.1,466.3v1.6M928.9,466.3v1.6M940.6,466.3v1.6M952.4,466.3v1.6M964.2,466.3v1.6M975.9,466.3v1.6M987.7,466.3v1.6M999.4,466.3v1.6M1011.2,466.3v1.6M1023,466.3v1.6M1034.7,466.3v1.6M1046.5,466.3v1.6M1058.2,466.3v1.6M1070,466.3v1.6M1081.8,466.3v1.6M1093.5,466.3v1.6M1105.3,466.3v1.6M1117,466.3v1.6M1128.8,466.3v1.6M1140.6,466.3v1.6M1152.3,466.3v1.6M1164.1,466.3v1.6M1175.8,466.3v1.6M1187.6,466.3v1.6M1199.4,466.3v1.6M1211.1,466.3v1.6M1222.9,466.3v1.6M1234.6,466.3v1.6M1246.4,466.3v1.6M1258.2,466.3v1.6M1269.9,466.3v1.6" stroke="#444" stroke-width="0.8" fill="none"/>
<g filter="url(#eyeblur)">
<polyline points="882.5,455.9 886.5,458.9 890.5,461.8 894.5,464.6 898.5,467.4 902.5,470.2 906.5,473.1 910.5,476 914.5,478.8 918.5,481.4 922.5,483.9 926.5,486.3 930.5,488.5 934.5,490.4 938.5,491.8 942.5,493 946.5,494.1 950.5,495.1 954.5,495.8 958.5,496.5 962.5,497 966.5,497.5 970.5,498 974.5,498.4 978.5,498.7 982.5,499 986.5,499.3 990.5,499.4 994.5,499.6 998.5,499.7 1002.5,499.8" fill="none" stroke="#2fd22f" stroke-width="5"/>
<polyline points="882.8,452.6 886.8,455.9 890.8,458.9 894.8,461.8 898.8,464.6 902.8,467.4 906.8,470.2 910.8,473.1 914.8,476 918.8,478.8 922.8,481.4 926.8,483.9 930.8,486.3 934.8,488.5 938.8,490.4 942.8,491.8 946.8,493 950.8,494.1 954.8,495.1 958.8,495.8 962.8,496.5 966.8,497 970.8,497.5 974.8,498 978.8,498.4 982.8,498.7 986.8,499 990.8,499.3 994.8,499.4 998.8,499.6 1002.8,499.7 1006.8,499.8" fill="none" stroke="#2fd22f" stroke-width="5"/>
<polyline points="883.1,448.8 887.1,452.6 891.1,455.9 895.1,458.9 899.1,461.8 903.1,464.6 907.1,467.4 911.1,470.2 915.1,473.1 919.1,476 923.1,478.8 927.1,481.4 931.1,483.9 935.1,486.3 939.1,488.5 943.1,490.4 947.1,491.8 951.1,493 955.1,494.1 959.1,495.1 963.1,495.8 967.1,496.5 971.1,497 975.1,497.5 979.1,498 983.1,498.4 987.1,498.7 991.1,499 995.1,499.3 999.1,499.4 1003.1,499.6 1007.1,499.7 1011.1,499.8" fill="none" stroke="#2fd22f" stroke-width="5"/>
<polyline points="883.5,443.7 887.5,448.8 891.5,452.6 895.5,455.9 899.5,458.9 903.5,461.8 907.5,464.6 911.5,467.4 915.5,470.2 919.5,473.1 923.5,476 927.5,478.8 931.5,481.4 935.5,483.9 939.5,486.3 943.5,488.5 947.5,490.4 951.5,491.8 955.5,493 959.5,494.1 963.5,495.1 967.5,495.8 971.5,496.5 975.5,497 979.5,497.5 983.5,498 987.5,498.4 991.5,498.7 995.5,499 999.5,499.3 1003.5,499.4 1007.5,499.6 1011.5,499.7 1015.5,499.8" fill="none" stroke="#2fd22f" stroke-width="5"/>
<polyline points="883.8,438.6 887.8,443.7 891.8,448.8 895.8,452.6 899.8,455.9 903.8,458.9 907.8,461.8 911.8,464.6 915.8,467.4 919.8,470.2 923.8,473.1 927.8,476 931.8,478.8 935.8,481.4 939.8,483.9 943.8,486.3 947.8,488.5 951.8,490.4 955.8,491.8 959.8,493 963.8,494.1 967.8,495.1 971.8,495.8 975.8,496.5 979.8,497 983.8,497.5 987.8,498 991.8,498.4 995.8,498.7 999.8,499 1003.8,499.3 1007.8,499.4 1011.8,499.6 1015.8,499.7 1019.8,499.8" fill="none" stroke="#2fd22f" stroke-width="5"/>
<polyline points="884.1,435.7 888.1,438.6 892.1,443.7 896.1,448.8 900.1,452.6 904.1,455.9 908.1,458.9 912.1,461.8 916.1,464.6 920.1,467.4 924.1,470.2 928.1,473.1 932.1,476 936.1,478.8 940.1,481.4 944.1,483.9 948.1,486.3 952.1,488.5 956.1,490.4 960.1,491.8 964.1,493 968.1,494.1 972.1,495.1 976.1,495.8 980.1,496.5 984.1,497 988.1,497.5 992.1,498 996.1,498.4 1000.1,498.7 1004.1,499 1008.1,499.3 1012.1,499.4 1016.1,499.6 1020.1,499.7 1024.1,499.8" fill="none" stroke="#2fd22f" stroke-width="5"/>
<polyline points="884.4,434.7 888.4,435.7 892.4,438.6 896.4,443.7 900.4,448.8 904.4,452.6 908.4,455.9 912.4,458.9 916.4,461.8 920.4,464.6 924.4,467.4 928.4,470.2 932.4,473.1 936.4,476 940.4,478.8 944.4,481.4 948.4,483.9 952.4,486.3 956.4,488.5 960.4,490.4 964.4,491.8 968.4,493 972.4,494.1 976.4,495.1 980.4,495.8 984.4,496.5 988.4,497 992.4,497.5 996.4,498 1000.4,498.4 1004.4,498.7 1008.4,499 1012.4,499.3 1016.4,499.4 1020.4,499.6 1024.4,499.7 1028.4,499.8" fill="none" stroke="#2fd22f" stroke-width="5"/>
<polyline points="884.7,434 888.7,434.7 892.7,435.7 896.7,438.6 900.7,443.7 904.7,448.8 908.7,452.6 912.7,455.9 916.7,458.9 920.7,461.8 924.7,464.6 928.7,467.4 932.7,470.2 936.7,473.1 940.7,476 944.7,478.8 948.7,481.4 952.7,483.9 956.7,486.3 960.7,488.5 964.7,490.4 968.7,491.8 972.7,493 976.7,494.1 980.7,495.1 984.7,495.8 988.7,496.5 992.7,497 996.7,497.5 1000.7,498 1004.7,498.4 1008.7,498.7 1012.7,499 1016.7,499.3 1020.7,499.4 1024.7,499.6 1028.7,499.7 1032.7,499.8" fill="none" stroke="#2fd22f" stroke-width="5"/>
<polyline points="889,434 893,434.7 897,435.7 901,438.6 905,443.7 909,448.8 913,452.6 917,455.9 921,458.9 925,461.8 929,464.6 933,467.4 937,470.2 941,473.1 945,476 949,478.8 953,481.4 957,483.9 961,486.3 965,488.5 969,490.4 973,491.8 977,493 981,494.1 985,495.1 989,495.8 993,496.5 997,497 1001,497.5 1005,498 1009,498.4 1013,498.7 1017,499 1021,499.3 1025,499.4 1029,499.6 1033,499.7 1037,499.8" fill="none" stroke="#2fd22f" stroke-width="5"/>
<polyline points="893.4,434 897.4,434.7 901.4,435.7 905.4,438.6 909.4,443.7 913.4,448.8 917.4,452.6 921.4,455.9 925.4,458.9 929.4,461.8 933.4,464.6 937.4,467.4 941.4,470.2 945.4,473.1 949.4,476 953.4,478.8 957.4,481.4 961.4,483.9 965.4,486.3 969.4,488.5 973.4,490.4 977.4,491.8 981.4,493 985.4,494.1 989.4,495.1 993.4,495.8 997.4,496.5 1001.4,497 1005.4,497.5 1009.4,498 1013.4,498.4 1017.4,498.7 1021.4,499 1025.4,499.3 1029.4,499.4 1033.4,499.6 1037.4,499.7 1041.4,499.8" fill="none" stroke="#2fd22f" stroke-width="5"/>
<polyline points="897.7,434 901.7,434.7 905.7,435.7 909.7,438.6 913.7,443.7 917.7,448.8 921.7,452.6 925.7,455.9 929.7,458.9 933.7,461.8 937.7,464.6 941.7,467.4 945.7,470.2 949.7,473.1 953.7,476 957.7,478.8 961.7,481.4 965.7,483.9 969.7,486.3 973.7,488.5 977.7,490.4 981.7,491.8 985.7,493 989.7,494.1 993.7,495.1 997.7,495.8 1001.7,496.5 1005.7,497 1009.7,497.5 1013.7,498 1017.7,498.4 1021.7,498.7 1025.7,499 1029.7,499.3 1033.7,499.4 1037.7,499.6 1041.7,499.7 1045.7,499.8" fill="none" stroke="#2fd22f" stroke-width="5"/>
<polyline points="902,434 906,434.7 910,435.7 914,438.6 918,443.7 922,448.8 926,452.6 930,455.9 934,458.9 938,461.8 942,464.6 946,467.4 950,470.2 954,473.1 958,476 962,478.8 966,481.4 970,483.9 974,486.3 978,488.5 982,490.4 986,491.8 990,493 994,494.1 998,495.1 1002,495.8 1006,496.5 1010,497 1014,497.5 1018,498 1022,498.4 1026,498.7 1030,499 1034,499.3 1038,499.4 1042,499.6 1046,499.7 1050,499.8" fill="none" stroke="#2fd22f" stroke-width="5"/>
<polyline points="884,434.7 888,435.7 892,438.6 896,443.7 900,448.8 904,452.6 908,455.9 912,458.9 916,461.8 920,464.6 924,467.4 928,470.2 932,473.1 936,476 940,478.8 944,481.4 948,483.9 952,486.3 956,488.5 960,490.4 964,491.8 968,493 972,494.1 976,495.1 980,495.8 984,496.5 988,497 992,497.5 996,498 1000,498.4 1004,498.7 1008,499 1012,499.3 1016,499.4 1020,499.6 1024,499.7 1028,499.8" fill="none" stroke="#020202" stroke-width="2.2"/>
<polyline points="882.5,499.7 886.5,499 890.5,497.2 894.5,494 898.5,489.8 902.5,485.1 906.5,480.1 910.5,475.3 914.5,471.1 918.5,467.6 922.5,464.3 926.5,461.1 930.5,458 934.5,455.2 938.5,452.3 942.5,449.5 946.5,447.1 950.5,445.3 954.5,443.9 958.5,442.8 962.5,441.8 966.5,441 970.5,440.3 974.5,439.7 978.5,439.1 982.5,438.5 986.5,438 990.5,437.6 994.5,437.2 998.5,436.8 1002.5,436.5 1006.5,436.1 1010.5,435.8 1014.5,435.5 1018.5,435.3 1022.5,435.1 1026.5,434.9 1030.5,434.7 1034.5,434.6 1038.5,434.5" fill="none" stroke="#2fd22f" stroke-width="5"/>
<polyline points="882.7,500.3 886.7,499.7 890.7,499 894.7,497.2 898.7,494 902.7,489.8 906.7,485.1 910.7,480.1 914.7,475.3 918.7,471.1 922.7,467.6 926.7,464.3 930.7,461.1 934.7,458 938.7,455.2 942.7,452.3 946.7,449.5 950.7,447.1 954.7,445.3 958.7,443.9 962.7,442.8 966.7,441.8 970.7,441 974.7,440.3 978.7,439.7 982.7,439.1 986.7,438.5 990.7,438 994.7,437.6 998.7,437.2 1002.7,436.8 1006.7,436.5 1010.7,436.1 1014.7,435.8 1018.7,435.5 1022.7,435.3 1026.7,435.1 1030.7,434.9 1034.7,434.7 1038.7,434.6 1042.7,434.5" fill="none" stroke="#2fd22f" stroke-width="5"/>
<polyline points="886.9,500.3 890.9,499.7 894.9,499 898.9,497.2 902.9,494 906.9,489.8 910.9,485.1 914.9,480.1 918.9,475.3 922.9,471.1 926.9,467.6 930.9,464.3 934.9,461.1 938.9,458 942.9,455.2 946.9,452.3 950.9,449.5 954.9,447.1 958.9,445.3 962.9,443.9 966.9,442.8 970.9,441.8 974.9,441 978.9,440.3 982.9,439.7 986.9,439.1 990.9,438.5 994.9,438 998.9,437.6 1002.9,437.2 1006.9,436.8 1010.9,436.5 1014.9,436.1 1018.9,435.8 1022.9,435.5 1026.9,435.3 1030.9,435.1 1034.9,434.9 1038.9,434.7 1042.9,434.6 1046.9,434.5" fill="none" stroke="#2fd22f" stroke-width="5"/>
<polyline points="891.1,500.3 895.1,499.7 899.1,499 903.1,497.2 907.1,494 911.1,489.8 915.1,485.1 919.1,480.1 923.1,475.3 927.1,471.1 931.1,467.6 935.1,464.3 939.1,461.1 943.1,458 947.1,455.2 951.1,452.3 955.1,449.5 959.1,447.1 963.1,445.3 967.1,443.9 971.1,442.8 975.1,441.8 979.1,441 983.1,440.3 987.1,439.7 991.1,439.1 995.1,438.5 999.1,438 1003.1,437.6 1007.1,437.2 1011.1,436.8 1015.1,436.5 1019.1,436.1 1023.1,435.8 1027.1,435.5 1031.1,435.3 1035.1,435.1 1039.1,434.9 1043.1,434.7 1047.1,434.6 1051.1,434.5" fill="none" stroke="#2fd22f" stroke-width="5"/>
<polyline points="895.2,500.3 899.2,499.7 903.2,499 907.2,497.2 911.2,494 915.2,489.8 919.2,485.1 923.2,480.1 927.2,475.3 931.2,471.1 935.2,467.6 939.2,464.3 943.2,461.1 947.2,458 951.2,455.2 955.2,452.3 959.2,449.5 963.2,447.1 967.2,445.3 971.2,443.9 975.2,442.8 979.2,441.8 983.2,441 987.2,440.3 991.2,439.7 995.2,439.1 999.2,438.5 1003.2,438 1007.2,437.6 1011.2,437.2 1015.2,436.8 1019.2,436.5 1023.2,436.1 1027.2,435.8 1031.2,435.5 1035.2,435.3 1039.2,435.1 1043.2,434.9 1047.2,434.7 1051.2,434.6 1055.2,434.5" fill="none" stroke="#2fd22f" stroke-width="5"/>
<polyline points="899.4,500.3 903.4,499.7 907.4,499 911.4,497.2 915.4,494 919.4,489.8 923.4,485.1 927.4,480.1 931.4,475.3 935.4,471.1 939.4,467.6 943.4,464.3 947.4,461.1 951.4,458 955.4,455.2 959.4,452.3 963.4,449.5 967.4,447.1 971.4,445.3 975.4,443.9 979.4,442.8 983.4,441.8 987.4,441 991.4,440.3 995.4,439.7 999.4,439.1 1003.4,438.5 1007.4,438 1011.4,437.6 1015.4,437.2 1019.4,436.8 1023.4,436.5 1027.4,436.1 1031.4,435.8 1035.4,435.5 1039.4,435.3 1043.4,435.1 1047.4,434.9 1051.4,434.7 1055.4,434.6 1059.4,434.5" fill="none" stroke="#2fd22f" stroke-width="5"/>
<polyline points="903.6,500.3 907.6,499.7 911.6,499 915.6,497.2 919.6,494 923.6,489.8 927.6,485.1 931.6,480.1 935.6,475.3 939.6,471.1 943.6,467.6 947.6,464.3 951.6,461.1 955.6,458 959.6,455.2 963.6,452.3 967.6,449.5 971.6,447.1 975.6,445.3 979.6,443.9 983.6,442.8 987.6,441.8 991.6,441 995.6,440.3 999.6,439.7 1003.6,439.1 1007.6,438.5 1011.6,438 1015.6,437.6 1019.6,437.2 1023.6,436.8 1027.6,436.5 1031.6,436.1 1035.6,435.8 1039.6,435.5 1043.6,435.3 1047.6,435.1 1051.6,434.9 1055.6,434.7 1059.6,434.6 1063.6,434.5" fill="none" stroke="#2fd22f" stroke-width="5"/>
<polyline points="907.8,500.3 911.8,499.7 915.8,499 919.8,497.2 923.8,494 927.8,489.8 931.8,485.1 935.8,480.1 939.8,475.3 943.8,471.1 947.8,467.6 951.8,464.3 955.8,461.1 959.8,458 963.8,455.2 967.8,452.3 971.8,449.5 975.8,447.1 979.8,445.3 983.8,443.9 987.8,442.8 991.8,441.8 995.8,441 999.8,440.3 1003.8,439.7 1007.8,439.1 1011.8,438.5 1015.8,438 1019.8,437.6 1023.8,437.2 1027.8,436.8 1031.8,436.5 1035.8,436.1 1039.8,435.8 1043.8,435.5 1047.8,435.3 1051.8,435.1 1055.8,434.9 1059.8,434.7 1063.8,434.6 1067.8,434.5" fill="none" stroke="#2fd22f" stroke-width="5"/>
<polyline points="912,500.3 916,499.7 920,499 924,497.2 928,494 932,489.8 936,485.1 940,480.1 944,475.3 948,471.1 952,467.6 956,464.3 960,461.1 964,458 968,455.2 972,452.3 976,449.5 980,447.1 984,445.3 988,443.9 992,442.8 996,441.8 1000,441 1004,440.3 1008,439.7 1012,439.1 1016,438.5 1020,438 1024,437.6 1028,437.2 1032,436.8 1036,436.5 1040,436.1 1044,435.8 1048,435.5 1052,435.3 1056,435.1 1060,434.9 1064,434.7 1068,434.6 1072,434.5" fill="none" stroke="#2fd22f" stroke-width="5"/>
<polyline points="1144.5,434 1148.5,434.7 1152.5,435.7 1156.5,438.6 1160.5,443.7 1164.5,448.8 1168.5,452.6 1172.5,455.9 1176.5,458.9 1180.5,461.8 1184.5,464.6 1188.5,467.4 1192.5,470.2 1196.5,473.1 1200.5,476 1204.5,478.8 1208.5,481.4 1212.5,483.9 1216.5,486.3 1220.5,488.5 1224.5,490.4 1228.5,491.8 1232.5,493 1236.5,494.1 1240.5,495.1 1244.5,495.8 1248.5,496.5 1252.5,497 1256.5,497.5 1260.5,498 1264.5,498.4 1268.5,498.7 1272.5,499 1276.5,499.3 1280.5,499.4" fill="none" stroke="#2fd22f" stroke-width="5"/>
<polyline points="1148.8,434 1152.8,434.7 1156.8,435.7 1160.8,438.6 1164.8,443.7 1168.8,448.8 1172.8,452.6 1176.8,455.9 1180.8,458.9 1184.8,461.8 1188.8,464.6 1192.8,467.4 1196.8,470.2 1200.8,473.1 1204.8,476 1208.8,478.8 1212.8,481.4 1216.8,483.9 1220.8,486.3 1224.8,488.5 1228.8,490.4 1232.8,491.8 1236.8,493 1240.8,494.1 1244.8,495.1 1248.8,495.8 1252.8,496.5 1256.8,497 1260.8,497.5 1264.8,498 1268.8,498.4 1272.8,498.7 1276.8,499 1280.8,499.3" fill="none" stroke="#2fd22f" stroke-width="5"/>
<polyline points="1153.1,434 1157.1,434.7 1161.1,435.7 1165.1,438.6 1169.1,443.7 1173.1,448.8 1177.1,452.6 1181.1,455.9 1185.1,458.9 1189.1,461.8 1193.1,464.6 1197.1,467.4 1201.1,470.2 1205.1,473.1 1209.1,476 1213.1,478.8 1217.1,481.4 1221.1,483.9 1225.1,486.3 1229.1,488.5 1233.1,490.4 1237.1,491.8 1241.1,493 1245.1,494.1 1249.1,495.1 1253.1,495.8 1257.1,496.5 1261.1,497 1265.1,497.5 1269.1,498 1273.1,498.4 1277.1,498.7 1281.1,499" fill="none" stroke="#2fd22f" stroke-width="5"/>
<polyline points="1157.5,434 1161.5,434.7 1165.5,435.7 1169.5,438.6 1173.5,443.7 1177.5,448.8 1181.5,452.6 1185.5,455.9 1189.5,458.9 1193.5,461.8 1197.5,464.6 1201.5,467.4 1205.5,470.2 1209.5,473.1 1213.5,476 1217.5,478.8 1221.5,481.4 1225.5,483.9 1229.5,486.3 1233.5,488.5 1237.5,490.4 1241.5,491.8 1245.5,493 1249.5,494.1 1253.5,495.1 1257.5,495.8 1261.5,496.5 1265.5,497 1269.5,497.5 1273.5,498 1277.5,498.4 1281.5,498.7" fill="none" stroke="#2fd22f" stroke-width="5"/>
<polyline points="1161.8,434 1165.8,434.7 1169.8,435.7 1173.8,438.6 1177.8,443.7 1181.8,448.8 1185.8,452.6 1189.8,455.9 1193.8,458.9 1197.8,461.8 1201.8,464.6 1205.8,467.4 1209.8,470.2 1213.8,473.1 1217.8,476 1221.8,478.8 1225.8,481.4 1229.8,483.9 1233.8,486.3 1237.8,488.5 1241.8,490.4 1245.8,491.8 1249.8,493 1253.8,494.1 1257.8,495.1 1261.8,495.8 1265.8,496.5 1269.8,497 1273.8,497.5 1277.8,498 1281.8,498.4" fill="none" stroke="#2fd22f" stroke-width="5"/>
<polyline points="1166.1,434 1170.1,434.7 1174.1,435.7 1178.1,438.6 1182.1,443.7 1186.1,448.8 1190.1,452.6 1194.1,455.9 1198.1,458.9 1202.1,461.8 1206.1,464.6 1210.1,467.4 1214.1,470.2 1218.1,473.1 1222.1,476 1226.1,478.8 1230.1,481.4 1234.1,483.9 1238.1,486.3 1242.1,488.5 1246.1,490.4 1250.1,491.8 1254.1,493 1258.1,494.1 1262.1,495.1 1266.1,495.8 1270.1,496.5 1274.1,497 1278.1,497.5 1282.1,498" fill="none" stroke="#2fd22f" stroke-width="5"/>
<polyline points="1170.4,434 1174.4,434.7 1178.4,435.7 1182.4,438.6 1186.4,443.7 1190.4,448.8 1194.4,452.6 1198.4,455.9 1202.4,458.9 1206.4,461.8 1210.4,464.6 1214.4,467.4 1218.4,470.2 1222.4,473.1 1226.4,476 1230.4,478.8 1234.4,481.4 1238.4,483.9 1242.4,486.3 1246.4,488.5 1250.4,490.4 1254.4,491.8 1258.4,493 1262.4,494.1 1266.4,495.1 1270.4,495.8 1274.4,496.5 1278.4,497 1282.4,497.5" fill="none" stroke="#2fd22f" stroke-width="5"/>
<polyline points="1174.7,434 1178.7,434.7 1182.7,435.7 1186.7,438.6 1190.7,443.7 1194.7,448.8 1198.7,452.6 1202.7,455.9 1206.7,458.9 1210.7,461.8 1214.7,464.6 1218.7,467.4 1222.7,470.2 1226.7,473.1 1230.7,476 1234.7,478.8 1238.7,481.4 1242.7,483.9 1246.7,486.3 1250.7,488.5 1254.7,490.4 1258.7,491.8 1262.7,493 1266.7,494.1 1270.7,495.1 1274.7,495.8 1278.7,496.5 1282.7,497" fill="none" stroke="#2fd22f" stroke-width="5"/>
<polyline points="1179,434 1183,434.7 1187,435.7 1191,438.6 1195,443.7 1199,448.8 1203,452.6 1207,455.9 1211,458.9 1215,461.8 1219,464.6 1223,467.4 1227,470.2 1231,473.1 1235,476 1239,478.8 1243,481.4 1247,483.9 1251,486.3 1255,488.5 1259,490.4 1263,491.8 1267,493 1271,494.1 1275,495.1 1279,495.8 1283,496.5" fill="none" stroke="#2fd22f" stroke-width="5"/>
<polyline points="1183.4,434 1187.4,434.7 1191.4,435.7 1195.4,438.6 1199.4,443.7 1203.4,448.8 1207.4,452.6 1211.4,455.9 1215.4,458.9 1219.4,461.8 1223.4,464.6 1227.4,467.4 1231.4,470.2 1235.4,473.1 1239.4,476 1243.4,478.8 1247.4,481.4 1251.4,483.9 1255.4,486.3 1259.4,488.5 1263.4,490.4 1267.4,491.8 1271.4,493 1275.4,494.1 1279.4,495.1 1283.4,495.8" fill="none" stroke="#2fd22f" stroke-width="5"/>
<polyline points="1187.7,434 1191.7,434.7 1195.7,435.7 1199.7,438.6 1203.7,443.7 1207.7,448.8 1211.7,452.6 1215.7,455.9 1219.7,458.9 1223.7,461.8 1227.7,464.6 1231.7,467.4 1235.7,470.2 1239.7,473.1 1243.7,476 1247.7,478.8 1251.7,481.4 1255.7,483.9 1259.7,486.3 1263.7,488.5 1267.7,490.4 1271.7,491.8 1275.7,493 1279.7,494.1 1283.7,495.1" fill="none" stroke="#2fd22f" stroke-width="5"/>
<polyline points="1192,434 1196,434.7 1200,435.7 1204,438.6 1208,443.7 1212,448.8 1216,452.6 1220,455.9 1224,458.9 1228,461.8 1232,464.6 1236,467.4 1240,470.2 1244,473.1 1248,476 1252,478.8 1256,481.4 1260,483.9 1264,486.3 1268,488.5 1272,490.4 1276,491.8 1280,493 1284,494.1" fill="none" stroke="#2fd22f" stroke-width="5"/>
<polyline points="1170,434 1174,434.7 1178,435.7 1182,438.6 1186,443.7 1190,448.8 1194,452.6 1198,455.9 1202,458.9 1206,461.8 1210,464.6 1214,467.4 1218,470.2 1222,473.1 1226,476 1230,478.8 1234,481.4 1238,483.9 1242,486.3 1246,488.5 1250,490.4 1254,491.8 1258,493 1262,494.1 1266,495.1 1270,495.8 1274,496.5 1278,497 1282,497.5" fill="none" stroke="#020202" stroke-width="2.2"/>
<polyline points="1168.5,500.3 1172.5,499.7 1176.5,499 1180.5,497.2 1184.5,494 1188.5,489.8 1192.5,485.1 1196.5,480.1 1200.5,475.3 1204.5,471.1 1208.5,467.6 1212.5,464.3 1216.5,461.1 1220.5,458 1224.5,455.2 1228.5,452.3 1232.5,449.5 1236.5,447.1 1240.5,445.3 1244.5,443.9 1248.5,442.8 1252.5,441.8 1256.5,441 1260.5,440.3 1264.5,439.7 1268.5,439.1 1272.5,438.5 1276.5,438 1280.5,437.6" fill="none" stroke="#2fd22f" stroke-width="5"/>
<polyline points="1172.7,500.3 1176.7,499.7 1180.7,499 1184.7,497.2 1188.7,494 1192.7,489.8 1196.7,485.1 1200.7,480.1 1204.7,475.3 1208.7,471.1 1212.7,467.6 1216.7,464.3 1220.7,461.1 1224.7,458 1228.7,455.2 1232.7,452.3 1236.7,449.5 1240.7,447.1 1244.7,445.3 1248.7,443.9 1252.7,442.8 1256.7,441.8 1260.7,441 1264.7,440.3 1268.7,439.7 1272.7,439.1 1276.7,438.5 1280.7,438" fill="none" stroke="#2fd22f" stroke-width="5"/>
<polyline points="1176.9,500.3 1180.9,499.7 1184.9,499 1188.9,497.2 1192.9,494 1196.9,489.8 1200.9,485.1 1204.9,480.1 1208.9,475.3 1212.9,471.1 1216.9,467.6 1220.9,464.3 1224.9,461.1 1228.9,458 1232.9,455.2 1236.9,452.3 1240.9,449.5 1244.9,447.1 1248.9,445.3 1252.9,443.9 1256.9,442.8 1260.9,441.8 1264.9,441 1268.9,440.3 1272.9,439.7 1276.9,439.1 1280.9,438.5" fill="none" stroke="#2fd22f" stroke-width="5"/>
<polyline points="1181.1,500.3 1185.1,499.7 1189.1,499 1193.1,497.2 1197.1,494 1201.1,489.8 1205.1,485.1 1209.1,480.1 1213.1,475.3 1217.1,471.1 1221.1,467.6 1225.1,464.3 1229.1,461.1 1233.1,458 1237.1,455.2 1241.1,452.3 1245.1,449.5 1249.1,447.1 1253.1,445.3 1257.1,443.9 1261.1,442.8 1265.1,441.8 1269.1,441 1273.1,440.3 1277.1,439.7 1281.1,439.1" fill="none" stroke="#2fd22f" stroke-width="5"/>
<polyline points="1185.2,500.3 1189.2,499.7 1193.2,499 1197.2,497.2 1201.2,494 1205.2,489.8 1209.2,485.1 1213.2,480.1 1217.2,475.3 1221.2,471.1 1225.2,467.6 1229.2,464.3 1233.2,461.1 1237.2,458 1241.2,455.2 1245.2,452.3 1249.2,449.5 1253.2,447.1 1257.2,445.3 1261.2,443.9 1265.2,442.8 1269.2,441.8 1273.2,441 1277.2,440.3 1281.2,439.7" fill="none" stroke="#2fd22f" stroke-width="5"/>
<polyline points="1189.4,500.3 1193.4,499.7 1197.4,499 1201.4,497.2 1205.4,494 1209.4,489.8 1213.4,485.1 1217.4,480.1 1221.4,475.3 1225.4,471.1 1229.4,467.6 1233.4,464.3 1237.4,461.1 1241.4,458 1245.4,455.2 1249.4,452.3 1253.4,449.5 1257.4,447.1 1261.4,445.3 1265.4,443.9 1269.4,442.8 1273.4,441.8 1277.4,441 1281.4,440.3" fill="none" stroke="#2fd22f" stroke-width="5"/>
<polyline points="1193.6,500.3 1197.6,499.7 1201.6,499 1205.6,497.2 1209.6,494 1213.6,489.8 1217.6,485.1 1221.6,480.1 1225.6,475.3 1229.6,471.1 1233.6,467.6 1237.6,464.3 1241.6,461.1 1245.6,458 1249.6,455.2 1253.6,452.3 1257.6,449.5 1261.6,447.1 1265.6,445.3 1269.6,443.9 1273.6,442.8 1277.6,441.8 1281.6,441" fill="none" stroke="#2fd22f" stroke-width="5"/>
<polyline points="1197.8,500.3 1201.8,499.7 1205.8,499 1209.8,497.2 1213.8,494 1217.8,489.8 1221.8,485.1 1225.8,480.1 1229.8,475.3 1233.8,471.1 1237.8,467.6 1241.8,464.3 1245.8,461.1 1249.8,458 1253.8,455.2 1257.8,452.3 1261.8,449.5 1265.8,447.1 1269.8,445.3 1273.8,443.9 1277.8,442.8 1281.8,441.8" fill="none" stroke="#2fd22f" stroke-width="5"/>
<polyline points="1202,500.3 1206,499.7 1210,499 1214,497.2 1218,494 1222,489.8 1226,485.1 1230,480.1 1234,475.3 1238,471.1 1242,467.6 1246,464.3 1250,461.1 1254,458 1258,455.2 1262,452.3 1266,449.5 1270,447.1 1274,445.3 1278,443.9 1282,442.8" fill="none" stroke="#2fd22f" stroke-width="5"/>
<polyline points="886,455.9 890,458.9 894,461.8 898,464.6 902,467.4 906,470.2 910,473.1 914,476 918,478.8 922,481.4 926,483.9 930,486.3 934,488.5 938,490.4 942,491.8 946,493 950,494.1 954,495.1 958,495.8 962,496.5 966,497 970,497.5 974,498 978,498.4 982,498.7 986,499 990,499.3 994,499.4 998,499.6 1002,499.7 1006,499.8" fill="none" stroke="#2b3af2" stroke-width="2.6"/>
<polyline points="886,448.8 890,452.6 894,455.9 898,458.9 902,461.8 906,464.6 910,467.4 914,470.2 918,473.1 922,476 926,478.8 930,481.4 934,483.9 938,486.3 942,488.5 946,490.4 950,491.8 954,493 958,494.1 962,495.1 966,495.8 970,496.5 974,497 978,497.5 982,498 986,498.4 990,498.7 994,499 998,499.3 1002,499.4 1006,499.6 1010,499.7 1014,499.8" fill="none" stroke="#2b3af2" stroke-width="2.6"/>
<polyline points="886,438.6 890,443.7 894,448.8 898,452.6 902,455.9 906,458.9 910,461.8 914,464.6 918,467.4 922,470.2 926,473.1 930,476 934,478.8 938,481.4 942,483.9 946,486.3 950,488.5 954,490.4 958,491.8 962,493 966,494.1 970,495.1 974,495.8 978,496.5 982,497 986,497.5 990,498 994,498.4 998,498.7 1002,499 1006,499.3 1010,499.4 1014,499.6 1018,499.7 1022,499.8" fill="none" stroke="#2b3af2" stroke-width="2.6"/>
<polyline points="886,434.7 890,435.7 894,438.6 898,443.7 902,448.8 906,452.6 910,455.9 914,458.9 918,461.8 922,464.6 926,467.4 930,470.2 934,473.1 938,476 942,478.8 946,481.4 950,483.9 954,486.3 958,488.5 962,490.4 966,491.8 970,493 974,494.1 978,495.1 982,495.8 986,496.5 990,497 994,497.5 998,498 1002,498.4 1006,498.7 1010,499 1014,499.3 1018,499.4 1022,499.6 1026,499.7 1030,499.8" fill="none" stroke="#2b3af2" stroke-width="2.6"/>
<polyline points="890,434 894,434.7 898,435.7 902,438.6 906,443.7 910,448.8 914,452.6 918,455.9 922,458.9 926,461.8 930,464.6 934,467.4 938,470.2 942,473.1 946,476 950,478.8 954,481.4 958,483.9 962,486.3 966,488.5 970,490.4 974,491.8 978,493 982,494.1 986,495.1 990,495.8 994,496.5 998,497 1002,497.5 1006,498 1010,498.4 1014,498.7 1018,499 1022,499.3 1026,499.4 1030,499.6 1034,499.7 1038,499.8" fill="none" stroke="#2b3af2" stroke-width="2.6"/>
<polyline points="898,434 902,434.7 906,435.7 910,438.6 914,443.7 918,448.8 922,452.6 926,455.9 930,458.9 934,461.8 938,464.6 942,467.4 946,470.2 950,473.1 954,476 958,478.8 962,481.4 966,483.9 970,486.3 974,488.5 978,490.4 982,491.8 986,493 990,494.1 994,495.1 998,495.8 1002,496.5 1006,497 1010,497.5 1014,498 1018,498.4 1022,498.7 1026,499 1030,499.3 1034,499.4 1038,499.6 1042,499.7 1046,499.8" fill="none" stroke="#2b3af2" stroke-width="2.6"/>
<polyline points="885,499.7 889,499 893,497.2 897,494 901,489.8 905,485.1 909,480.1 913,475.3 917,471.1 921,467.6 925,464.3 929,461.1 933,458 937,455.2 941,452.3 945,449.5 949,447.1 953,445.3 957,443.9 961,442.8 965,441.8 969,441 973,440.3 977,439.7 981,439.1 985,438.5 989,438 993,437.6 997,437.2 1001,436.8 1005,436.5 1009,436.1 1013,435.8 1017,435.5 1021,435.3 1025,435.1 1029,434.9 1033,434.7 1037,434.6 1041,434.5" fill="none" stroke="#2b3af2" stroke-width="2.6"/>
<polyline points="888,500.3 892,499.7 896,499 900,497.2 904,494 908,489.8 912,485.1 916,480.1 920,475.3 924,471.1 928,467.6 932,464.3 936,461.1 940,458 944,455.2 948,452.3 952,449.5 956,447.1 960,445.3 964,443.9 968,442.8 972,441.8 976,441 980,440.3 984,439.7 988,439.1 992,438.5 996,438 1000,437.6 1004,437.2 1008,436.8 1012,436.5 1016,436.1 1020,435.8 1024,435.5 1028,435.3 1032,435.1 1036,434.9 1040,434.7 1044,434.6 1048,434.5" fill="none" stroke="#2b3af2" stroke-width="2.6"/>
<polyline points="895,500.3 899,499.7 903,499 907,497.2 911,494 915,489.8 919,485.1 923,480.1 927,475.3 931,471.1 935,467.6 939,464.3 943,461.1 947,458 951,455.2 955,452.3 959,449.5 963,447.1 967,445.3 971,443.9 975,442.8 979,441.8 983,441 987,440.3 991,439.7 995,439.1 999,438.5 1003,438 1007,437.6 1011,437.2 1015,436.8 1019,436.5 1023,436.1 1027,435.8 1031,435.5 1035,435.3 1039,435.1 1043,434.9 1047,434.7 1051,434.6 1055,434.5" fill="none" stroke="#2b3af2" stroke-width="2.6"/>
<polyline points="902,500.3 906,499.7 910,499 914,497.2 918,494 922,489.8 926,485.1 930,480.1 934,475.3 938,471.1 942,467.6 946,464.3 950,461.1 954,458 958,455.2 962,452.3 966,449.5 970,447.1 974,445.3 978,443.9 982,442.8 986,441.8 990,441 994,440.3 998,439.7 1002,439.1 1006,438.5 1010,438 1014,437.6 1018,437.2 1022,436.8 1026,436.5 1030,436.1 1034,435.8 1038,435.5 1042,435.3 1046,435.1 1050,434.9 1054,434.7 1058,434.6 1062,434.5" fill="none" stroke="#2b3af2" stroke-width="2.6"/>
<polyline points="909,500.3 913,499.7 917,499 921,497.2 925,494 929,489.8 933,485.1 937,480.1 941,475.3 945,471.1 949,467.6 953,464.3 957,461.1 961,458 965,455.2 969,452.3 973,449.5 977,447.1 981,445.3 985,443.9 989,442.8 993,441.8 997,441 1001,440.3 1005,439.7 1009,439.1 1013,438.5 1017,438 1021,437.6 1025,437.2 1029,436.8 1033,436.5 1037,436.1 1041,435.8 1045,435.5 1049,435.3 1053,435.1 1057,434.9 1061,434.7 1065,434.6 1069,434.5" fill="none" stroke="#2b3af2" stroke-width="2.6"/>
<polyline points="1148,434 1152,434.7 1156,435.7 1160,438.6 1164,443.7 1168,448.8 1172,452.6 1176,455.9 1180,458.9 1184,461.8 1188,464.6 1192,467.4 1196,470.2 1200,473.1 1204,476 1208,478.8 1212,481.4 1216,483.9 1220,486.3 1224,488.5 1228,490.4 1232,491.8 1236,493 1240,494.1 1244,495.1 1248,495.8 1252,496.5 1256,497 1260,497.5 1264,498 1268,498.4 1272,498.7 1276,499 1280,499.3 1284,499.4" fill="none" stroke="#2b3af2" stroke-width="2.6"/>
<polyline points="1156,434 1160,434.7 1164,435.7 1168,438.6 1172,443.7 1176,448.8 1180,452.6 1184,455.9 1188,458.9 1192,461.8 1196,464.6 1200,467.4 1204,470.2 1208,473.1 1212,476 1216,478.8 1220,481.4 1224,483.9 1228,486.3 1232,488.5 1236,490.4 1240,491.8 1244,493 1248,494.1 1252,495.1 1256,495.8 1260,496.5 1264,497 1268,497.5 1272,498 1276,498.4 1280,498.7 1284,499" fill="none" stroke="#2b3af2" stroke-width="2.6"/>
<polyline points="1164,434 1168,434.7 1172,435.7 1176,438.6 1180,443.7 1184,448.8 1188,452.6 1192,455.9 1196,458.9 1200,461.8 1204,464.6 1208,467.4 1212,470.2 1216,473.1 1220,476 1224,478.8 1228,481.4 1232,483.9 1236,486.3 1240,488.5 1244,490.4 1248,491.8 1252,493 1256,494.1 1260,495.1 1264,495.8 1268,496.5 1272,497 1276,497.5 1280,498 1284,498.4" fill="none" stroke="#2b3af2" stroke-width="2.6"/>
<polyline points="1172,434 1176,434.7 1180,435.7 1184,438.6 1188,443.7 1192,448.8 1196,452.6 1200,455.9 1204,458.9 1208,461.8 1212,464.6 1216,467.4 1220,470.2 1224,473.1 1228,476 1232,478.8 1236,481.4 1240,483.9 1244,486.3 1248,488.5 1252,490.4 1256,491.8 1260,493 1264,494.1 1268,495.1 1272,495.8 1276,496.5 1280,497 1284,497.5" fill="none" stroke="#2b3af2" stroke-width="2.6"/>
<polyline points="1180,434 1184,434.7 1188,435.7 1192,438.6 1196,443.7 1200,448.8 1204,452.6 1208,455.9 1212,458.9 1216,461.8 1220,464.6 1224,467.4 1228,470.2 1232,473.1 1236,476 1240,478.8 1244,481.4 1248,483.9 1252,486.3 1256,488.5 1260,490.4 1264,491.8 1268,493 1272,494.1 1276,495.1 1280,495.8 1284,496.5" fill="none" stroke="#2b3af2" stroke-width="2.6"/>
<polyline points="1188,434 1192,434.7 1196,435.7 1200,438.6 1204,443.7 1208,448.8 1212,452.6 1216,455.9 1220,458.9 1224,461.8 1228,464.6 1232,467.4 1236,470.2 1240,473.1 1244,476 1248,478.8 1252,481.4 1256,483.9 1260,486.3 1264,488.5 1268,490.4 1272,491.8 1276,493 1280,494.1 1284,495.1" fill="none" stroke="#2b3af2" stroke-width="2.6"/>
<polyline points="1171,500.3 1175,499.7 1179,499 1183,497.2 1187,494 1191,489.8 1195,485.1 1199,480.1 1203,475.3 1207,471.1 1211,467.6 1215,464.3 1219,461.1 1223,458 1227,455.2 1231,452.3 1235,449.5 1239,447.1 1243,445.3 1247,443.9 1251,442.8 1255,441.8 1259,441 1263,440.3 1267,439.7 1271,439.1 1275,438.5 1279,438 1283,437.6" fill="none" stroke="#2b3af2" stroke-width="2.6"/>
<polyline points="1178,500.3 1182,499.7 1186,499 1190,497.2 1194,494 1198,489.8 1202,485.1 1206,480.1 1210,475.3 1214,471.1 1218,467.6 1222,464.3 1226,461.1 1230,458 1234,455.2 1238,452.3 1242,449.5 1246,447.1 1250,445.3 1254,443.9 1258,442.8 1262,441.8 1266,441 1270,440.3 1274,439.7 1278,439.1 1282,438.5" fill="none" stroke="#2b3af2" stroke-width="2.6"/>
<polyline points="1185,500.3 1189,499.7 1193,499 1197,497.2 1201,494 1205,489.8 1209,485.1 1213,480.1 1217,475.3 1221,471.1 1225,467.6 1229,464.3 1233,461.1 1237,458 1241,455.2 1245,452.3 1249,449.5 1253,447.1 1257,445.3 1261,443.9 1265,442.8 1269,441.8 1273,441 1277,440.3 1281,439.7" fill="none" stroke="#2b3af2" stroke-width="2.6"/>
<polyline points="1192,500.3 1196,499.7 1200,499 1204,497.2 1208,494 1212,489.8 1216,485.1 1220,480.1 1224,475.3 1228,471.1 1232,467.6 1236,464.3 1240,461.1 1244,458 1248,455.2 1252,452.3 1256,449.5 1260,447.1 1264,445.3 1268,443.9 1272,442.8 1276,441.8 1280,441 1284,440.3" fill="none" stroke="#2b3af2" stroke-width="2.6"/>
<polyline points="1199,500.3 1203,499.7 1207,499 1211,497.2 1215,494 1219,489.8 1223,485.1 1227,480.1 1231,475.3 1235,471.1 1239,467.6 1243,464.3 1247,461.1 1251,458 1255,455.2 1259,452.3 1263,449.5 1267,447.1 1271,445.3 1275,443.9 1279,442.8 1283,441.8" fill="none" stroke="#2b3af2" stroke-width="2.6"/>
<polyline points="884,448.8 888,452.6 892,455.9 896,458.9 900,461.8 904,464.6 908,467.4 912,470.2 916,473.1 920,476 924,478.8 928,481.4 932,483.9 936,486.3 940,488.5 944,490.4 948,491.8 952,493 956,494.1 960,495.1 964,495.8 968,496.5 972,497 976,497.5 980,498 984,498.4 988,498.7 992,499 996,499.3 1000,499.4 1004,499.6 1008,499.7 1012,499.8" fill="none" stroke="#f032e0" stroke-width="1.1" stroke-opacity="0.8"/>
<polyline points="882.7,435.7 886.7,438.6 890.7,443.7 894.7,448.8 898.7,452.6 902.7,455.9 906.7,458.9 910.7,461.8 914.7,464.6 918.7,467.4 922.7,470.2 926.7,473.1 930.7,476 934.7,478.8 938.7,481.4 942.7,483.9 946.7,486.3 950.7,488.5 954.7,490.4 958.7,491.8 962.7,493 966.7,494.1 970.7,495.1 974.7,495.8 978.7,496.5 982.7,497 986.7,497.5 990.7,498 994.7,498.4 998.7,498.7 1002.7,499 1006.7,499.3 1010.7,499.4 1014.7,499.6 1018.7,499.7 1022.7,499.8" fill="none" stroke="#f032e0" stroke-width="1.1" stroke-opacity="0.8"/>
<polyline points="885.3,434 889.3,434.7 893.3,435.7 897.3,438.6 901.3,443.7 905.3,448.8 909.3,452.6 913.3,455.9 917.3,458.9 921.3,461.8 925.3,464.6 929.3,467.4 933.3,470.2 937.3,473.1 941.3,476 945.3,478.8 949.3,481.4 953.3,483.9 957.3,486.3 961.3,488.5 965.3,490.4 969.3,491.8 973.3,493 977.3,494.1 981.3,495.1 985.3,495.8 989.3,496.5 993.3,497 997.3,497.5 1001.3,498 1005.3,498.4 1009.3,498.7 1013.3,499 1017.3,499.3 1021.3,499.4 1025.3,499.6 1029.3,499.7 1033.3,499.8" fill="none" stroke="#f032e0" stroke-width="1.1" stroke-opacity="0.8"/>
<polyline points="896,434 900,434.7 904,435.7 908,438.6 912,443.7 916,448.8 920,452.6 924,455.9 928,458.9 932,461.8 936,464.6 940,467.4 944,470.2 948,473.1 952,476 956,478.8 960,481.4 964,483.9 968,486.3 972,488.5 976,490.4 980,491.8 984,493 988,494.1 992,495.1 996,495.8 1000,496.5 1004,497 1008,497.5 1012,498 1016,498.4 1020,498.7 1024,499 1028,499.3 1032,499.4 1036,499.6 1040,499.7 1044,499.8" fill="none" stroke="#f032e0" stroke-width="1.1" stroke-opacity="0.8"/>
<polyline points="883,500.3 887,499.7 891,499 895,497.2 899,494 903,489.8 907,485.1 911,480.1 915,475.3 919,471.1 923,467.6 927,464.3 931,461.1 935,458 939,455.2 943,452.3 947,449.5 951,447.1 955,445.3 959,443.9 963,442.8 967,441.8 971,441 975,440.3 979,439.7 983,439.1 987,438.5 991,438 995,437.6 999,437.2 1003,436.8 1007,436.5 1011,436.1 1015,435.8 1019,435.5 1023,435.3 1027,435.1 1031,434.9 1035,434.7 1039,434.6 1043,434.5" fill="none" stroke="#f032e0" stroke-width="1.3" stroke-opacity="0.9"/>
<polyline points="890,500.3 894,499.7 898,499 902,497.2 906,494 910,489.8 914,485.1 918,480.1 922,475.3 926,471.1 930,467.6 934,464.3 938,461.1 942,458 946,455.2 950,452.3 954,449.5 958,447.1 962,445.3 966,443.9 970,442.8 974,441.8 978,441 982,440.3 986,439.7 990,439.1 994,438.5 998,438 1002,437.6 1006,437.2 1010,436.8 1014,436.5 1018,436.1 1022,435.8 1026,435.5 1030,435.3 1034,435.1 1038,434.9 1042,434.7 1046,434.6 1050,434.5" fill="none" stroke="#f032e0" stroke-width="1.3" stroke-opacity="0.9"/>
<polyline points="897,500.3 901,499.7 905,499 909,497.2 913,494 917,489.8 921,485.1 925,480.1 929,475.3 933,471.1 937,467.6 941,464.3 945,461.1 949,458 953,455.2 957,452.3 961,449.5 965,447.1 969,445.3 973,443.9 977,442.8 981,441.8 985,441 989,440.3 993,439.7 997,439.1 1001,438.5 1005,438 1009,437.6 1013,437.2 1017,436.8 1021,436.5 1025,436.1 1029,435.8 1033,435.5 1037,435.3 1041,435.1 1045,434.9 1049,434.7 1053,434.6 1057,434.5" fill="none" stroke="#f032e0" stroke-width="1.3" stroke-opacity="0.9"/>
<polyline points="904,500.3 908,499.7 912,499 916,497.2 920,494 924,489.8 928,485.1 932,480.1 936,475.3 940,471.1 944,467.6 948,464.3 952,461.1 956,458 960,455.2 964,452.3 968,449.5 972,447.1 976,445.3 980,443.9 984,442.8 988,441.8 992,441 996,440.3 1000,439.7 1004,439.1 1008,438.5 1012,438 1016,437.6 1020,437.2 1024,436.8 1028,436.5 1032,436.1 1036,435.8 1040,435.5 1044,435.3 1048,435.1 1052,434.9 1056,434.7 1060,434.6 1064,434.5" fill="none" stroke="#f032e0" stroke-width="1.3" stroke-opacity="0.9"/>
<polyline points="1154,434 1158,434.7 1162,435.7 1166,438.6 1170,443.7 1174,448.8 1178,452.6 1182,455.9 1186,458.9 1190,461.8 1194,464.6 1198,467.4 1202,470.2 1206,473.1 1210,476 1214,478.8 1218,481.4 1222,483.9 1226,486.3 1230,488.5 1234,490.4 1238,491.8 1242,493 1246,494.1 1250,495.1 1254,495.8 1258,496.5 1262,497 1266,497.5 1270,498 1274,498.4 1278,498.7 1282,499" fill="none" stroke="#f032e0" stroke-width="1.1" stroke-opacity="0.8"/>
<polyline points="1164.7,434 1168.7,434.7 1172.7,435.7 1176.7,438.6 1180.7,443.7 1184.7,448.8 1188.7,452.6 1192.7,455.9 1196.7,458.9 1200.7,461.8 1204.7,464.6 1208.7,467.4 1212.7,470.2 1216.7,473.1 1220.7,476 1224.7,478.8 1228.7,481.4 1232.7,483.9 1236.7,486.3 1240.7,488.5 1244.7,490.4 1248.7,491.8 1252.7,493 1256.7,494.1 1260.7,495.1 1264.7,495.8 1268.7,496.5 1272.7,497 1276.7,497.5 1280.7,498" fill="none" stroke="#f032e0" stroke-width="1.1" stroke-opacity="0.8"/>
<polyline points="1175.3,434 1179.3,434.7 1183.3,435.7 1187.3,438.6 1191.3,443.7 1195.3,448.8 1199.3,452.6 1203.3,455.9 1207.3,458.9 1211.3,461.8 1215.3,464.6 1219.3,467.4 1223.3,470.2 1227.3,473.1 1231.3,476 1235.3,478.8 1239.3,481.4 1243.3,483.9 1247.3,486.3 1251.3,488.5 1255.3,490.4 1259.3,491.8 1263.3,493 1267.3,494.1 1271.3,495.1 1275.3,495.8 1279.3,496.5 1283.3,497" fill="none" stroke="#f032e0" stroke-width="1.1" stroke-opacity="0.8"/>
<polyline points="1186,434 1190,434.7 1194,435.7 1198,438.6 1202,443.7 1206,448.8 1210,452.6 1214,455.9 1218,458.9 1222,461.8 1226,464.6 1230,467.4 1234,470.2 1238,473.1 1242,476 1246,478.8 1250,481.4 1254,483.9 1258,486.3 1262,488.5 1266,490.4 1270,491.8 1274,493 1278,494.1 1282,495.1" fill="none" stroke="#f032e0" stroke-width="1.1" stroke-opacity="0.8"/>
<polyline points="1173,500.3 1177,499.7 1181,499 1185,497.2 1189,494 1193,489.8 1197,485.1 1201,480.1 1205,475.3 1209,471.1 1213,467.6 1217,464.3 1221,461.1 1225,458 1229,455.2 1233,452.3 1237,449.5 1241,447.1 1245,445.3 1249,443.9 1253,442.8 1257,441.8 1261,441 1265,440.3 1269,439.7 1273,439.1 1277,438.5 1281,438" fill="none" stroke="#f032e0" stroke-width="1.3" stroke-opacity="0.9"/>
<polyline points="1180,500.3 1184,499.7 1188,499 1192,497.2 1196,494 1200,489.8 1204,485.1 1208,480.1 1212,475.3 1216,471.1 1220,467.6 1224,464.3 1228,461.1 1232,458 1236,455.2 1240,452.3 1244,449.5 1248,447.1 1252,445.3 1256,443.9 1260,442.8 1264,441.8 1268,441 1272,440.3 1276,439.7 1280,439.1 1284,438.5" fill="none" stroke="#f032e0" stroke-width="1.3" stroke-opacity="0.9"/>
<polyline points="1187,500.3 1191,499.7 1195,499 1199,497.2 1203,494 1207,489.8 1211,485.1 1215,480.1 1219,475.3 1223,471.1 1227,467.6 1231,464.3 1235,461.1 1239,458 1243,455.2 1247,452.3 1251,449.5 1255,447.1 1259,445.3 1263,443.9 1267,442.8 1271,441.8 1275,441 1279,440.3 1283,439.7" fill="none" stroke="#f032e0" stroke-width="1.3" stroke-opacity="0.9"/>
<polyline points="1194,500.3 1198,499.7 1202,499 1206,497.2 1210,494 1214,489.8 1218,485.1 1222,480.1 1226,475.3 1230,471.1 1234,467.6 1238,464.3 1242,461.1 1246,458 1250,455.2 1254,452.3 1258,449.5 1262,447.1 1266,445.3 1270,443.9 1274,442.8 1278,441.8 1282,441" fill="none" stroke="#f032e0" stroke-width="1.3" stroke-opacity="0.9"/>
</g>
<defs><linearGradient id="railt2" x1="0" x2="1"><stop offset="0" stop-color="#5aa83a"/><stop offset="0.35" stop-color="#e8a040"/><stop offset="0.7" stop-color="#e88a30"/><stop offset="1" stop-color="#6ab040"/></linearGradient><linearGradient id="railb2" x1="0" x2="1"><stop offset="0" stop-color="#c8c030"/><stop offset="0.4" stop-color="#e8b830"/><stop offset="0.75" stop-color="#b8c828"/><stop offset="1" stop-color="#e89030"/></linearGradient></defs>
<rect x="958.3" y="433.1" width="206.7" height="1.8" fill="url(#railt2)"/>
<rect x="888.3" y="499.5" width="390" height="2.2" fill="url(#railb2)"/>
</g>
<rect x="888.3" y="431.6" width="390" height="71.1" fill="none" stroke="#444" stroke-width="1"/>
<text x="1274.6" y="450.8" font-family="'Liberation Serif',serif" font-size="19.8" font-weight="bold" text-anchor="end" fill="#ffffff" stroke="#ffffff" >150Mbps</text>
<clipPath id="eyec3"><rect x="888.3" y="509.6" width="390" height="69.7"/></clipPath>
<rect x="888.3" y="509.6" width="390" height="69.7" fill="#020202"/>
<g clip-path="url(#eyec3)">
<path d="M893.6,509.6V579.3M952.4,509.6V579.3M1011.2,509.6V579.3M1070,509.6V579.3M1128.8,509.6V579.3M1187.6,509.6V579.3M1246.4,509.6V579.3M888.3,518.3H1278.3M888.3,527H1278.3M888.3,535.7H1278.3M888.3,544.5H1278.3M888.3,553.2H1278.3M888.3,561.9H1278.3M888.3,570.6H1278.3" stroke="#242424" stroke-width="0.6" fill="none"/>
<path d="M870.1,543.7v1.6M881.8,543.7v1.6M893.6,543.7v1.6M905.4,543.7v1.6M917.1,543.7v1.6M928.9,543.7v1.6M940.6,543.7v1.6M952.4,543.7v1.6M964.2,543.7v1.6M975.9,543.7v1.6M987.7,543.7v1.6M999.4,543.7v1.6M1011.2,543.7v1.6M1023,543.7v1.6M1034.7,543.7v1.6M1046.5,543.7v1.6M1058.2,543.7v1.6M1070,543.7v1.6M1081.8,543.7v1.6M1093.5,543.7v1.6M1105.3,543.7v1.6M1117,543.7v1.6M1128.8,543.7v1.6M1140.6,543.7v1.6M1152.3,543.7v1.6M1164.1,543.7v1.6M1175.8,543.7v1.6M1187.6,543.7v1.6M1199.4,543.7v1.6M1211.1,543.7v1.6M1222.9,543.7v1.6M1234.6,543.7v1.6M1246.4,543.7v1.6M1258.2,543.7v1.6M1269.9,543.7v1.6" stroke="#444" stroke-width="0.8" fill="none"/>
<g filter="url(#eyeblur)">
<polyline points="885.7,567.4 889.7,568.8 893.7,570 897.7,571 901.7,571.8 905.7,572.6 909.7,573.4 913.7,574 917.7,574.6 921.7,575.2 925.7,575.6 929.7,575.9 933.7,576.2 937.7,576.3 941.7,576.4" fill="none" stroke="#2fd22f" stroke-width="4"/>
<polyline points="882.5,560.4 886.5,562.3 890.5,564.1 894.5,565.8 898.5,567.4 902.5,568.8 906.5,570 910.5,571 914.5,571.8 918.5,572.6 922.5,573.4 926.5,574 930.5,574.6 934.5,575.2 938.5,575.6 942.5,575.9 946.5,576.2 950.5,576.3 954.5,576.4" fill="none" stroke="#8a66e2" stroke-width="3"/>
<polyline points="883,547.5 887,550.4 891,553.2 895,555.8 899,558.2 903,560.4 907,562.3 911,564.1 915,565.8 919,567.4 923,568.8 927,570 931,571 935,571.8 939,572.6 943,573.4 947,574 951,574.6 955,575.2 959,575.6 963,575.9 967,576.2 971,576.3 975,576.4" fill="none" stroke="#2fd22f" stroke-width="4"/>
<polyline points="884,520 888,523.3 892,526.8 896,530.2 900,533.5 904,537.1 908,540.8 912,544.3 916,547.5 920,550.4 924,553.2 928,555.8 932,558.2 936,560.4 940,562.3 944,564.1 948,565.8 952,567.4 956,568.8 960,570 964,571 968,571.8 972,572.6 976,573.4 980,574 984,574.6 988,575.2 992,575.6 996,575.9 1000,576.2 1004,576.3 1008,576.4" fill="none" stroke="#2fd22f" stroke-width="4"/>
<polyline points="891,512 895,512.8 899,513.6 903,514.9 907,517.1 911,520 915,523.3 919,526.8 923,530.2 927,533.5 931,537.1 935,540.8 939,544.3 943,547.5 947,550.4 951,553.2 955,555.8 959,558.2 963,560.4 967,562.3 971,564.1 975,565.8 979,567.4 983,568.8 987,570 991,571 995,571.8 999,572.6 1003,573.4 1007,574 1011,574.6 1015,575.2 1019,575.6 1023,575.9 1027,576.2 1031,576.3 1035,576.4" fill="none" stroke="#2fd22f" stroke-width="4"/>
<polyline points="929,512 933,512.8 937,513.6 941,514.9 945,517.1 949,520 953,523.3 957,526.8 961,530.2 965,533.5 969,537.1 973,540.8 977,544.3 981,547.5 985,550.4 989,553.2 993,555.8 997,558.2 1001,560.4 1005,562.3 1009,564.1 1013,565.8 1017,567.4 1021,568.8 1025,570 1029,571 1033,571.8 1037,572.6 1041,573.4 1045,574 1049,574.6 1053,575.2 1057,575.6 1061,575.9 1065,576.2 1069,576.3 1073,576.4" fill="none" stroke="#8a66e2" stroke-width="3"/>
<polyline points="948.5,512 952.5,512.8 956.5,513.6 960.5,514.9 964.5,517.1 968.5,520 972.5,523.3 976.5,526.8 980.5,530.2 984.5,533.5 988.5,537.1 992.5,540.8 996.5,544.3 1000.5,547.5 1004.5,550.4 1008.5,553.2 1012.5,555.8 1016.5,558.2 1020.5,560.4 1024.5,562.3 1028.5,564.1 1032.5,565.8 1036.5,567.4 1040.5,568.8 1044.5,570 1048.5,571 1052.5,571.8 1056.5,572.6 1060.5,573.4 1064.5,574 1068.5,574.6 1072.5,575.2 1076.5,575.6 1080.5,575.9 1084.5,576.2 1088.5,576.3 1092.5,576.4" fill="none" stroke="#2fd22f" stroke-width="4"/>
<polyline points="883,550.3 887,546.6 891,543.2 895,540.1 899,537.2 903,534.3 907,531.6 911,529.2 915,527.1 919,525.1 923,523.2 927,521.5 931,520 935,518.8 939,517.9 943,517.1 947,516.4 951,515.8 955,515.3 959,514.8 963,514.4 967,514.1 971,513.7 975,513.4 979,513.2 983,513 987,512.8 991,512.6 995,512.5" fill="none" stroke="#8a66e2" stroke-width="3.2"/>
<polyline points="894.3,576.9 898.3,576.4 902.3,575.9 906.3,575 910.3,573.1 914.3,570.5 918.3,567.4 922.3,564.1 926.3,560.9 930.3,557.6 934.3,554 938.3,550.3 942.3,546.6 946.3,543.2 950.3,540.1 954.3,537.2 958.3,534.3 962.3,531.6 966.3,529.2 970.3,527.1 974.3,525.1 978.3,523.2 982.3,521.5 986.3,520 990.3,518.8 994.3,517.9 998.3,517.1 1002.3,516.4 1006.3,515.8 1010.3,515.3 1014.3,514.8 1018.3,514.4 1022.3,514.1 1026.3,513.7 1030.3,513.4 1034.3,513.2 1038.3,513 1042.3,512.8 1046.3,512.6 1050.3,512.5" fill="none" stroke="#2fd22f" stroke-width="4"/>
<polyline points="944.7,576.9 948.7,576.4 952.7,575.9 956.7,575 960.7,573.1 964.7,570.5 968.7,567.4 972.7,564.1 976.7,560.9 980.7,557.6 984.7,554 988.7,550.3 992.7,546.6 996.7,543.2 1000.7,540.1 1004.7,537.2 1008.7,534.3 1012.7,531.6 1016.7,529.2 1020.7,527.1 1024.7,525.1 1028.7,523.2 1032.7,521.5 1036.7,520 1040.7,518.8 1044.7,517.9 1048.7,517.1 1052.7,516.4 1056.7,515.8 1060.7,515.3 1064.7,514.8 1068.7,514.4 1072.7,514.1 1076.7,513.7 1080.7,513.4 1084.7,513.2 1088.7,513 1092.7,512.8 1096.7,512.6 1100.7,512.5" fill="none" stroke="#2fd22f" stroke-width="4"/>
<polyline points="885.6,534.3 889.6,531.6 893.6,529.2 897.6,527.1 901.6,525.1 905.6,523.2 909.6,521.5 913.6,520 917.6,518.8 921.6,517.9 925.6,517.1 929.6,516.4 933.6,515.8 937.6,515.3 941.6,514.8 945.6,514.4 949.6,514.1 953.6,513.7 957.6,513.4 961.6,513.2 965.6,513 969.6,512.8 973.6,512.6 977.6,512.5" fill="none" stroke="#8a66e2" stroke-width="2.8"/>
<polyline points="885.5,514.4 889.5,514.1 893.5,513.7 897.5,513.4 901.5,513.2 905.5,513 909.5,512.8 913.5,512.6 917.5,512.5" fill="none" stroke="#2fd22f" stroke-width="3.6"/>
<polyline points="884.2,514.8 888.2,514.4 892.2,514.1 896.2,513.7 900.2,513.4 904.2,513.2 908.2,513 912.2,512.8 916.2,512.6 920.2,512.5" fill="none" stroke="#2fd22f" stroke-width="3.6"/>
<polyline points="883,515.3 887,514.8 891,514.4 895,514.1 899,513.7 903,513.4 907,513.2 911,513 915,512.8 919,512.6 923,512.5" fill="none" stroke="#2fd22f" stroke-width="3.6"/>
<polyline points="885.5,521.5 889.5,520 893.5,518.8 897.5,517.9 901.5,517.1 905.5,516.4 909.5,515.8 913.5,515.3 917.5,514.8 921.5,514.4 925.5,514.1 929.5,513.7 933.5,513.4 937.5,513.2 941.5,513 945.5,512.8 949.5,512.6 953.5,512.5" fill="none" stroke="#2fd22f" stroke-width="4.2"/>
<polyline points="883.7,523.2 887.7,521.5 891.7,520 895.7,518.8 899.7,517.9 903.7,517.1 907.7,516.4 911.7,515.8 915.7,515.3 919.7,514.8 923.7,514.4 927.7,514.1 931.7,513.7 935.7,513.4 939.7,513.2 943.7,513 947.7,512.8 951.7,512.6 955.7,512.5" fill="none" stroke="#2fd22f" stroke-width="4.2"/>
<polyline points="885.8,523.2 889.8,521.5 893.8,520 897.8,518.8 901.8,517.9 905.8,517.1 909.8,516.4 913.8,515.8 917.8,515.3 921.8,514.8 925.8,514.4 929.8,514.1 933.8,513.7 937.8,513.4 941.8,513.2 945.8,513 949.8,512.8 953.8,512.6 957.8,512.5" fill="none" stroke="#2fd22f" stroke-width="4.2"/>
<polyline points="884,525.1 888,523.2 892,521.5 896,520 900,518.8 904,517.9 908,517.1 912,516.4 916,515.8 920,515.3 924,514.8 928,514.4 932,514.1 936,513.7 940,513.4 944,513.2 948,513 952,512.8 956,512.6 960,512.5" fill="none" stroke="#2fd22f" stroke-width="4.2"/>
<polyline points="886.2,525.1 890.2,523.2 894.2,521.5 898.2,520 902.2,518.8 906.2,517.9 910.2,517.1 914.2,516.4 918.2,515.8 922.2,515.3 926.2,514.8 930.2,514.4 934.2,514.1 938.2,513.7 942.2,513.4 946.2,513.2 950.2,513 954.2,512.8 958.2,512.6 962.2,512.5" fill="none" stroke="#2fd22f" stroke-width="4.2"/>
<polyline points="884.3,527.1 888.3,525.1 892.3,523.2 896.3,521.5 900.3,520 904.3,518.8 908.3,517.9 912.3,517.1 916.3,516.4 920.3,515.8 924.3,515.3 928.3,514.8 932.3,514.4 936.3,514.1 940.3,513.7 944.3,513.4 948.3,513.2 952.3,513 956.3,512.8 960.3,512.6 964.3,512.5" fill="none" stroke="#2fd22f" stroke-width="4.2"/>
<polyline points="882.5,529.2 886.5,527.1 890.5,525.1 894.5,523.2 898.5,521.5 902.5,520 906.5,518.8 910.5,517.9 914.5,517.1 918.5,516.4 922.5,515.8 926.5,515.3 930.5,514.8 934.5,514.4 938.5,514.1 942.5,513.7 946.5,513.4 950.5,513.2 954.5,513 958.5,512.8 962.5,512.6 966.5,512.5" fill="none" stroke="#2fd22f" stroke-width="4.2"/>
<polyline points="1088.7,512 1092.7,512.8 1096.7,513.6 1100.7,514.9 1104.7,517.1 1108.7,520 1112.7,523.3 1116.7,526.8 1120.7,530.2 1124.7,533.5 1128.7,537.1 1132.7,540.8 1136.7,544.3 1140.7,547.5 1144.7,550.4 1148.7,553.2 1152.7,555.8 1156.7,558.2 1160.7,560.4 1164.7,562.3 1168.7,564.1 1172.7,565.8 1176.7,567.4 1180.7,568.8 1184.7,570 1188.7,571 1192.7,571.8 1196.7,572.6 1200.7,573.4 1204.7,574 1208.7,574.6 1212.7,575.2 1216.7,575.6 1220.7,575.9 1224.7,576.2 1228.7,576.3 1232.7,576.4" fill="none" stroke="#2fd22f" stroke-width="4"/>
<polyline points="1101.5,512 1105.5,512.8 1109.5,513.6 1113.5,514.9 1117.5,517.1 1121.5,520 1125.5,523.3 1129.5,526.8 1133.5,530.2 1137.5,533.5 1141.5,537.1 1145.5,540.8 1149.5,544.3 1153.5,547.5 1157.5,550.4 1161.5,553.2 1165.5,555.8 1169.5,558.2 1173.5,560.4 1177.5,562.3 1181.5,564.1 1185.5,565.8 1189.5,567.4 1193.5,568.8 1197.5,570 1201.5,571 1205.5,571.8 1209.5,572.6 1213.5,573.4 1217.5,574 1221.5,574.6 1225.5,575.2 1229.5,575.6 1233.5,575.9 1237.5,576.2 1241.5,576.3 1245.5,576.4" fill="none" stroke="#8a66e2" stroke-width="3"/>
<polyline points="1122,512 1126,512.8 1130,513.6 1134,514.9 1138,517.1 1142,520 1146,523.3 1150,526.8 1154,530.2 1158,533.5 1162,537.1 1166,540.8 1170,544.3 1174,547.5 1178,550.4 1182,553.2 1186,555.8 1190,558.2 1194,560.4 1198,562.3 1202,564.1 1206,565.8 1210,567.4 1214,568.8 1218,570 1222,571 1226,571.8 1230,572.6 1234,573.4 1238,574 1242,574.6 1246,575.2 1250,575.6 1254,575.9 1258,576.2 1262,576.3 1266,576.4" fill="none" stroke="#2fd22f" stroke-width="4"/>
<polyline points="1155,512 1159,512.8 1163,513.6 1167,514.9 1171,517.1 1175,520 1179,523.3 1183,526.8 1187,530.2 1191,533.5 1195,537.1 1199,540.8 1203,544.3 1207,547.5 1211,550.4 1215,553.2 1219,555.8 1223,558.2 1227,560.4 1231,562.3 1235,564.1 1239,565.8 1243,567.4 1247,568.8 1251,570 1255,571 1259,571.8 1263,572.6 1267,573.4 1271,574 1275,574.6 1279,575.2 1283,575.6" fill="none" stroke="#2fd22f" stroke-width="4"/>
<polyline points="1182,512 1186,512.8 1190,513.6 1194,514.9 1198,517.1 1202,520 1206,523.3 1210,526.8 1214,530.2 1218,533.5 1222,537.1 1226,540.8 1230,544.3 1234,547.5 1238,550.4 1242,553.2 1246,555.8 1250,558.2 1254,560.4 1258,562.3 1262,564.1 1266,565.8 1270,567.4 1274,568.8 1278,570 1282,571" fill="none" stroke="#2fd22f" stroke-width="4"/>
<polyline points="1220,512 1224,512.8 1228,513.6 1232,514.9 1236,517.1 1240,520 1244,523.3 1248,526.8 1252,530.2 1256,533.5 1260,537.1 1264,540.8 1268,544.3 1272,547.5 1276,550.4 1280,553.2 1284,555.8" fill="none" stroke="#8a66e2" stroke-width="3"/>
<polyline points="1239.5,512 1243.5,512.8 1247.5,513.6 1251.5,514.9 1255.5,517.1 1259.5,520 1263.5,523.3 1267.5,526.8 1271.5,530.2 1275.5,533.5 1279.5,537.1 1283.5,540.8" fill="none" stroke="#2fd22f" stroke-width="4"/>
<polyline points="1130,576.9 1134,576.4 1138,575.9 1142,575 1146,573.1 1150,570.5 1154,567.4 1158,564.1 1162,560.9 1166,557.6 1170,554 1174,550.3 1178,546.6 1182,543.2 1186,540.1 1190,537.2 1194,534.3 1198,531.6 1202,529.2 1206,527.1 1210,525.1 1214,523.2 1218,521.5 1222,520 1226,518.8 1230,517.9 1234,517.1 1238,516.4 1242,515.8 1246,515.3 1250,514.8 1254,514.4 1258,514.1 1262,513.7 1266,513.4 1270,513.2 1274,513 1278,512.8 1282,512.6" fill="none" stroke="#8a66e2" stroke-width="3.2"/>
<polyline points="1185.3,576.9 1189.3,576.4 1193.3,575.9 1197.3,575 1201.3,573.1 1205.3,570.5 1209.3,567.4 1213.3,564.1 1217.3,560.9 1221.3,557.6 1225.3,554 1229.3,550.3 1233.3,546.6 1237.3,543.2 1241.3,540.1 1245.3,537.2 1249.3,534.3 1253.3,531.6 1257.3,529.2 1261.3,527.1 1265.3,525.1 1269.3,523.2 1273.3,521.5 1277.3,520 1281.3,518.8" fill="none" stroke="#2fd22f" stroke-width="4"/>
<polyline points="1235.7,576.9 1239.7,576.4 1243.7,575.9 1247.7,575 1251.7,573.1 1255.7,570.5 1259.7,567.4 1263.7,564.1 1267.7,560.9 1271.7,557.6 1275.7,554 1279.7,550.3 1283.7,546.6" fill="none" stroke="#2fd22f" stroke-width="4"/>
<polyline points="1112.6,576.9 1116.6,576.4 1120.6,575.9 1124.6,575 1128.6,573.1 1132.6,570.5 1136.6,567.4 1140.6,564.1 1144.6,560.9 1148.6,557.6 1152.6,554 1156.6,550.3 1160.6,546.6 1164.6,543.2 1168.6,540.1 1172.6,537.2 1176.6,534.3 1180.6,531.6 1184.6,529.2 1188.6,527.1 1192.6,525.1 1196.6,523.2 1200.6,521.5 1204.6,520 1208.6,518.8 1212.6,517.9 1216.6,517.1 1220.6,516.4 1224.6,515.8 1228.6,515.3 1232.6,514.8 1236.6,514.4 1240.6,514.1 1244.6,513.7 1248.6,513.4 1252.6,513.2 1256.6,513 1260.6,512.8 1264.6,512.6 1268.6,512.5" fill="none" stroke="#8a66e2" stroke-width="2.8"/>
<polyline points="1052.5,576.9 1056.5,576.4 1060.5,575.9 1064.5,575 1068.5,573.1 1072.5,570.5 1076.5,567.4 1080.5,564.1 1084.5,560.9 1088.5,557.6 1092.5,554 1096.5,550.3 1100.5,546.6 1104.5,543.2 1108.5,540.1 1112.5,537.2 1116.5,534.3 1120.5,531.6 1124.5,529.2 1128.5,527.1 1132.5,525.1 1136.5,523.2 1140.5,521.5 1144.5,520 1148.5,518.8 1152.5,517.9 1156.5,517.1 1160.5,516.4 1164.5,515.8 1168.5,515.3 1172.5,514.8 1176.5,514.4 1180.5,514.1 1184.5,513.7 1188.5,513.4 1192.5,513.2 1196.5,513 1200.5,512.8 1204.5,512.6 1208.5,512.5" fill="none" stroke="#2fd22f" stroke-width="3.6"/>
<polyline points="1055.2,576.9 1059.2,576.4 1063.2,575.9 1067.2,575 1071.2,573.1 1075.2,570.5 1079.2,567.4 1083.2,564.1 1087.2,560.9 1091.2,557.6 1095.2,554 1099.2,550.3 1103.2,546.6 1107.2,543.2 1111.2,540.1 1115.2,537.2 1119.2,534.3 1123.2,531.6 1127.2,529.2 1131.2,527.1 1135.2,525.1 1139.2,523.2 1143.2,521.5 1147.2,520 1151.2,518.8 1155.2,517.9 1159.2,517.1 1163.2,516.4 1167.2,515.8 1171.2,515.3 1175.2,514.8 1179.2,514.4 1183.2,514.1 1187.2,513.7 1191.2,513.4 1195.2,513.2 1199.2,513 1203.2,512.8 1207.2,512.6 1211.2,512.5" fill="none" stroke="#2fd22f" stroke-width="3.6"/>
<polyline points="1058,576.9 1062,576.4 1066,575.9 1070,575 1074,573.1 1078,570.5 1082,567.4 1086,564.1 1090,560.9 1094,557.6 1098,554 1102,550.3 1106,546.6 1110,543.2 1114,540.1 1118,537.2 1122,534.3 1126,531.6 1130,529.2 1134,527.1 1138,525.1 1142,523.2 1146,521.5 1150,520 1154,518.8 1158,517.9 1162,517.1 1166,516.4 1170,515.8 1174,515.3 1178,514.8 1182,514.4 1186,514.1 1190,513.7 1194,513.4 1198,513.2 1202,513 1206,512.8 1210,512.6 1214,512.5" fill="none" stroke="#2fd22f" stroke-width="3.6"/>
<polyline points="1088.5,576.9 1092.5,576.4 1096.5,575.9 1100.5,575 1104.5,573.1 1108.5,570.5 1112.5,567.4 1116.5,564.1 1120.5,560.9 1124.5,557.6 1128.5,554 1132.5,550.3 1136.5,546.6 1140.5,543.2 1144.5,540.1 1148.5,537.2 1152.5,534.3 1156.5,531.6 1160.5,529.2 1164.5,527.1 1168.5,525.1 1172.5,523.2 1176.5,521.5 1180.5,520 1184.5,518.8 1188.5,517.9 1192.5,517.1 1196.5,516.4 1200.5,515.8 1204.5,515.3 1208.5,514.8 1212.5,514.4 1216.5,514.1 1220.5,513.7 1224.5,513.4 1228.5,513.2 1232.5,513 1236.5,512.8 1240.5,512.6 1244.5,512.5" fill="none" stroke="#2fd22f" stroke-width="4.2"/>
<polyline points="1090.7,576.9 1094.7,576.4 1098.7,575.9 1102.7,575 1106.7,573.1 1110.7,570.5 1114.7,567.4 1118.7,564.1 1122.7,560.9 1126.7,557.6 1130.7,554 1134.7,550.3 1138.7,546.6 1142.7,543.2 1146.7,540.1 1150.7,537.2 1154.7,534.3 1158.7,531.6 1162.7,529.2 1166.7,527.1 1170.7,525.1 1174.7,523.2 1178.7,521.5 1182.7,520 1186.7,518.8 1190.7,517.9 1194.7,517.1 1198.7,516.4 1202.7,515.8 1206.7,515.3 1210.7,514.8 1214.7,514.4 1218.7,514.1 1222.7,513.7 1226.7,513.4 1230.7,513.2 1234.7,513 1238.7,512.8 1242.7,512.6 1246.7,512.5" fill="none" stroke="#2fd22f" stroke-width="4.2"/>
<polyline points="1092.8,576.9 1096.8,576.4 1100.8,575.9 1104.8,575 1108.8,573.1 1112.8,570.5 1116.8,567.4 1120.8,564.1 1124.8,560.9 1128.8,557.6 1132.8,554 1136.8,550.3 1140.8,546.6 1144.8,543.2 1148.8,540.1 1152.8,537.2 1156.8,534.3 1160.8,531.6 1164.8,529.2 1168.8,527.1 1172.8,525.1 1176.8,523.2 1180.8,521.5 1184.8,520 1188.8,518.8 1192.8,517.9 1196.8,517.1 1200.8,516.4 1204.8,515.8 1208.8,515.3 1212.8,514.8 1216.8,514.4 1220.8,514.1 1224.8,513.7 1228.8,513.4 1232.8,513.2 1236.8,513 1240.8,512.8 1244.8,512.6 1248.8,512.5" fill="none" stroke="#2fd22f" stroke-width="4.2"/>
<polyline points="1095,576.9 1099,576.4 1103,575.9 1107,575 1111,573.1 1115,570.5 1119,567.4 1123,564.1 1127,560.9 1131,557.6 1135,554 1139,550.3 1143,546.6 1147,543.2 1151,540.1 1155,537.2 1159,534.3 1163,531.6 1167,529.2 1171,527.1 1175,525.1 1179,523.2 1183,521.5 1187,520 1191,518.8 1195,517.9 1199,517.1 1203,516.4 1207,515.8 1211,515.3 1215,514.8 1219,514.4 1223,514.1 1227,513.7 1231,513.4 1235,513.2 1239,513 1243,512.8 1247,512.6 1251,512.5" fill="none" stroke="#2fd22f" stroke-width="4.2"/>
<polyline points="1097.2,576.9 1101.2,576.4 1105.2,575.9 1109.2,575 1113.2,573.1 1117.2,570.5 1121.2,567.4 1125.2,564.1 1129.2,560.9 1133.2,557.6 1137.2,554 1141.2,550.3 1145.2,546.6 1149.2,543.2 1153.2,540.1 1157.2,537.2 1161.2,534.3 1165.2,531.6 1169.2,529.2 1173.2,527.1 1177.2,525.1 1181.2,523.2 1185.2,521.5 1189.2,520 1193.2,518.8 1197.2,517.9 1201.2,517.1 1205.2,516.4 1209.2,515.8 1213.2,515.3 1217.2,514.8 1221.2,514.4 1225.2,514.1 1229.2,513.7 1233.2,513.4 1237.2,513.2 1241.2,513 1245.2,512.8 1249.2,512.6 1253.2,512.5" fill="none" stroke="#2fd22f" stroke-width="4.2"/>
<polyline points="1099.3,576.9 1103.3,576.4 1107.3,575.9 1111.3,575 1115.3,573.1 1119.3,570.5 1123.3,567.4 1127.3,564.1 1131.3,560.9 1135.3,557.6 1139.3,554 1143.3,550.3 1147.3,546.6 1151.3,543.2 1155.3,540.1 1159.3,537.2 1163.3,534.3 1167.3,531.6 1171.3,529.2 1175.3,527.1 1179.3,525.1 1183.3,523.2 1187.3,521.5 1191.3,520 1195.3,518.8 1199.3,517.9 1203.3,517.1 1207.3,516.4 1211.3,515.8 1215.3,515.3 1219.3,514.8 1223.3,514.4 1227.3,514.1 1231.3,513.7 1235.3,513.4 1239.3,513.2 1243.3,513 1247.3,512.8 1251.3,512.6 1255.3,512.5" fill="none" stroke="#2fd22f" stroke-width="4.2"/>
<polyline points="1101.5,576.9 1105.5,576.4 1109.5,575.9 1113.5,575 1117.5,573.1 1121.5,570.5 1125.5,567.4 1129.5,564.1 1133.5,560.9 1137.5,557.6 1141.5,554 1145.5,550.3 1149.5,546.6 1153.5,543.2 1157.5,540.1 1161.5,537.2 1165.5,534.3 1169.5,531.6 1173.5,529.2 1177.5,527.1 1181.5,525.1 1185.5,523.2 1189.5,521.5 1193.5,520 1197.5,518.8 1201.5,517.9 1205.5,517.1 1209.5,516.4 1213.5,515.8 1217.5,515.3 1221.5,514.8 1225.5,514.4 1229.5,514.1 1233.5,513.7 1237.5,513.4 1241.5,513.2 1245.5,513 1249.5,512.8 1253.5,512.6 1257.5,512.5" fill="none" stroke="#2fd22f" stroke-width="4.2"/>
<polyline points="882.5,560.4 886.5,562.3 890.5,564.1 894.5,565.8 898.5,567.4 902.5,568.8 906.5,570 910.5,571 914.5,571.8 918.5,572.6 922.5,573.4 926.5,574 930.5,574.6 934.5,575.2 938.5,575.6 942.5,575.9 946.5,576.2 950.5,576.3 954.5,576.4" fill="none" stroke="#9a6ae0" stroke-width="2.2"/>
<polyline points="885.7,567.4 889.7,568.8 893.7,570 897.7,571 901.7,571.8 905.7,572.6 909.7,573.4 913.7,574 917.7,574.6 921.7,575.2 925.7,575.6 929.7,575.9 933.7,576.2 937.7,576.3 941.7,576.4" fill="none" stroke="#2b3af2" stroke-width="2.2"/>
<polyline points="883,547.5 887,550.4 891,553.2 895,555.8 899,558.2 903,560.4 907,562.3 911,564.1 915,565.8 919,567.4 923,568.8 927,570 931,571 935,571.8 939,572.6 943,573.4 947,574 951,574.6 955,575.2 959,575.6 963,575.9 967,576.2 971,576.3 975,576.4" fill="none" stroke="#2b3af2" stroke-width="2.2"/>
<polyline points="884,520 888,523.3 892,526.8 896,530.2 900,533.5 904,537.1 908,540.8 912,544.3 916,547.5 920,550.4 924,553.2 928,555.8 932,558.2 936,560.4 940,562.3 944,564.1 948,565.8 952,567.4 956,568.8 960,570 964,571 968,571.8 972,572.6 976,573.4 980,574 984,574.6 988,575.2 992,575.6 996,575.9 1000,576.2 1004,576.3 1008,576.4" fill="none" stroke="#2b3af2" stroke-width="2.2"/>
<polyline points="891,512 895,512.8 899,513.6 903,514.9 907,517.1 911,520 915,523.3 919,526.8 923,530.2 927,533.5 931,537.1 935,540.8 939,544.3 943,547.5 947,550.4 951,553.2 955,555.8 959,558.2 963,560.4 967,562.3 971,564.1 975,565.8 979,567.4 983,568.8 987,570 991,571 995,571.8 999,572.6 1003,573.4 1007,574 1011,574.6 1015,575.2 1019,575.6 1023,575.9 1027,576.2 1031,576.3 1035,576.4" fill="none" stroke="#2b3af2" stroke-width="2.2"/>
<polyline points="948.5,512 952.5,512.8 956.5,513.6 960.5,514.9 964.5,517.1 968.5,520 972.5,523.3 976.5,526.8 980.5,530.2 984.5,533.5 988.5,537.1 992.5,540.8 996.5,544.3 1000.5,547.5 1004.5,550.4 1008.5,553.2 1012.5,555.8 1016.5,558.2 1020.5,560.4 1024.5,562.3 1028.5,564.1 1032.5,565.8 1036.5,567.4 1040.5,568.8 1044.5,570 1048.5,571 1052.5,571.8 1056.5,572.6 1060.5,573.4 1064.5,574 1068.5,574.6 1072.5,575.2 1076.5,575.6 1080.5,575.9 1084.5,576.2 1088.5,576.3 1092.5,576.4" fill="none" stroke="#2b3af2" stroke-width="2.2"/>
<polyline points="894.3,576.9 898.3,576.4 902.3,575.9 906.3,575 910.3,573.1 914.3,570.5 918.3,567.4 922.3,564.1 926.3,560.9 930.3,557.6 934.3,554 938.3,550.3 942.3,546.6 946.3,543.2 950.3,540.1 954.3,537.2 958.3,534.3 962.3,531.6 966.3,529.2 970.3,527.1 974.3,525.1 978.3,523.2 982.3,521.5 986.3,520 990.3,518.8 994.3,517.9 998.3,517.1 1002.3,516.4 1006.3,515.8 1010.3,515.3 1014.3,514.8 1018.3,514.4 1022.3,514.1 1026.3,513.7 1030.3,513.4 1034.3,513.2 1038.3,513 1042.3,512.8 1046.3,512.6 1050.3,512.5" fill="none" stroke="#2b3af2" stroke-width="2.2"/>
<polyline points="944.7,576.9 948.7,576.4 952.7,575.9 956.7,575 960.7,573.1 964.7,570.5 968.7,567.4 972.7,564.1 976.7,560.9 980.7,557.6 984.7,554 988.7,550.3 992.7,546.6 996.7,543.2 1000.7,540.1 1004.7,537.2 1008.7,534.3 1012.7,531.6 1016.7,529.2 1020.7,527.1 1024.7,525.1 1028.7,523.2 1032.7,521.5 1036.7,520 1040.7,518.8 1044.7,517.9 1048.7,517.1 1052.7,516.4 1056.7,515.8 1060.7,515.3 1064.7,514.8 1068.7,514.4 1072.7,514.1 1076.7,513.7 1080.7,513.4 1084.7,513.2 1088.7,513 1092.7,512.8 1096.7,512.6 1100.7,512.5" fill="none" stroke="#2b3af2" stroke-width="2.2"/>
<polyline points="884.3,514.8 888.3,514.4 892.3,514.1 896.3,513.7 900.3,513.4 904.3,513.2 908.3,513 912.3,512.8 916.3,512.6 920.3,512.5" fill="none" stroke="#2b3af2" stroke-width="1.6"/>
<polyline points="885,523.2 889,521.5 893,520 897,518.8 901,517.9 905,517.1 909,516.4 913,515.8 917,515.3 921,514.8 925,514.4 929,514.1 933,513.7 937,513.4 941,513.2 945,513 949,512.8 953,512.6 957,512.5" fill="none" stroke="#2b3af2" stroke-width="1.1"/>
<polyline points="883,527.1 887,525.1 891,523.2 895,521.5 899,520 903,518.8 907,517.9 911,517.1 915,516.4 919,515.8 923,515.3 927,514.8 931,514.4 935,514.1 939,513.7 943,513.4 947,513.2 951,513 955,512.8 959,512.6 963,512.5" fill="none" stroke="#2b3af2" stroke-width="1.1"/>
<polyline points="1088.7,512 1092.7,512.8 1096.7,513.6 1100.7,514.9 1104.7,517.1 1108.7,520 1112.7,523.3 1116.7,526.8 1120.7,530.2 1124.7,533.5 1128.7,537.1 1132.7,540.8 1136.7,544.3 1140.7,547.5 1144.7,550.4 1148.7,553.2 1152.7,555.8 1156.7,558.2 1160.7,560.4 1164.7,562.3 1168.7,564.1 1172.7,565.8 1176.7,567.4 1180.7,568.8 1184.7,570 1188.7,571 1192.7,571.8 1196.7,572.6 1200.7,573.4 1204.7,574 1208.7,574.6 1212.7,575.2 1216.7,575.6 1220.7,575.9 1224.7,576.2 1228.7,576.3 1232.7,576.4" fill="none" stroke="#2b3af2" stroke-width="2.2"/>
<polyline points="1122,512 1126,512.8 1130,513.6 1134,514.9 1138,517.1 1142,520 1146,523.3 1150,526.8 1154,530.2 1158,533.5 1162,537.1 1166,540.8 1170,544.3 1174,547.5 1178,550.4 1182,553.2 1186,555.8 1190,558.2 1194,560.4 1198,562.3 1202,564.1 1206,565.8 1210,567.4 1214,568.8 1218,570 1222,571 1226,571.8 1230,572.6 1234,573.4 1238,574 1242,574.6 1246,575.2 1250,575.6 1254,575.9 1258,576.2 1262,576.3 1266,576.4" fill="none" stroke="#2b3af2" stroke-width="2.2"/>
<polyline points="1155,512 1159,512.8 1163,513.6 1167,514.9 1171,517.1 1175,520 1179,523.3 1183,526.8 1187,530.2 1191,533.5 1195,537.1 1199,540.8 1203,544.3 1207,547.5 1211,550.4 1215,553.2 1219,555.8 1223,558.2 1227,560.4 1231,562.3 1235,564.1 1239,565.8 1243,567.4 1247,568.8 1251,570 1255,571 1259,571.8 1263,572.6 1267,573.4 1271,574 1275,574.6 1279,575.2 1283,575.6" fill="none" stroke="#2b3af2" stroke-width="2.2"/>
<polyline points="1182,512 1186,512.8 1190,513.6 1194,514.9 1198,517.1 1202,520 1206,523.3 1210,526.8 1214,530.2 1218,533.5 1222,537.1 1226,540.8 1230,544.3 1234,547.5 1238,550.4 1242,553.2 1246,555.8 1250,558.2 1254,560.4 1258,562.3 1262,564.1 1266,565.8 1270,567.4 1274,568.8 1278,570 1282,571" fill="none" stroke="#2b3af2" stroke-width="2.2"/>
<polyline points="1239.5,512 1243.5,512.8 1247.5,513.6 1251.5,514.9 1255.5,517.1 1259.5,520 1263.5,523.3 1267.5,526.8 1271.5,530.2 1275.5,533.5 1279.5,537.1 1283.5,540.8" fill="none" stroke="#2b3af2" stroke-width="2.2"/>
<polyline points="1185.3,576.9 1189.3,576.4 1193.3,575.9 1197.3,575 1201.3,573.1 1205.3,570.5 1209.3,567.4 1213.3,564.1 1217.3,560.9 1221.3,557.6 1225.3,554 1229.3,550.3 1233.3,546.6 1237.3,543.2 1241.3,540.1 1245.3,537.2 1249.3,534.3 1253.3,531.6 1257.3,529.2 1261.3,527.1 1265.3,525.1 1269.3,523.2 1273.3,521.5 1277.3,520 1281.3,518.8" fill="none" stroke="#2b3af2" stroke-width="2.2"/>
<polyline points="1235.7,576.9 1239.7,576.4 1243.7,575.9 1247.7,575 1251.7,573.1 1255.7,570.5 1259.7,567.4 1263.7,564.1 1267.7,560.9 1271.7,557.6 1275.7,554 1279.7,550.3 1283.7,546.6" fill="none" stroke="#2b3af2" stroke-width="2.2"/>
<polyline points="1055.3,576.9 1059.3,576.4 1063.3,575.9 1067.3,575 1071.3,573.1 1075.3,570.5 1079.3,567.4 1083.3,564.1 1087.3,560.9 1091.3,557.6 1095.3,554 1099.3,550.3 1103.3,546.6 1107.3,543.2 1111.3,540.1 1115.3,537.2 1119.3,534.3 1123.3,531.6 1127.3,529.2 1131.3,527.1 1135.3,525.1 1139.3,523.2 1143.3,521.5 1147.3,520 1151.3,518.8 1155.3,517.9 1159.3,517.1 1163.3,516.4 1167.3,515.8 1171.3,515.3 1175.3,514.8 1179.3,514.4 1183.3,514.1 1187.3,513.7 1191.3,513.4 1195.3,513.2 1199.3,513 1203.3,512.8 1207.3,512.6 1211.3,512.5" fill="none" stroke="#2b3af2" stroke-width="1.6"/>
<polyline points="1092,576.9 1096,576.4 1100,575.9 1104,575 1108,573.1 1112,570.5 1116,567.4 1120,564.1 1124,560.9 1128,557.6 1132,554 1136,550.3 1140,546.6 1144,543.2 1148,540.1 1152,537.2 1156,534.3 1160,531.6 1164,529.2 1168,527.1 1172,525.1 1176,523.2 1180,521.5 1184,520 1188,518.8 1192,517.9 1196,517.1 1200,516.4 1204,515.8 1208,515.3 1212,514.8 1216,514.4 1220,514.1 1224,513.7 1228,513.4 1232,513.2 1236,513 1240,512.8 1244,512.6 1248,512.5" fill="none" stroke="#2b3af2" stroke-width="1.1"/>
<polyline points="1098,576.9 1102,576.4 1106,575.9 1110,575 1114,573.1 1118,570.5 1122,567.4 1126,564.1 1130,560.9 1134,557.6 1138,554 1142,550.3 1146,546.6 1150,543.2 1154,540.1 1158,537.2 1162,534.3 1166,531.6 1170,529.2 1174,527.1 1178,525.1 1182,523.2 1186,521.5 1190,520 1194,518.8 1198,517.9 1202,517.1 1206,516.4 1210,515.8 1214,515.3 1218,514.8 1222,514.4 1226,514.1 1230,513.7 1234,513.4 1238,513.2 1242,513 1246,512.8 1250,512.6 1254,512.5" fill="none" stroke="#2b3af2" stroke-width="1.1"/>
<polyline points="882.5,560.4 886.5,562.3 890.5,564.1 894.5,565.8 898.5,567.4 902.5,568.8 906.5,570 910.5,571 914.5,571.8 918.5,572.6 922.5,573.4 926.5,574 930.5,574.6 934.5,575.2 938.5,575.6 942.5,575.9 946.5,576.2 950.5,576.3 954.5,576.4" fill="none" stroke="#c060e8" stroke-width="1"/>
<polyline points="883,547.5 887,550.4 891,553.2 895,555.8 899,558.2 903,560.4 907,562.3 911,564.1 915,565.8 919,567.4 923,568.8 927,570 931,571 935,571.8 939,572.6 943,573.4 947,574 951,574.6 955,575.2 959,575.6 963,575.9 967,576.2 971,576.3 975,576.4" fill="none" stroke="#f032e0" stroke-width="0.8"/>
<polyline points="929,512 933,512.8 937,513.6 941,514.9 945,517.1 949,520 953,523.3 957,526.8 961,530.2 965,533.5 969,537.1 973,540.8 977,544.3 981,547.5 985,550.4 989,553.2 993,555.8 997,558.2 1001,560.4 1005,562.3 1009,564.1 1013,565.8 1017,567.4 1021,568.8 1025,570 1029,571 1033,571.8 1037,572.6 1041,573.4 1045,574 1049,574.6 1053,575.2 1057,575.6 1061,575.9 1065,576.2 1069,576.3 1073,576.4" fill="none" stroke="#c060e8" stroke-width="1"/>
<polyline points="883,550.3 887,546.6 891,543.2 895,540.1 899,537.2 903,534.3 907,531.6 911,529.2 915,527.1 919,525.1 923,523.2 927,521.5 931,520 935,518.8 939,517.9 943,517.1 947,516.4 951,515.8 955,515.3 959,514.8 963,514.4 967,514.1 971,513.7 975,513.4 979,513.2 983,513 987,512.8 991,512.6 995,512.5" fill="none" stroke="#d848e4" stroke-width="1.4"/>
<polyline points="885.6,534.3 889.6,531.6 893.6,529.2 897.6,527.1 901.6,525.1 905.6,523.2 909.6,521.5 913.6,520 917.6,518.8 921.6,517.9 925.6,517.1 929.6,516.4 933.6,515.8 937.6,515.3 941.6,514.8 945.6,514.4 949.6,514.1 953.6,513.7 957.6,513.4 961.6,513.2 965.6,513 969.6,512.8 973.6,512.6 977.6,512.5" fill="none" stroke="#c060e8" stroke-width="0.9"/>
<polyline points="1101.5,512 1105.5,512.8 1109.5,513.6 1113.5,514.9 1117.5,517.1 1121.5,520 1125.5,523.3 1129.5,526.8 1133.5,530.2 1137.5,533.5 1141.5,537.1 1145.5,540.8 1149.5,544.3 1153.5,547.5 1157.5,550.4 1161.5,553.2 1165.5,555.8 1169.5,558.2 1173.5,560.4 1177.5,562.3 1181.5,564.1 1185.5,565.8 1189.5,567.4 1193.5,568.8 1197.5,570 1201.5,571 1205.5,571.8 1209.5,572.6 1213.5,573.4 1217.5,574 1221.5,574.6 1225.5,575.2 1229.5,575.6 1233.5,575.9 1237.5,576.2 1241.5,576.3 1245.5,576.4" fill="none" stroke="#c060e8" stroke-width="1"/>
<polyline points="1122,512 1126,512.8 1130,513.6 1134,514.9 1138,517.1 1142,520 1146,523.3 1150,526.8 1154,530.2 1158,533.5 1162,537.1 1166,540.8 1170,544.3 1174,547.5 1178,550.4 1182,553.2 1186,555.8 1190,558.2 1194,560.4 1198,562.3 1202,564.1 1206,565.8 1210,567.4 1214,568.8 1218,570 1222,571 1226,571.8 1230,572.6 1234,573.4 1238,574 1242,574.6 1246,575.2 1250,575.6 1254,575.9 1258,576.2 1262,576.3 1266,576.4" fill="none" stroke="#f032e0" stroke-width="0.8"/>
<polyline points="1220,512 1224,512.8 1228,513.6 1232,514.9 1236,517.1 1240,520 1244,523.3 1248,526.8 1252,530.2 1256,533.5 1260,537.1 1264,540.8 1268,544.3 1272,547.5 1276,550.4 1280,553.2 1284,555.8" fill="none" stroke="#c060e8" stroke-width="1"/>
<polyline points="1130,576.9 1134,576.4 1138,575.9 1142,575 1146,573.1 1150,570.5 1154,567.4 1158,564.1 1162,560.9 1166,557.6 1170,554 1174,550.3 1178,546.6 1182,543.2 1186,540.1 1190,537.2 1194,534.3 1198,531.6 1202,529.2 1206,527.1 1210,525.1 1214,523.2 1218,521.5 1222,520 1226,518.8 1230,517.9 1234,517.1 1238,516.4 1242,515.8 1246,515.3 1250,514.8 1254,514.4 1258,514.1 1262,513.7 1266,513.4 1270,513.2 1274,513 1278,512.8 1282,512.6" fill="none" stroke="#d848e4" stroke-width="1.4"/>
<polyline points="1112.6,576.9 1116.6,576.4 1120.6,575.9 1124.6,575 1128.6,573.1 1132.6,570.5 1136.6,567.4 1140.6,564.1 1144.6,560.9 1148.6,557.6 1152.6,554 1156.6,550.3 1160.6,546.6 1164.6,543.2 1168.6,540.1 1172.6,537.2 1176.6,534.3 1180.6,531.6 1184.6,529.2 1188.6,527.1 1192.6,525.1 1196.6,523.2 1200.6,521.5 1204.6,520 1208.6,518.8 1212.6,517.9 1216.6,517.1 1220.6,516.4 1224.6,515.8 1228.6,515.3 1232.6,514.8 1236.6,514.4 1240.6,514.1 1244.6,513.7 1248.6,513.4 1252.6,513.2 1256.6,513 1260.6,512.8 1264.6,512.6 1268.6,512.5" fill="none" stroke="#c060e8" stroke-width="0.9"/>
<polyline points="882.5,560.4 886.5,562.3 890.5,564.1 894.5,565.8 898.5,567.4 902.5,568.8 906.5,570 910.5,571 914.5,571.8 918.5,572.6 922.5,573.4 926.5,574 930.5,574.6 934.5,575.2 938.5,575.6 942.5,575.9 946.5,576.2 950.5,576.3 954.5,576.4" fill="none" stroke="#c060e8" stroke-width="0.8"/>
</g>
<defs><linearGradient id="railt3" x1="0" x2="1"><stop offset="0" stop-color="#5aa83a"/><stop offset="0.35" stop-color="#e8a040"/><stop offset="0.7" stop-color="#e88a30"/><stop offset="1" stop-color="#6ab040"/></linearGradient><linearGradient id="railb3" x1="0" x2="1"><stop offset="0" stop-color="#c8c030"/><stop offset="0.4" stop-color="#e8b830"/><stop offset="0.75" stop-color="#b8c828"/><stop offset="1" stop-color="#e89030"/></linearGradient></defs>
<rect x="888.3" y="511.1" width="390" height="1.8" fill="url(#railt3)"/>
<rect x="888.3" y="576.1" width="390" height="2.2" fill="url(#railb3)"/>
</g>
<rect x="888.3" y="509.6" width="390" height="69.7" fill="none" stroke="#444" stroke-width="1"/>
<text x="1274.6" y="528.3" font-family="'Liberation Serif',serif" font-size="19.8" font-weight="bold" text-anchor="end" fill="#ffffff" stroke="#ffffff" >200Mbps</text>
</g>
<g id="pe">
<defs><radialGradient id="ballg" cx="0.4" cy="0.35" r="0.7"><stop offset="0" stop-color="#c54cff"/><stop offset="0.6" stop-color="#9a10f0"/><stop offset="1" stop-color="#6a00c8"/></radialGradient></defs>
<rect x="976.9" y="664.7" width="37" height="207.3" fill="#f0def9" stroke="#e9d2f6" stroke-width="0.8"/>
<rect x="1134.7" y="626.5" width="38.2" height="245.5" fill="#c6fbfb" stroke="#aef2f3" stroke-width="0.8"/>
<polygon points="1148.5,641.2 1150.2,645.8 1155.1,646 1151.3,649 1152.6,653.7 1148.5,651 1144.4,653.7 1145.7,649 1141.9,646 1146.8,645.8" fill="#b89a1c"/>
<polygon points="1158.6,641.2 1160.3,645.8 1165.2,646 1161.4,649 1162.7,653.7 1158.6,651 1154.5,653.7 1155.8,649 1152,646 1156.9,645.8" fill="#1e7af0"/>
<polygon points="1151.5,681.7 1153.2,686.3 1158.1,686.5 1154.3,689.5 1155.6,694.2 1151.5,691.5 1147.4,694.2 1148.7,689.5 1144.9,686.5 1149.8,686.3" fill="#a01218"/>
<polygon points="1160.8,745.9 1162.5,750.5 1167.4,750.7 1163.6,753.7 1164.9,758.4 1160.8,755.7 1156.7,758.4 1158,753.7 1154.2,750.7 1159.1,750.5" fill="#8c8c8c"/>
<polygon points="1150,745.9 1151.7,750.5 1156.6,750.7 1152.8,753.7 1154.1,758.4 1150,755.7 1145.9,758.4 1147.2,753.7 1143.4,750.7 1148.3,750.5" fill="#1f7a1f"/>
<polygon points="1153.6,761.5 1155.3,766.1 1160.2,766.3 1156.4,769.3 1157.7,774 1153.6,771.3 1149.5,774 1150.8,769.3 1147,766.3 1151.9,766.1" fill="#cdb9f5"/>
<polygon points="1147.6,785.5 1149.3,790.1 1154.2,790.3 1150.4,793.3 1151.7,798 1147.6,795.3 1143.5,798 1144.8,793.3 1141,790.3 1145.9,790.1" fill="#f9aed0"/>
<polygon points="1147.6,801.7 1149.3,806.3 1154.2,806.5 1150.4,809.5 1151.7,814.2 1147.6,811.5 1143.5,814.2 1144.8,809.5 1141,806.5 1145.9,806.3" fill="#f48a86"/>
<polygon points="1147.6,822.1 1149.3,826.7 1154.2,826.9 1150.4,829.9 1151.7,834.6 1147.6,831.9 1143.5,834.6 1144.8,829.9 1141,826.9 1145.9,826.7" fill="#f0147e"/>
<polygon points="1156,840.7 1157.7,845.3 1162.6,845.5 1158.8,848.5 1160.1,853.2 1156,850.5 1151.9,853.2 1153.2,848.5 1149.4,845.5 1154.3,845.3" fill="#f2c585"/>
<polygon points="1147.6,834.1 1149.3,838.7 1154.2,838.9 1150.4,841.9 1151.7,846.6 1147.6,843.9 1143.5,846.6 1144.8,841.9 1141,838.9 1145.9,838.7" fill="#7a19e6"/>
<polygon points="994.3,723 999.6,726.9 997.6,733.1 991,733.1 989,726.9" fill="#7d7d7d" stroke="#7d7d7d" stroke-width="1.2" stroke-linejoin="round"/>
<polygon points="998.5,803.4 1003.8,807.3 1001.8,813.5 995.2,813.5 993.2,807.3" fill="#fa8080" stroke="#fa8080" stroke-width="1.2" stroke-linejoin="round"/>
<polygon points="993.7,842.6 999,846.5 997,852.7 990.4,852.7 988.4,846.5" fill="#12a82a" stroke="#12a82a" stroke-width="1.2" stroke-linejoin="round"/>
<circle cx="993.7" cy="687.8" r="7.6" fill="#f4e6fb" stroke="#9a22e6" stroke-width="1.6"/>
<circle cx="993.7" cy="687.8" r="5" fill="url(#ballg)"/><ellipse cx="992.2" cy="686" rx="1.9" ry="1.5" fill="#ffffff" opacity="0.85"/>
<path d="M1002.5,685.3L1022,678.2" stroke="#9a22e6" stroke-width="2.2" fill="none"/>
<polygon points="1029,675.7 1019.8,674.6 1022.6,682.4" fill="#9a22e6"/>
<text x="1031" y="683" font-family="'Liberation Serif',serif" font-size="18.2" font-weight="bold" text-anchor="start" fill="#9b2be0" stroke="#9b2be0" >This work</text>
<polygon points="1222,648.7 1223.7,653.3 1228.6,653.5 1224.8,656.5 1226.1,661.2 1222,658.5 1217.9,661.2 1219.2,656.5 1215.4,653.5 1220.3,653.3" fill="#7a19e6"/>
<text x="1239.5" y="659.2" font-family="'Liberation Serif',serif" font-size="10.5" font-weight="bold" text-anchor="start" fill="#222" stroke="#222" >[46]</text>
<polygon points="1222,663.9 1223.7,668.4 1228.6,668.6 1224.8,671.7 1226.1,676.4 1222,673.7 1217.9,676.4 1219.2,671.7 1215.4,668.6 1220.3,668.4" fill="#1e7af0"/>
<text x="1239.5" y="674.4" font-family="'Liberation Serif',serif" font-size="10.5" font-weight="bold" text-anchor="start" fill="#222" stroke="#222" >[47]</text>
<polygon points="1222,679 1223.7,683.6 1228.6,683.8 1224.8,686.8 1226.1,691.5 1222,688.8 1217.9,691.5 1219.2,686.8 1215.4,683.8 1220.3,683.6" fill="#b89a1c"/>
<text x="1239.5" y="689.5" font-family="'Liberation Serif',serif" font-size="10.5" font-weight="bold" text-anchor="start" fill="#222" stroke="#222" >[13]</text>
<polygon points="1222,694.2 1223.7,698.8 1228.6,699 1224.8,702 1226.1,706.7 1222,704 1217.9,706.7 1219.2,702 1215.4,699 1220.3,698.8" fill="#f0147e"/>
<text x="1239.5" y="704.7" font-family="'Liberation Serif',serif" font-size="10.5" font-weight="bold" text-anchor="start" fill="#222" stroke="#222" >[48]</text>
<polygon points="1222,709.4 1223.7,713.9 1228.6,714.1 1224.8,717.2 1226.1,721.9 1222,719.2 1217.9,721.9 1219.2,717.2 1215.4,714.1 1220.3,713.9" fill="#f2c585"/>
<text x="1239.5" y="719.9" font-family="'Liberation Serif',serif" font-size="10.5" font-weight="bold" text-anchor="start" fill="#222" stroke="#222" >[49]</text>
<polygon points="1222,724.6 1223.7,729.1 1228.6,729.3 1224.8,732.3 1226.1,737 1222,734.3 1217.9,737 1219.2,732.3 1215.4,729.3 1220.3,729.1" fill="#a01218"/>
<text x="1239.5" y="735.1" font-family="'Liberation Serif',serif" font-size="10.5" font-weight="bold" text-anchor="start" fill="#222" stroke="#222" >[50]</text>
<polygon points="1222,739.7 1223.7,744.3 1228.6,744.5 1224.8,747.5 1226.1,752.2 1222,749.5 1217.9,752.2 1219.2,747.5 1215.4,744.5 1220.3,744.3" fill="#8c8c8c"/>
<text x="1239.5" y="750.2" font-family="'Liberation Serif',serif" font-size="10.5" font-weight="bold" text-anchor="start" fill="#222" stroke="#222" >[51]</text>
<polygon points="1222,754.9 1223.7,759.4 1228.6,759.7 1224.8,762.7 1226.1,767.4 1222,764.7 1217.9,767.4 1219.2,762.7 1215.4,759.7 1220.3,759.4" fill="#1f7a1f"/>
<text x="1239.5" y="765.4" font-family="'Liberation Serif',serif" font-size="10.5" font-weight="bold" text-anchor="start" fill="#222" stroke="#222" >[52]</text>
<polygon points="1222,770.1 1223.7,774.6 1228.6,774.8 1224.8,777.9 1226.1,782.5 1222,779.9 1217.9,782.5 1219.2,777.9 1215.4,774.8 1220.3,774.6" fill="#f48a86"/>
<text x="1239.5" y="780.6" font-family="'Liberation Serif',serif" font-size="10.5" font-weight="bold" text-anchor="start" fill="#222" stroke="#222" >[53]</text>
<polygon points="1222,785.2 1223.7,789.8 1228.6,790 1224.8,793 1226.1,797.7 1222,795 1217.9,797.7 1219.2,793 1215.4,790 1220.3,789.8" fill="#f9aed0"/>
<text x="1239.5" y="795.7" font-family="'Liberation Serif',serif" font-size="10.5" font-weight="bold" text-anchor="start" fill="#222" stroke="#222" >[54]</text>
<polygon points="1222,800.4 1223.7,805 1228.6,805.2 1224.8,808.2 1226.1,812.9 1222,810.2 1217.9,812.9 1219.2,808.2 1215.4,805.2 1220.3,805" fill="#cdb9f5"/>
<text x="1239.5" y="810.9" font-family="'Liberation Serif',serif" font-size="10.5" font-weight="bold" text-anchor="start" fill="#222" stroke="#222" >[27]</text>
<polygon points="1222,817.5 1227.1,821.2 1225.2,827.2 1218.8,827.2 1216.9,821.2" fill="#fa8080" stroke="#fa8080" stroke-width="1.2" stroke-linejoin="round"/>
<text x="1239.5" y="826.1" font-family="'Liberation Serif',serif" font-size="10.5" font-weight="bold" text-anchor="start" fill="#222" stroke="#222" >[55]</text>
<polygon points="1222,832.6 1227.1,836.4 1225.2,842.4 1218.8,842.4 1216.9,836.4" fill="#12a82a" stroke="#12a82a" stroke-width="1.2" stroke-linejoin="round"/>
<text x="1239.5" y="841.2" font-family="'Liberation Serif',serif" font-size="10.5" font-weight="bold" text-anchor="start" fill="#222" stroke="#222" >[14]</text>
<polygon points="1222,847.8 1227.1,851.5 1225.2,857.6 1218.8,857.6 1216.9,851.5" fill="#7d7d7d" stroke="#7d7d7d" stroke-width="1.2" stroke-linejoin="round"/>
<text x="1239.5" y="856.4" font-family="'Liberation Serif',serif" font-size="10.5" font-weight="bold" text-anchor="start" fill="#222" stroke="#222" >[42]</text>
<circle cx="1207" cy="867.2" r="5.2" fill="url(#ballg)"/><ellipse cx="1205.4" cy="865.4" rx="2" ry="1.6" fill="#ffffff" opacity="0.85"/>
<text x="1224.5" y="870.8" font-family="'Liberation Serif',serif" font-size="11.7" font-weight="bold" text-anchor="start" fill="#9b2be0" stroke="#9b2be0" >This work</text>
<rect x="928.2" y="608.2" width="351.8" height="281.3" fill="none" stroke="#1c1c1c" stroke-width="2.4"/>
<path d="M928.2,889.5h5.5M928.2,869.4h3M928.2,849.3h5.5M928.2,829.2h3M928.2,809.1h5.5M928.2,789h3M928.2,768.9h5.5M928.2,748.9h3M928.2,728.8h5.5M928.2,708.7h3M928.2,688.6h5.5M928.2,668.5h3M928.2,648.4h5.5M928.2,628.3h3M928.2,608.2h5.5M928.2,889.5v-5.5M950.2,889.5v-3M972.2,889.5v-5.5M994.2,889.5v-3M1016.2,889.5v-5.5M1038.1,889.5v-3M1060.1,889.5v-5.5M1082.1,889.5v-3M1104.1,889.5v-5.5M1126.1,889.5v-3M1148.1,889.5v-5.5M1170.1,889.5v-3M1192,889.5v-5.5M1214,889.5v-3M1236,889.5v-5.5M1258,889.5v-3M1280,889.5v-5.5" stroke="#1c1c1c" stroke-width="1.8" fill="none"/>
<text x="922.5" y="895.5" font-family="'Liberation Serif',serif" font-size="18.5" font-weight="bold" text-anchor="end" fill="#111" stroke="#111" >-50</text>
<text x="922.5" y="855.3" font-family="'Liberation Serif',serif" font-size="18.5" font-weight="bold" text-anchor="end" fill="#111" stroke="#111" >0</text>
<text x="922.5" y="815.1" font-family="'Liberation Serif',serif" font-size="18.5" font-weight="bold" text-anchor="end" fill="#111" stroke="#111" >50</text>
<text x="922.5" y="774.9" font-family="'Liberation Serif',serif" font-size="18.5" font-weight="bold" text-anchor="end" fill="#111" stroke="#111" >100</text>
<text x="922.5" y="734.8" font-family="'Liberation Serif',serif" font-size="18.5" font-weight="bold" text-anchor="end" fill="#111" stroke="#111" >150</text>
<text x="922.5" y="694.6" font-family="'Liberation Serif',serif" font-size="18.5" font-weight="bold" text-anchor="end" fill="#111" stroke="#111" >200</text>
<text x="922.5" y="654.4" font-family="'Liberation Serif',serif" font-size="18.5" font-weight="bold" text-anchor="end" fill="#111" stroke="#111" >250</text>
<text x="922.5" y="614.2" font-family="'Liberation Serif',serif" font-size="18.5" font-weight="bold" text-anchor="end" fill="#111" stroke="#111" >300</text>
<text x="928.2" y="910" font-family="'Liberation Serif',serif" font-size="18.5" font-weight="bold" text-anchor="middle" fill="#111" stroke="#111" >200</text>
<text x="972.2" y="910" font-family="'Liberation Serif',serif" font-size="18.5" font-weight="bold" text-anchor="middle" fill="#111" stroke="#111" >250</text>
<text x="1016.2" y="910" font-family="'Liberation Serif',serif" font-size="18.5" font-weight="bold" text-anchor="middle" fill="#111" stroke="#111" >300</text>
<text x="1060.1" y="910" font-family="'Liberation Serif',serif" font-size="18.5" font-weight="bold" text-anchor="middle" fill="#111" stroke="#111" >350</text>
<text x="1104.1" y="910" font-family="'Liberation Serif',serif" font-size="18.5" font-weight="bold" text-anchor="middle" fill="#111" stroke="#111" >400</text>
<text x="1148.1" y="910" font-family="'Liberation Serif',serif" font-size="18.5" font-weight="bold" text-anchor="middle" fill="#111" stroke="#111" >450</text>
<text x="1192" y="910" font-family="'Liberation Serif',serif" font-size="18.5" font-weight="bold" text-anchor="middle" fill="#111" stroke="#111" >500</text>
<text x="1236" y="910" font-family="'Liberation Serif',serif" font-size="18.5" font-weight="bold" text-anchor="middle" fill="#111" stroke="#111" >550</text>
<text x="1280" y="910" font-family="'Liberation Serif',serif" font-size="18.5" font-weight="bold" text-anchor="middle" fill="#111" stroke="#111" >600</text>
<text x="1104" y="925.5" font-family="'Liberation Serif',serif" font-size="18.5" font-weight="bold" text-anchor="middle" fill="#111" stroke="#111" >Wavelength (nm)</text>
<text transform="translate(886.8,747) rotate(-90)" font-family="'Liberation Serif',serif" font-size="18.5" font-weight="bold" text-anchor="middle" fill="#111" stroke="#111">Data transfer rate (Mbps)</text>
</g>
<text x="138.8" y="37.4" font-family="'Liberation Sans',sans-serif" font-size="34.5" font-weight="bold" text-anchor="start" fill="#000" stroke="#000" >a</text>
<text x="826.8" y="33.3" font-family="'Liberation Sans',sans-serif" font-size="34.5" font-weight="bold" text-anchor="start" fill="#000" stroke="#000" >b</text>
<text x="140.2" y="367.8" font-family="'Liberation Sans',sans-serif" font-size="34.5" font-weight="bold" text-anchor="start" fill="#000" stroke="#000" >c</text>
<text x="826.4" y="369.3" font-family="'Liberation Sans',sans-serif" font-size="34.5" font-weight="bold" text-anchor="start" fill="#000" stroke="#000" >d</text>
<text x="835.2" y="589" font-family="'Liberation Sans',sans-serif" font-size="34.5" font-weight="bold" text-anchor="start" fill="#000" stroke="#000" >e</text>
</g>
</svg>
</body></html>
